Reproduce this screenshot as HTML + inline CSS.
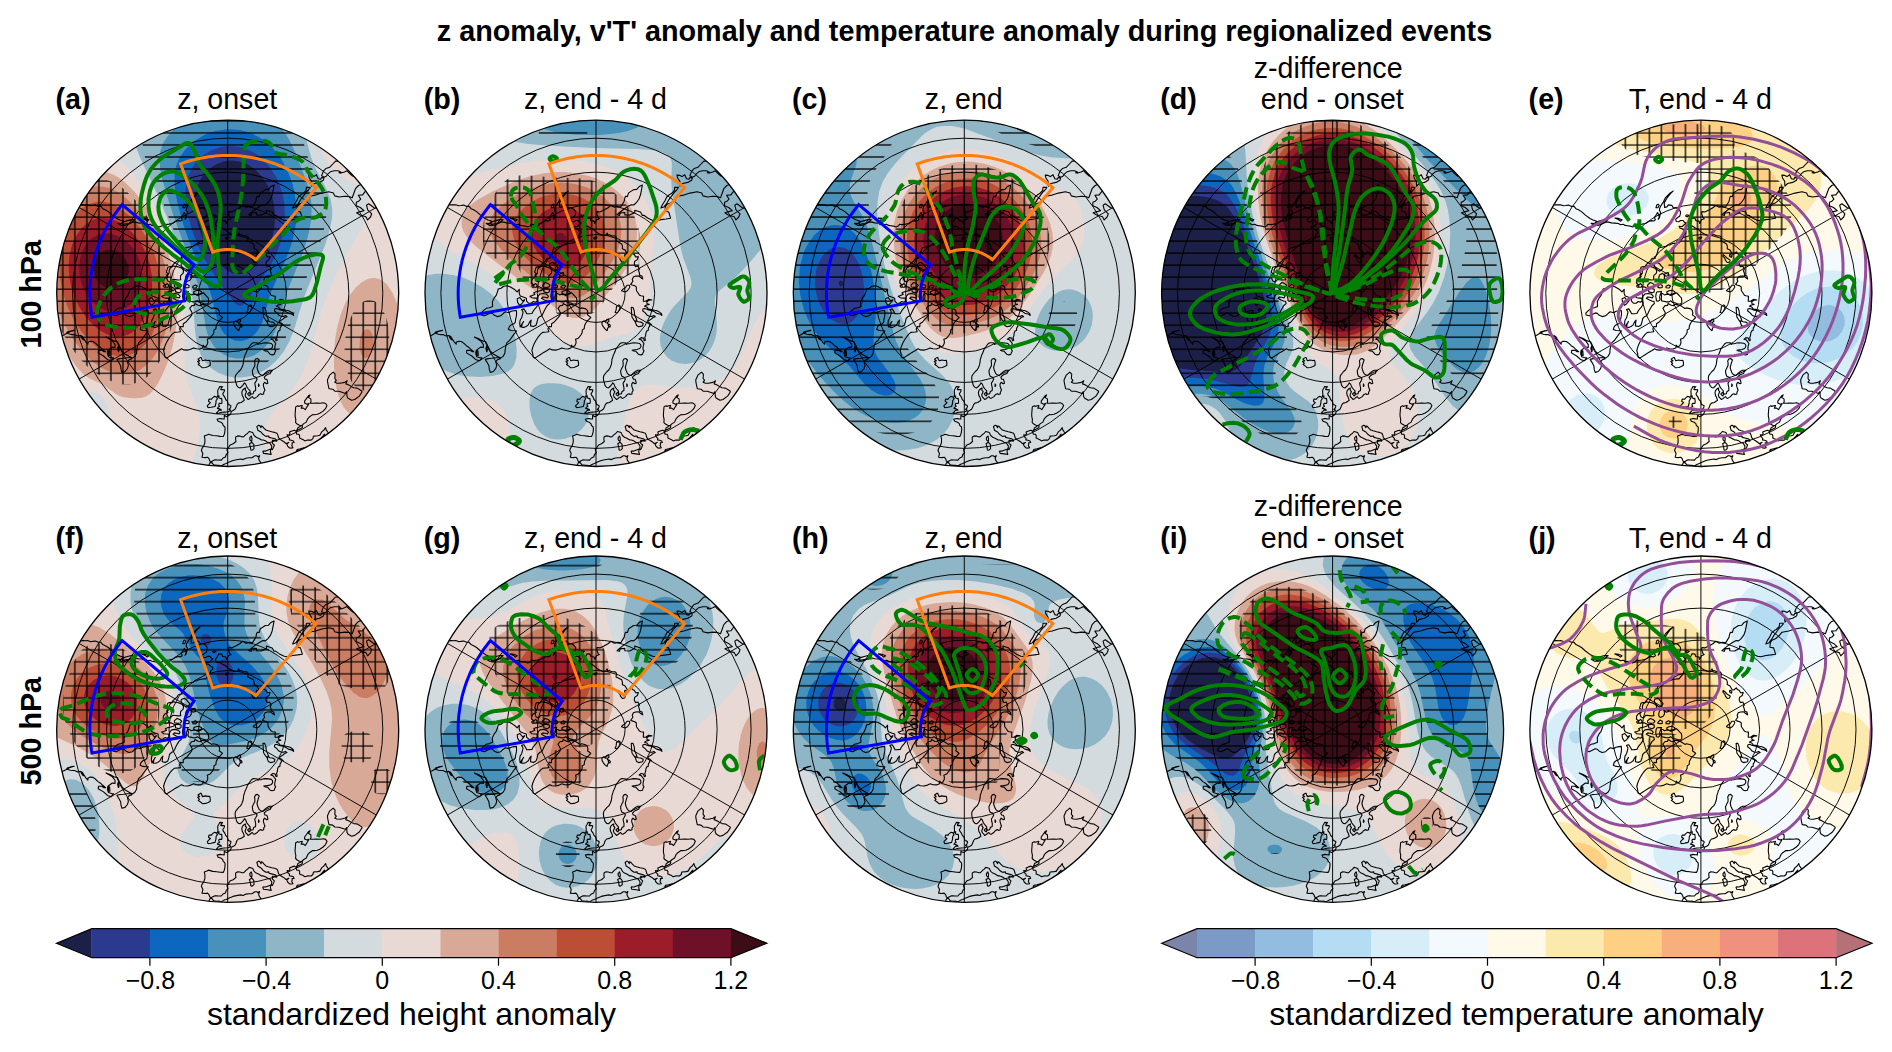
<!DOCTYPE html><html><head><meta charset="utf-8"><title>fig</title><style>html,body{margin:0;padding:0;background:#fff}svg{display:block}text{font-family:"Liberation Sans",sans-serif;fill:#000}</style></head><body>
<svg width="1892" height="1052" viewBox="0 0 1892 1052">
<defs>
<clipPath id="ca"><ellipse cx="227.7" cy="293.3" rx="171.0" ry="173.2"/></clipPath>
<clipPath id="cb"><ellipse cx="596.0" cy="293.3" rx="171.0" ry="173.2"/></clipPath>
<clipPath id="cc"><ellipse cx="964.3" cy="293.3" rx="171.0" ry="173.2"/></clipPath>
<clipPath id="cd"><ellipse cx="1332.6" cy="293.3" rx="171.0" ry="173.2"/></clipPath>
<clipPath id="ce"><ellipse cx="1700.9" cy="293.3" rx="171.0" ry="173.2"/></clipPath>
<clipPath id="cf"><ellipse cx="227.7" cy="729.2" rx="171.0" ry="173.2"/></clipPath>
<clipPath id="cg"><ellipse cx="596.0" cy="729.2" rx="171.0" ry="173.2"/></clipPath>
<clipPath id="ch"><ellipse cx="964.3" cy="729.2" rx="171.0" ry="173.2"/></clipPath>
<clipPath id="ci"><ellipse cx="1332.6" cy="729.2" rx="171.0" ry="173.2"/></clipPath>
<clipPath id="cj"><ellipse cx="1700.9" cy="729.2" rx="171.0" ry="173.2"/></clipPath>
<pattern id="hH" patternUnits="userSpaceOnUse" x="1.7" y="-0.32" width="12.02" height="12.02"><path d="M0 1H12.02" stroke="#000" stroke-width="1.3" fill="none"/></pattern>
<pattern id="hP" patternUnits="userSpaceOnUse" x="1.7" y="-0.32" width="12.02" height="12.02"><path d="M0 1H12.02M1 0V12.02" stroke="#000" stroke-width="1.3" fill="none"/></pattern>
<g id="grid" fill="none" stroke="#000" stroke-width="0.95"><circle r="155.1"/><circle r="121.1"/><circle r="89.1"/><circle r="58.7"/><circle r="29.1"/><path d="M0.0 173.2L-0.0 -173.2M150.0 86.6L-150.0 -86.6M150.0 -86.6L-150.0 86.6"/></g>
<g id="boxes" fill="none" stroke-width="3.0" stroke-linejoin="miter"><path stroke="#ff7f0e" d="M88.6 -105.6l-2.8-2.3 -2.9-2.2 -2.9-2.1 -2.9-2 -3.1-2 -3-1.9 -3.1-1.8 -3.2-1.8 -3.2-1.6 -3.3-1.6 -3.2-1.5 -3.4-1.4 -3.3-1.3 -3.4-1.2 -3.5-1.1 -3.4-1.1 -3.5-0.9 -3.5-0.9 -3.5-0.7 -3.6-0.7 -3.5-0.6 -3.6-0.5 -3.6-0.4 -3.6-0.3 -3.6-0.2 -3.6-0.1 -3.6 0 -3.6 0.1 -3.6 0.1 -3.6 0.3 -3.6 0.4 -3.6 0.4 -3.5 0.6 -3.6 0.6 -3.5 0.8 -3.5 0.8 -3.5 0.9 -3.5 1 -3.4 1.1 -3.4 1.2 32.1 88.3 1.1-0.3 1.1-0.4 1.1-0.3 1.1-0.3 1.1-0.3 1.1-0.2 1.2-0.2 1.1-0.2 1.1-0.1 1.2-0.1 1.1-0.1 1.2-0.1 1.1 0 1.2 0 1.1 0 1.2 0.1 1.1 0.1 1.1 0.1 1.2 0.2 1.1 0.2 1.1 0.2 1.2 0.2 1.1 0.3 1.1 0.3 1.1 0.3 1.1 0.4 1 0.4 1.1 0.4 1.1 0.4 1 0.5 1 0.5 1.1 0.5 1 0.6 1 0.6 0.9 0.6 1 0.6 0.9 0.6 1 0.7 0.9 0.7 0.9 0.7z"/><path stroke="#0000ff" d="M-105.6 -88.6l-1.9 2.3 -1.8 2.4 -1.8 2.4 -1.8 2.5 -1.7 2.4 -1.6 2.6 -1.6 2.5 -1.5 2.6 -1.5 2.6 -1.4 2.7 -1.4 2.6 -1.3 2.8 -1.2 2.7 -1.2 2.8 -1.1 2.8 -1.1 2.8 -1 2.8 -0.9 2.9 -0.9 2.8 -0.8 2.9 -0.8 2.9 -0.6 3 -0.7 2.9 -0.5 3 -0.5 2.9 -0.4 3 -0.4 3 -0.3 3 -0.2 3 -0.2 3 -0.1 3 0 3 0 3 0.1 3 0.2 3 0.2 3 0.3 3 0.4 3 0.4 3 0.5 2.9 92.6-16.3 -0.2-0.9 -0.1-1 -0.1-0.9 -0.1-1 -0.1-0.9 -0.1-1 0-0.9 0-1 0-1 0-0.9 0.1-1 0.1-0.9 0.1-1 0.1-0.9 0.1-1 0.2-0.9 0.1-0.9 0.2-1 0.3-0.9 0.2-0.9 0.2-1 0.3-0.9 0.3-0.9 0.3-0.9 0.4-0.9 0.3-0.9 0.4-0.8 0.4-0.9 0.4-0.9 0.4-0.8 0.5-0.9 0.5-0.8 0.5-0.8 0.5-0.8 0.5-0.8 0.5-0.8 0.6-0.8 0.6-0.8 0.5-0.7 0.6-0.8z"/></g>
<g id="coast" fill="none" stroke="#000" stroke-width="1.1" stroke-linejoin="round"><path d="M104.4 147.4 102.4 141.5 100 138.7 98.5 136.6 97.9 134.3 96 137.1 94.3 138.2 92.1 141.9 90 142.4 85.8 142.8 85.2 145.3 83.4 146.8 79.7 146.7 77.2 147.6 75.6 146.4 71.8 144.7 72 142.6 71.2 141 69 140.9 68.5 139.2 69.1 137.3 72.2 135.7 74.5 134.5 74.8 132.7 73.7 132.5 76.1 130.3 78.6 128.8 80 125.5 81.8 123.5 85 121.3 86.6 121.4 89.6 121 92.1 120 95.4 117.8 97.8 115.4 99.3 112.2 97.9 110.2 95.6 109.5 92.3 110 88.9 109.8 85.3 110 82.5 109.9 83.3 108.5 83.1 105.6 80.9 104.3 82.3 101.6 81 102.2 78.9 105.1 76.9 107.8 76.9 109.8 79.4 110.9 81.2 110.1 80.2 112.1 78.4 115 77.6 116.4 75.7 114.8 73.5 115 74.6 112.2 73 112.5 70.7 113.1 70 112.4 68 113.6 67.8 116.1 67.6 118.5 67.4 121 67.5 123.3 68.1 126 67.9 129.3 69.5 130.8 71.7 132 73.3 132.3 72.1 133.4 70.2 134.4 69.8 135.8 68.3 138.1 66.8 136.9 64.2 137.7 61.8 138.8 62.3 140.5 61.3 141.7 59.4 141.4 60 143.4 61.8 145 61.6 146.6 63.6 146.9 65.7 147.6 66.4 149.2 64.3 149.4 64.6 150.8 64 152.2 65.3 154.5 63.5 154.8 61.9 154.7 59.9 152.8 59.1 150.7 61.2 149.1 58.3 150.3 56.5 148.7 54.6 147.5 52.3 146.1 50.8 144.3 50.1 141.6 49.3 140 46.8 139.1 44 138.5 40.5 137.5 38.2 136.7 36.4 135 34.7 133 33.6 132.6 33.3 134.4 32 132.3 30.9 131.9 29.1 133.3 29.7 134.9 30.1 136.9 33.3 138.7 35.2 141 38.1 143.1 41.2 142.7 41.3 144.1 44 144.7 47.3 145.5 49.1 146.8 48.9 148 46.3 147 44.7 147.1 44.7 150 46.7 151.7 45.7 154.2 44.6 156.4 43.7 155.5 44.1 152.8 42.1 149.7 40 149.2 38.2 147.8 35.5 146.7 33.9 146.7 30.8 144.9 28.5 143.9 26.4 142.2 25.1 139.3 22.4 138.4 21.4 138.2 19.7 140.2 18.3 141.1 16.1 143.4 14.6 143.6 12.2 142.8 10 142.6 8 143.7 7.9 146.2 8.3 148.2 5.5 150.5 2.6 151.6 1.3 153.4 -0.8 156.6 0.3 159.4 -1.4 161.2 -2.3 163.7 -4.6 164.7 -6.4 166.8 -10.2 166.7 -12.8 166.5 -15.3 167.7 -16.5 168.7 -17.9 167.8 -18.6 165.6 -20.1 163.9 -22.8 164.3 -25.7 163.9 -24.8 160.4 -25.7 158.4 -26.3 157.2 -25.7 155.2 -23.9 152.6 -22.8 149.2 -22.8 145.7 -23.4 142.8 -20.7 141.8 -19.3 140.9 -14.9 142.2 -11.2 142.5 -7.5 143.1 -4.5 143.2 -3.5 141.2 -2.9 138.8 -2.6 135.7 -2.8 133.7 -4.6 132 -5 130.3 -6.8 128.9 -9.6 128 -10.6 125.9 -7.7 125.2 -5.5 125.6 -3.5 125.7 -3.4 123.4 -3.4 122 -1.1 123.4 0.2 122.7 2.1 121.4 3.3 119.7 3.5 118.1 5.7 117 7.3 116 8.2 114.3 9.3 111.3 10.6 109.8 13.4 109.2 15.2 108 16.6 107.1 16.2 105.6 15.5 103.7 14.6 102.3 14.1 99.1 14.7 97.1 16.6 95.2 17.7 94.7 17.6 97 18.9 98.3 18 100.1 17.4 101.8 18.1 103.7 19.5 105 20.4 106.2 22.3 105.1 23.1 104.3 24.6 103.3 25.7 104.7 26.8 105.1 29.6 103.3 31 101.5 33 100.3 34.1 101.2 36 100.6 36 98.9 37.2 97 36.5 95 35.7 92.5 35.8 90.5 36.9 89 39 90.5 40.2 90 39.7 87.5 39 86 37.3 85.8 36.5 84 37.9 82.4 39.6 81.2 42.6 80.1 43.5 78.2 44.8 77 41.8 77 39.8 78 37.3 79.9 35 82.3 32.9 81.5 31.4 80.1 30.1 77.3 29.3 74.3 30 71.4 30.7 69.1 31.5 66.7 29.7 65.2 27.9 65.7 26.8 67.7 27.2 69.9 27.1 72.5 25.8 74.9 24.6 77.6 25 80.7 25.9 83 28.2 83.9 29.4 85.8 28.3 88.1 27.1 89.8 27.4 92 28 94.5 27.9 97.2 26 98.3 25.4 100.5 23.3 101 22.4 99.2 22.4 97.6 20.7 95.7 19.2 93.8 18 90.8 16.7 89.5 16 90.9 14.5 92.7 12.5 94.6 10.7 94.2 9 92.1 8.3 89.4 7.6 87 7.4 84.5 7.8 82.3 9.4 80.2 11 78.2 12.8 76.7 14.2 74.2 15.2 71.6 15.7 69 16 66.1 16.8 63.7 17.4 61.6 18.2 60.2 19.1 58 19.8 55.9 21.3 54 22.5 52.2 24 50.3 25.7 49.4 28 49.5 29.9 49.8 30.1 51.1 31.6 50.5 33.4 50.4 35.5 49.7 37.9 49.4 40.9 49.7 43.6 50.2 44.8 51.5 44.9 53.5 43.7 55.2 40.9 56.2 38.2 56.6 36.1 56.9 37.7 57.7 39.9 58 41.3 59.6 42.5 61 44.4 61.6 46.5 61.1 46.9 59.6 48 57.6 47.1 56.4 47 54.8 47.3 52.6 48 50.2 46.6 48.3 45.1 46.4 43.1 45.8 45.1 44.3 47.4 44.8 48.3 47.4 49.5 47 48.8 44.3 49.6 42.4 49.9 39.7 50.8 37.6 52.2 37.2 52.4 34.7 53.6 32.8 53.7 31 55.5 31.4 53.1 29.5 51.6 29.2 52.6 27.4 55.3 25.8 57 24.2 59.3 23.4 57.8 22.2 55.9 23.1 53.9 23.1 51.2 21.9 49 19.3 46.8 17.7 46.9 15.7 48.6 15.1 51.7 16.3 54.9 17.1 58.3 18.3 60.6 19.9 64.4 20.9 65.9 22.2 65.5 20.3 63.2 18.6 61 17.5 58.6 17 55.7 16.3 52.4 15.8 50.9 13.8 48.6 13 50.5 11.7 53.3 11.1 51.1 10.4 50.8 8.5 52.8 7 55.9 6.7 52.6 6.1 49.7 8 47.3 7.9 47.6 2.9 44.9 2.5 43.5 1.9 42.3 0 40.5 -2.5 40.3 -4.6 40.3 -6.4 38.7 -7.5 36.1 -8.3 34.7 -8.9 35.6 -10.2 36.9 -12 36.2 -13.9 37.4 -16.4 39.6 -17.2 42.8 -17.3 45.1 -15.5 46.7 -14.3 46 -17.2 43.7 -18.1 43.3 -20.6 42.4 -23 43.5 -24.1 41.9 -27.2 39.5 -26.6 38.3 -28.9 38.6 -31.8 41.3 -33.7 42.4 -36.6 39.7 -36.4 38.2 -38.9 36.4 -39.7 35.4 -41.4 32.9 -39.2 31.3 -39.4 29.1 -43.2 26.3 -44.6 26.5 -46.9 25.7 -49.4 22.3 -51.3 20.1 -52.3 20.4 -56 19.2 -57.3 15.9 -57.4 13 -58.7 11.8 -57.8 11.2 -60.3 9.7 -58.2 6.6 -58 3.6 -59.2 1.1 -60.5 -0.5 -62 -2.8 -64 -5.7 -65.3 -8.2 -67.2 -10.5 -66.6 -11.8 -68.2 -12.5 -69.6 -11.3 -71 -9.7 -73.7 -9 -75.4 -5.9 -75.1 -5.1 -72.7 -1.9 -72.2 -1.2 -69.8 0 -72.2 0.6 -73.5 3.3 -74.6 2 -75.9 0.8 -79.3 1 -81.7 3.8 -81.3 8 -83.2 12 -85.5 15 -87.9 18.3 -86 21.6 -86.8 24.7 -86.3 26.7 -89.6 28.2 -92.1 28.8 -95.3 29.6 -97 31.4 -96.7 32.6 -100.4 37.7 -103.7 40.7 -103.9 43.2 -106.8 46.4 -108.3 45.4 -103 44.5 -98.5 43 -94.3 40.3 -90.6 37.7 -88.3 35.3 -88.6 31.6 -86.7 27.4 -83.8 23 -80.3 21.1 -78.6 23.5 -77.9 24.1 -80.3 28.8 -80.8 28.9 -78.4 33.7 -78.2 38.9 -80.9 38.7 -83.1 44.5 -81.2 46.4 -77.9 47.9 -78.1 51.7 -75.3 56.6 -72.9 60 -72.5 65 -73.7 70 -74.3 74.7 -75 72.7 -81.3 69 -82 69.4 -86.6 71.1 -89 74.5 -90.4 77.7 -92.9 81.1 -97 87.8 -98.2 94.1 -100.2 101.1 -101.5 105.7 -100.3 107 -97.4 111.6 -96.3 116.9 -97.1 121.2 -96.8 124.5 -95.5 125.8 -99 127.8 -104.6 130.8 -107.8 134.1 -109 136.4 -107.3 141 -104.3 137.4 -101.7 134.9 -98.4 130.6 -98.1 133 -94.2 131 -92.1 128.6 -91.1 128.5 -87.6 132.6 -85.8 136.3 -82.6 132.7 -81.7 128.9 -80.5 132.3 -78.3 138.2 -76.6 139.9 -73.4 142.8 -76.3 144 -79.5 140 -83.5 138.8 -88.1 141 -89.5 146.4 -85.5 150.6 -84.8 152.7 -89.3 155.2 -92.5M-27 178.6 -23.6 176.8 -20.6 175 -18.6 171.4 -17.5 169.3 -16 169.1 -14.1 171.5 -10.8 172.1 -9 171.9 -6.6 172.7 -3.6 170.9 -1.5 170.2 1.5 168.8 5.3 167.2 8.7 166.4 13 165.7 15.4 166.3 18.2 164.9 21.4 164.5 24.3 164.5 27.2 162.5 29.2 162.5 30 163.5 31.9 162.4 30.9 165.2 31.6 167.3 33.2 169.2 31.1 173 31.5 174.8 35.1 177.2M-11.6 120.2 -8.4 119.8 -5.8 119 -3.1 118.8 0.4 118.5 2.7 117.5 2.6 116.5 1.2 116.2 2.6 114.9 3.3 112.6 1.8 111.6 0.6 111.3 0.2 109.7 -0.4 107.8 -2 106.2 -2.9 103.9 -4.6 101.6 -4.9 100.3 -3.6 98.5 -3.2 96.6 -5.7 96.2 -6.9 96.4 -6.5 94.9 -5.1 93.4 -8 93.2 -8.8 95 -9.8 96.5 -10 98.4 -9.8 100 -9.8 101.9 -10.3 103.4 -8.6 102.6 -9 104.5 -7.2 105.3 -6.1 105 -5.8 107.3 -5.7 108.6 -6 110.2 -8.5 110 -9 111.6 -8.1 113 -9.8 114.1 -10.3 115.1 -8.1 115.6 -6.7 116.3 -6.3 117 -8.6 116.8 -10.2 118.7 -11.6 120.2M-19.6 114.5 -16.6 114 -13.9 113.4 -12.7 113.2 -11.7 109.7 -11.7 107.5 -10.3 105.4 -11.3 103.7 -13.4 103.1 -15.7 105 -16 105.9 -18.7 105.8 -19.2 108 -17.3 109.3 -19 111 -20.4 112.4 -19.6 114.5M-26.7 63.8 -25.8 66.2 -25.1 67.4 -22.5 66.7 -19.9 67.2 -18 67.1 -17.4 69.8 -17.6 72.3 -19.6 73.3 -22 74.2 -25.3 74.5 -27.2 72.8 -29.5 71.2 -28.3 70.1 -30.1 68 -27.9 67.6 -29.7 65.8 -28.3 64.8 -26.7 63.8M-10.1 15.6 -8.7 17.1 -8 19.7 -8.5 21.6 -6.2 23.3 -5.2 24.2 -7.3 26.4 -8.8 27.8 -10.2 29.7 -11.5 32.4 -11.8 35.4 -13.7 36.6 -13.8 39.1 -14.8 41.2 -16.1 43 -17.7 44.9 -20.5 46 -19.9 48.1 -20.1 50.3 -21.3 52.7 -23.3 53.5 -24.7 51.9 -24.8 54.5 -27.8 55.7 -31.4 55.5 -34.1 54.6 -37.7 56.2 -40.5 56.8 -43.9 56.6 -46.2 55.5 -48.9 57.2 -52.3 59.1 -55.8 61.4 -58.8 63.3 -61.1 64.9 -63 63.5 -63.2 60.6 -64.1 57.3 -63.2 53.8 -61.6 49.9 -59.8 46.7 -57.7 43.5 -55.5 40.9 -53.4 39.1 -49.5 38.7 -47.1 38.4 -48.1 35.6 -46.9 33.2 -44.5 33.5 -44.4 30.5 -41.7 28.7 -39.5 26.1 -37.7 24 -36 21.8 -35.6 19.4 -36.8 17.1 -38 15 -35.8 12.3 -33.4 12.2 -32.8 10.2 -29.7 12 -27 12.3 -26.6 11 -24.3 11.3 -22.3 11.9 -20 12.5 -18 13.8 -16 15.2 -14.6 14.6 -12.3 15.1 -10.1 15.6M11.1 37.5 8.8 35.4 7.4 33.6 6.1 31.4 5.9 29.1 7.9 27.7 9.7 29 10.5 26.5 12.5 25.6 13 28 11 29.5 12.3 31.2 12.7 33.2 11.5 35.5 11.1 37.5M13.4 33.9 12.2 32.1 12.7 30.7 14.2 31.9 14.2 33.5 13.4 33.9M21.1 19.7 19.1 19.1 20.1 16.8 20.5 13.3 22.8 11.6 24.2 12.8 23.7 15.4 22.7 17.7 21.1 19.7M46.6 32.6 42.7 33.4 40.6 32.2 39.5 29.2 40.5 27.3 42.2 28.5 44.8 28.8 47.2 30.1 46.6 32.6M39.3 28.5 37.8 26.5 36 23.8 35.6 20.1 35.4 16.5 35.2 14 37 14.2 38.2 17.4 38.6 21.4 39.9 24.4 40.7 26.4 39.3 28.5M33.9 -6 31.4 -2.5 29.1 -1.3 25.5 -2.5 26.8 -4 29.2 -5.4 31 -8 33.4 -8 33.9 -6M29.4 -33.2 28.6 -31.2 26.3 -30.8 24.5 -33.1 24 -34.9 21.9 -37.2 22.3 -38.7 24.2 -37.2 26.4 -35 29.4 -33.2M31.2 -37.9 30.4 -35.9 28.6 -37.3 28.9 -39 31.2 -37.9M1.2 -56.3 0.2 -55.1 -0.9 -54.2 -2.1 -54.4 -2 -55.9 1.2 -56.3M82.8 -105.9 78.7 -106 78.4 -102.9 75.4 -99.7 73.7 -98.9 70.7 -96.3 69 -92.6 66.7 -89.1 64.9 -85.2 67.8 -86.2 70.8 -90 72.8 -93.5 75.4 -96.9 78.3 -100.9 80.7 -103.3 82.8 -105.9M96.4 -115.2 95.6 -113.1 91.8 -110.9 86.7 -109.8 84 -107.1 83.8 -112 81.6 -115.3 81 -118.2 83.8 -117.9 86.1 -116.7 88.7 -118.6 90.5 -114.6 93 -114 93.9 -115.9 96.4 -115.2M124.6 -128.2 119.1 -127.7 115.1 -131.4 111.8 -132.3 107.8 -132.2 105.1 -129.3 102.1 -126.1 98.1 -124.7 95.7 -122.1 93.9 -117.7 96.4 -116.1 98.6 -117.1 100.2 -119.4 102.7 -121.5 106.5 -122.5 110.3 -122.5 113.1 -121.3 111.3 -120.6 113.3 -120.2 116.8 -121.4 119.2 -122.6 122 -119.8 124.9 -117.3 129.9 -116.2 133.7 -115.8 131.7 -118.6 128.6 -119.9 124.6 -122.4 123.9 -124.7 124.6 -128.2M139 -115.4 136.3 -115.1 134 -116.1 133.5 -118.9 134.5 -120.6 139 -115.4M35 157.7 37.9 157.8 43.2 155.7 42.7 158.4 43.5 161.2 40 160.6 35.8 160.1 35 157.7M23.2 157 22.7 153.5 21.7 150.4 24.1 149 26.1 151.1 26.3 155.4 24.8 156.7 23.2 157M24 148.3 22.2 146.5 22.1 144.4 23.6 142.7 24.3 145.4 24 148.3M68.6 157.8 69.5 156.2 72.6 155.6 76.4 154.6 74.6 156.3 71.8 157.6 68.6 157.8M93.9 147.3 92.6 145.9 94.8 143.2 96.8 140.9 96.8 143.6 95.1 146.5 93.9 147.3M134.6 98.2 132.9 96.9 129.5 94.8 126.2 94.4 123.9 93.4 121.8 92.1 120.2 91.2 118.1 90.6 119.5 87.5 117 89.1 112.4 90 109 89.8 107.1 88.9 108.6 87 107.1 85.2 107.4 80.9 105.5 78.9 101.9 81.9 99.8 86.5 99.8 88 100.4 91.4 101.3 95.4 105 95.9 107.1 97.8 111.1 98 114.3 99 117.6 100.1 119 98.4 119.3 103 120.1 104.8 123.9 107 127 106.2 131.6 102.8 134.6 98.2M21.5 102.7 19.9 100.7 21.6 99.1 22.5 100.5 22.2 102.5 21.5 102.7M30.8 93.6 30.8 90.6 31.5 92 30.8 93.6M-160.5 -82.9 -156.7 -84.4 -155 -85.2 -152.5 -86.6 -150.8 -88.8 -148.1 -88.3 -144.5 -88.6 -142.1 -88.4 -140.2 -88.6 -137.5 -87.6 -135.2 -87.8 -132.3 -88.2 -129.4 -86.9 -126.8 -86.9 -125 -84.6 -122.4 -83.5 -119.4 -81.7 -115.5 -78.2 -110.9 -74.8 -107.8 -73.3 -104.2 -72.1 -106.6 -69.7 -109.7 -69.9 -106.2 -67.9 -104.2 -67.9 -101.7 -68.1 -98.9 -69.3 -94.6 -71.3 -92.2 -71.2 -89.5 -70.4 -86 -70.2 -82.6 -69.8 -80.3 -68.5 -77.7 -69 -75.7 -67.9 -73.5 -67.6 -70.8 -67.2 -68.2 -66.3 -65.6 -67.5 -64.9 -69.1 -62.1 -68.7 -58.7 -69.2 -55.5 -69.8 -52.3 -71.8 -49.4 -72.7 -47.3 -72.3 -45.5 -73.4 -46.6 -76 -45 -78 -43.3 -80.8 -42.4 -78.8 -41.6 -76.4 -42.7 -74 -41.5 -75.4 -40.9 -78.2 -40.3 -81.2 -41.5 -82.8 -41.1 -85.4 -39.6 -88.2 -37.4 -91.5 -35.6 -95.3 -33.1 -97.9 -30.7 -100.3 -27.8 -102.2 -30.5 -99.7 -32.9 -96.6 -34.6 -94 -36.7 -90.4 -36.5 -88.1 -36.3 -85.9 -34 -86.4 -32.5 -88.4 -28.9 -87.9 -27.8 -85.7 -24.5 -85.4 -22.2 -84.1 -20.4 -81.7 -20.5 -79.4 -21.3 -77 -23.2 -75.8 -25.2 -74.2 -24.7 -71.8 -22.2 -71.6 -20.2 -72.8 -17.8 -72.8 -16.4 -71 -14.8 -70.4 -17 -68.3 -19.1 -66.5 -21.8 -67 -20.8 -65.1 -18.9 -64.7 -16.8 -62.8 -14.9 -62 -15 -60.1 -17 -58.3 -17.6 -55.9 -19.1 -53.9 -20.5 -52.1 -21.8 -50.3 -24.1 -50.5 -26 -49.9 -28.2 -49.8 -30.5 -48.7 -33.1 -48.1 -34.7 -46.9 -37.3 -46.4 -39.7 -46 -42.3 -45.3 -42.8 -43.6 -43.4 -41.2 -44.3 -38.5 -45 -37.1 -46.5 -36.3 -45.4 -35.2 -48.2 -35 -49.6 -34.1 -50.5 -32.2 -52.4 -30.8 -54.4 -28.9 -55.8 -27 -58.3 -26.6 -59.9 -26 -60.7 -23.3 -61.4 -21.2 -59.7 -19.6 -61.1 -18.1 -59.7 -16.6 -62.9 -15.1 -64.3 -13.1 -64.5 -10.2 -62.6 -8.8 -64.3 -7.3 -63.5 -6.1 -59.8 -6.3 -56.8 -6.5 -54.2 -5.2 -52.5 -4.1 -54.4 -2.9 -57.7 -2 -59.8 -1.6 -62.3 -0.5 -61.1 1.1 -64 2.2 -66.1 2.9 -63.9 4.5 -61.5 4.8 -59.1 4.8 -58.8 7.7 -60.4 9 -62.6 8.2 -64.8 9.9 -67.2 10 -69.4 7.9 -69.6 4.9 -72.7 3.8 -75.8 2.6 -76.8 0 -76.7 -4 -78.9 -1.4 -81 -3.5 -83.4 -5.1 -86.1 -6.6 -88.8 -7.5 -92.3 -7.1 -95 -5 -97.8 -4.3 -98.5 -1.4 -99.8 2.1 -101.6 4.4 -103.6 8.2 -103.4 13.1 -106.5 14.4 -109.7 15 -112.6 17.4 -115.1 19.9 -114.8 21.7 -111.7 22.5 -108.6 21.1 -105.7 19.6 -103.6 20.1 -101.6 22 -98.7 23.3 -95.3 22.5 -92.6 20 -90.7 18.5 -87.3 19.4 -84.8 18 -82 17.4 -79.6 17.2 -79.4 20.5 -79.7 23.1 -80.4 26.1 -80.7 28.9 -82.1 30.5 -85 31.6 -86.7 33.3 -87.6 36.1 -84.8 37.2 -81.2 37.5 -79.4 37.7 -81.8 40.6 -84.1 43.8 -86.5 47.2 -89 49.3 -90.2 52.9 -90.9 56.8 -91.1 60 -92.9 63.1 -95.3 64.8 -97.7 63.5 -102.9 60.6 -105.8 57.5 -108.2 52.8 -110.3 48.4 -113.8 47.6 -117.7 45.2 -121.7 43.8 -118.6 45.5 -115.2 47.7 -112.6 51.3 -112.7 54.2 -115.4 53.8 -117.1 55.1 -119.8 57.1 -120.3 60 -119.3 63.4 -116.1 64.4 -114.1 64.5 -116.3 67.4 -119.9 66.5 -124.2 62.7 -129.5 59.6 -129.2 57 -125.8 57.1 -123.7 58.5 -122.1 58.5 -125.3 55.8 -127.2 54 -129.7 52.4 -132 50.1 -134.6 48.2 -137.6 47.9 -139.8 49 -139.8 50.9 -141.6 49 -143.2 46.5 -145.4 43.1 -147.1 42.2 -149.9 42.7 -153.2 41.3 -155.1 41.3 -157.4 41 -160.6 40 -157.7 38.2 -153.5 37.1 -157.1 37.7 -160.5 38.8 -161.3 40.2 -164.3 41.9 -167 42.9 -169.6 40.1 -172.2 37.2 -174.1 35.4 -177.6 32.9M-95.6 65.5 -98.5 66.4 -100.3 68.4 -99.3 72.1 -100.3 75.3 -102.7 78.2 -105.7 79.1 -106.7 76.1 -107 72.7 -108.8 69.3 -110.8 66.1 -107.8 65.3 -104.1 65 -100.5 64.5 -97.5 64.3 -95.6 65.5M-105.5 -69.6 -103.8 -71.6 -100.1 -72.7 -96.1 -73.7 -92.8 -73.6 -95.1 -71.7 -98.6 -69.8 -101.5 -69.5 -104.3 -69 -105.5 -69.6M-86.3 -75.3 -82.3 -74.9 -78.8 -73.5 -80.6 -72.1 -82.5 -73.8 -86.3 -75.3M-43.2 -89.3 -41.7 -87.9 -43 -85.5 -44.9 -85.6 -44.3 -88 -43.2 -89.3M-14.1 -78.6 -11.6 -77.8 -13.5 -76.5 -15.3 -77.4 -14.1 -78.6M-47 7.9 -46.5 10.3 -48.8 12.2 -50.1 14.4 -51.5 16.9 -53.1 20.4 -54.2 22.4 -56.4 23.4 -58.2 25.3 -58.9 28.7 -60 31.9 -62.4 33.2 -65.5 32.6 -65.2 29 -64.8 26.8 -66.5 28.9 -67.7 31.6 -69.9 33.2 -72.2 34.1 -74.4 33.9 -73.8 30.6 -72.4 28.2 -74.3 31.1 -75.8 33.7 -76.3 30.1 -75.9 26.9 -74.4 24.5 -73.6 21.8 -72.9 18.8 -74.4 16.2 -72.1 15.6 -70.1 18.8 -69.3 20.5 -66.8 20.4 -64 20.2 -63 18.1 -61.4 15.9 -60 14.4 -58.4 11.9 -57.9 9.7 -58.8 7.7 -58.4 5.1 -57.7 2.5 -56 0.7 -52.7 0.2 -49.7 0.9 -47.6 2.9 -48.6 4.7 -50.8 4 -53.2 3.7 -54.6 5 -51.4 6.8 -49.1 7.8 -47 7.9M-71.1 6.2 -73.4 7.7 -76.1 4.3 -78.8 5.5 -78.4 8.9 -76.5 12.1 -74.5 10.7 -72.4 8.2 -71.1 6.2M-57.6 -25.3 -54.3 -27.3 -52.1 -26.9 -50.2 -26.7 -48.2 -26.1 -45.5 -24.8 -44.2 -22.7 -44.5 -20.1 -47.1 -17.6 -47.3 -15.4 -46.9 -13.5 -49.5 -13.3 -52.4 -13.7 -55.2 -13.8 -57.3 -11.3 -59.8 -12.2 -60.8 -14.6 -60.9 -16.9 -58.6 -20.2 -58.5 -23 -57.6 -25.3M-46.2 -30 -43.1 -30.8 -41.2 -29.4 -39.5 -27.2 -37.8 -25.5 -38.9 -23.8 -41.3 -22 -43.7 -23.7 -45.7 -26.2 -46.7 -28.1 -46.2 -30M-53.6 -8 -50.7 -10.8 -47.9 -9.7 -46 -8.1 -47.2 -6.2 -50 -5.9 -52.9 -6.3 -53.6 -8M-52.5 -4.6 -49.5 -4.9 -46.6 -4.1 -46.7 -1.6 -48.8 -0.4 -52.1 -1.4 -52.5 -4.6M-62.3 -8.2 -60.3 -9.8 -58.7 -8 -59.9 -6.1 -62 -6 -62.3 -8.2M-41.4 -18.4 -38.3 -20 -36.6 -18.2 -36.4 -15.1 -37.8 -13 -40.7 -11.7 -42.1 -13.3 -42.1 -15.8 -41.4 -18.4M-43.4 -6.1 -41 -9.1 -38.6 -7.9 -38.7 -5.8 -41.1 -5.4 -43.4 -6.1M-44.6 7.6 -42.5 7.9 -40.9 6.5 -41.3 3.6 -40.3 0.4 -39.3 -1.7 -41.4 -1.6 -43.8 -1.5 -44.7 0 -45.2 3.2 -44.6 5.9 -44.6 7.6M-40 0.3 -39.3 2.7 -39.6 5.6 -39.2 7.6 -37.1 7.9 -34.5 8.6 -32.1 8.6 -30.2 7.5 -28.2 9.2 -26 9.5 -23.4 10.4 -20.5 10.9 -19.1 9.3 -19.1 7 -19.5 4.5 -21 3 -22.7 1.2 -24.4 -0.6 -26.2 0.5 -28.2 1.5 -30.2 2.1 -32 1.1 -34.4 0.9 -36.4 1.6 -38.2 0.3 -40 0.3M-34.4 -1.2 -31.9 -2.5 -28.9 -3 -26.4 -1.8 -25.6 -0.4 -28.2 0.5 -31.1 1.2 -33.5 0.3 -34.4 -1.2M-35.2 -6.8 -32.4 -8.4 -30.3 -7.3 -31.9 -5.3 -34.8 -5.5 -35.2 -6.8M-35.6 -20.1 -32.7 -20.8 -32.1 -17.8 -34.9 -17 -36.4 -18.5 -35.6 -20.1M-109.2 58.8 -110.1 54.9 -109.3 52.8 -108.6 56.5 -109.2 58.8M-119.2 62.1 -119.2 57.6 -118.1 57.6 -117.7 62.1 -119.2 62.1M-146.9 42.7 -145.3 44.4 -143.9 46.7 -145.4 45.6 -146.9 42.7"/></g>
</defs>
<rect width="1892" height="1052" fill="#fff"/>
<g clip-path="url(#ca)">
<circle cx="227.7" cy="293.3" r="173.2" fill="#d4dbde"/>
<path fill="#e9d9d4" d="M327 117.3l1.4-2 77.3 0 0 356 -125.6 0 -5.1-6 -5.2-8 -2.9-6 -2.5-8 -0.8-6 0.2-6 1.5-6 2.7-6 5.6-8 20.1-23.6 6-8.9 4.9-9.5 5.2-14 11-42 6.9-19.9 10-21.8 23.2-42.3 4.2-10 2.7-10 0.7-6 -0.4-6 -1.2-4 -2.8-4 -5.4-4 -13-6.2 -8-5.1 -4-3.5 -4-4.5 -5.2-8.7 -1.6-4 -1.5-6 -0.6-10 0.7-6 1-4 2.3-6zM74.9 149.3l6.8-1.4 6-0.3 6 0.5 8 2 6 2.5 6 3.4 8 5.9 6 5.7 6 6.6 6 7.8 6 9 6 10.3 11.7 24 9.5 24 4.7 14 3.3 12 2.4 12 1.3 10 0.8 18 -1 42 1.1 16 2.9 12 9.5 24 1.9 10 -0.2 12 -2.3 14 -3.4 14 -4.3 12 -58.9 0 -7-14.1 -3.8-5.9 -4.2-4.7 -8-6.8 -1.5-2.5 -0.4-4 2.2-10 0.8-6 -0.4-8 -1.7-6 -2.1-4 -2.9-3.5 -4-2.6 -4-0.9 -4 0.5 -4.5 2.5 -3.6 4 -2.1 4 -1.3 4 -2.2 18 -0.3 0.8 -2 1.5 -2 0.2 -4-1.2 -6-3.3 -7-6 -5-6.6 0-245 6-5.7 6-4.5 6-3.4z"/>
<path fill="#d9a997" d="M88.6 171.3l7.1-0.8 6 0.5 6 1.4 6 2.4 6 3.5 6 4.6 10 10.2 6 7.8 6 9.1 10 18.3 8.9 21 3.4 10 3.3 12 3.2 18 1 18 -1.5 20 -1.5 10 -2.2 10 -2.6 8.9 -3.2 9.1 -4.8 10.9 -4 7.6 -4 6 -4 4.3 -4 2.4 -4 1.2 -6 0.6 -6-0.2 -6-0.9 -4-1.3 -4-2.1 -14-9.8 -12-5.5 -6-3.8 -8-8.9 -11.2-16.5 -7.7-14 -7.1-16.4 0-110.4 3.5-7.2 4.5-7.3 4-5.3 5-5.4 5-4.2 6-3.8 6-2.7zM367.1 279.3l2.6-0.8 4-0.5 4 0.6 4 1.7 4 3 2 2.1 5.1 7.9 4 10 3.2 14 1.4 14 -0.1 14 -1.5 14 -2.9 14 -3.9 12 -5.3 11.4 -6 8.9 -4 4.3 -4 3.2 -6 3.1 -4 1 -4 0.2 -6-1.4 -6-4 -4-4.8 -4.1-7.9 -2.9-10 -2-12 -0.8-12 0.2-14 1-12 2.1-12 3.2-12 3.9-10 5.4-10 6-7.8 6-5.3z"/>
<path fill="#cb7d63" d="M91 187.3l4.7-0.8 6 0 6 1.1 4 1.3 6 3 6 4.1 10 9.5 6 7.3 6 8.6 9 15.9 3.7 8 3.7 10 4.9 18 1.4 8 1 10 0 16 -2 16 -1.9 8 -2.5 8 -3.3 7.6 -3.6 6.4 -4.2 6 -3.6 4 -4.6 4 -4 2.6 -4 2 -6 1.7 -4 0.5 -6-0.1 -6-1.1 -6-2.1 -6-3 -6-3.9 -6-4.9 -5.7-5.7 -10.3-13 -8.9-15 -6.8-16 -3.2-10 -1.9-8 -1.8-10 -0.8-8 -0.2-16 1.9-16 1.8-8 2.5-8 3.3-8 3.1-6 3.9-6 4.9-6 4.2-4 5.7-4 4.3-2.2zM363.4 331.3l2.3-1.7 2-0.3 2 1 2.2 3 1.3 4 0.5 3.5 -0.4 6.5 -1.6 5.5 -2 3.2 -2 1.6 -2 0.4 -2-0.6 -2-2.2 -1.6-3.9 -0.7-4 0.5-8 1.8-5.5z"/>
<path fill="#bd4e36" d="M91 203.3l4.7-1.2 4-0.5 4 0.2 6 1.3 4 1.5 6 3.3 10 7.9 10 11.2 8 12.2 6 12.6 4.3 13.5 2.6 14 0.7 16 -1.3 14 -3.3 14 -5 11.8 -6 8.7 -4 4.1 -4 3.1 -4.1 2.3 -5.9 2.1 -8 0.7 -4-0.4 -6-1.5 -6-2.7 -4-2.3 -5.2-3.9 -4.8-4.3 -8.5-9.7 -7.7-12 -6.6-14 -4.5-14 -2.5-14 -0.7-14 1.3-14 3.2-12.9 4.6-11.1 3.4-5.7 3.2-4.3 6.8-6.8 4-2.7z"/>
<path fill="#9d1c29" d="M94 219.3l3.7-1.1 4-0.4 8 0.8 8 3 8 5 8 7.3 7.2 9.4 5.3 10 3.4 10 2.2 12 0.3 12 -1.5 12 -2.9 10.8 -4.1 9.2 -5.9 8.3 -6 5.1 -4 2.1 -4 1.3 -6 0.6 -8-1.3 -8-3.8 -8-6.1 -8-8.7 -6-9.1 -5.1-10.4 -3.3-10 -2-10 -0.7-12 0.9-10 2.4-10 3.8-8.8 6-8.6 6-5.3z"/>
<path fill="#6f1029" d="M97.3 235.3l6.4-1.7 6 0.1 6 1.5 6 2.8 6 4.4 4.5 4.9 4.1 6 3.4 8 1.8 8 0.4 8 -1 8 -1.9 6 -3.3 6.8 -4 5.3 -6 4.9 -6 2.7 -6 0.8 -6-0.7 -6-2.3 -4-2.5 -6-5.4 -4-5.1 -4-7.1 -2.7-7.4 -1.3-6.2 -0.5-7.8 0.8-8 1.6-6 2.7-6 3.4-4.9 4-3.9z"/>
<path fill="#3c0d16" d="M103 251.3l2.7-1 4-0.5 4 0.5 4 1.5 4 2.8 2 2.1 2 2.8 1.8 3.8 1 4 0.2 4 -1.2 6 -1.8 3.7 -2 2.5 -2 1.8 -4 2.3 -6 1.1 -4-0.5 -2.7-0.9 -5.3-3.5 -2.2-2.5 -2.3-4 -1.3-4 -0.6-4 0.1-4 1-4 1.3-3 2.1-3 2-2z"/>
<path fill="#8fb6c6" d="M139.2 117.3l1.4-2 162.1 0 4.6 28 3.8 14 4.6 11.4 10.8 20.6 4.1 10 1.6 10 0 6 -0.7 6 -2.7 12 -3.8 12 -19.4 48 -3.9 11.2 -7.5 24.8 -4.8 12 -5.5 10 -6.2 8 -8 7.5 -4 2.8 -6 3.3 -8 3 -10 1.7 -8-0.2 -8-1.7 -8-3.3 -6-3.9 -6-5.8 -4.7-7.4 -3.1-8 -1.8-8 -1.2-10 -1.5-22 -1.4-12 -2.7-14 -4-14 -8.3-24 -11.3-29.2 -10-23.4 -15.7-33.4 -3.2-8 -1.8-6 -1.1-8 0.5-6 1.7-6zM93.6 405.3l2.1-0.1 1.6 2.1 0.4 2 -0.8 2 -1.2 1.3 -2-0.3 -1.6-3 0.3-2z"/>
<path fill="#4791bb" d="M190.4 117.3l4-2 68.8 0 6.5 3.6 6 4.4 6 5.7 4 5.1 4 6.6 4 8.3 7.4 18.3 5.2 14 3 10 1.8 10 0.5 10 -0.7 10 -2.2 12 -2.7 10 -3.3 10 -16.2 40 -9.7 34 -5.1 10.9 -3.4 5.1 -3.4 4 -7.3 6 -3.9 2.1 -6 2.2 -6 1 -6-0.1 -6-1.3 -4-1.6 -4.1-2.3 -4.9-4 -3.4-4 -3.6-6 -2.4-6 -1.6-6 -4.7-30 -3.4-14 -4.7-14 -20.2-56 -6.5-20 -4-14 -2-10 -0.7-10 0.8-8 2.8-8 4.6-7.3 6-6.6 8-6.6z"/>
<path fill="#0d67be" d="M226.6 129.3l7.1 0.1 6 0.7 6 1.4 6 2.1 6 2.8 6 3.7 6 4.9 4 4 5.1 6.3 3.9 6 6.7 14 2.9 8 2.1 8 2 14 0.2 8 -0.7 10 -1.7 10 -2.5 10 -5 14 -15.3 34 -2.6 8 -4.9 18 -2.1 6 -4.1 7.4 -4 4.6 -6 4 -6 1.7 -6-0.3 -4-1.4 -3.5-2 -4.5-4.3 -2.5-3.7 -2-4 -2.7-8 -4.1-18 -3.1-10 -17.6-41.2 -8.2-22.8 -6-22 -1.9-10 -1-8 -0.1-10 1.8-10 3.4-8.1 6-8.3 8-7.4 10-6.2 6-2.6 6-1.8z"/>
<path fill="#2b3a8f" d="M220.2 147.3l5.5-1 6-0.2 10 1.4 10 3.9 6 3.7 4 3.2 8 8.6 6.5 10.4 4.9 12 1.7 6 1.4 8 0.7 12 -1.1 14 -2.8 12 -4.5 12 -3.9 8 -4.9 8.5 -18 27 -4 5.3 -2 2 -2 1.3 -2 0.4 -2-0.5 -2-1.2 -4-4.5 -20-28.7 -8-13.4 -6-12.4 -5.9-15.8 -3.8-14 -2.1-12 -0.6-10 0.9-10 2.2-8 3.3-6.9 5.2-7.1 6.8-6.2 8-4.8z"/>
<path fill="#1c1f47" d="M224 161.3l7.7-0.8 8 1 8 3.1 8 5.4 6.8 7.3 5.1 8 4.2 10 2.4 10 0.9 10 -0.7 12 -2.2 10 -3.7 10 -5.7 10 -7.1 8.6 -4 3.5 -4 2.6 -6 2.1 -6-0.1 -4-1.2 -4-2 -8-6.4 -6-6.9 -6-9 -5.5-11.2 -4.1-12 -2.2-10 -1-10 0.2-8 1.4-8 3.2-8.4 4-6.3 6-6.2 6-4z"/>
<path fill="url(#hH)" d="M152.5 117.3l1.8-2 141 0 1.8 4 2.6 7.8 5.1 20.2 3.7 12 4 10 9.1 20 2.8 8 1.4 6 0.6 6 -0.1 6 -1 8 -2.7 12 -3.8 12 -18.5 46 -10.4 34 -4.8 12 -5.6 10 -6.6 8 -7.2 6.2 -4 2.6 -6 2.9 -8 2.4 -8 0.9 -8-0.7 -8-2.3 -8-4.2 -6-5 -4-5 -4-7.8 -2.5-8 -1.4-8 -2.7-28 -1.4-10 -2.1-10 -2.8-10 -13.1-37.7 -12-31.2 -15.2-37.1 -2.9-8 -2.2-8 -1.2-10 1.1-8 3.4-8z"/>
<path fill="url(#hP)" d="M91.2 179.3l4.5-0.6 6 0.2 6 1.3 6 2.3 6 3.3 6 4.6 10 10.1 6 7.8 6 9 9.7 18 4.4 10 3.7 10 4.9 18 2.7 18 0.3 18 -2 18 -3.9 16 -3 8 -3.7 8 -3.6 6 -4.4 6 -5.1 5.3 -4 2.9 -4 2.2 -6 2 -4 0.7 -6 0.1 -6-0.9 -4-1.3 -8-3.7 -9.5-5.3 -5.7-4 -4.8-4.3 -6-6.5 -5.6-7.2 -10.2-16 -5.1-10 -3.4-8 -5.7-17.6 0-72.3 1.9-6.1 3.2-8 4.1-8 3.9-6 4.9-6 6-5.7 6-4 6-2.8zM364.1 301.3l3.6-1.2 2-0.1 4 0.8 4 2.5 4 4.6 3.7 7.4 2.3 8 1.2 8 0.5 10 -0.7 10 -1.4 8 -2.2 8 -3.4 8.3 -4 6.5 -4 4.4 -4 2.7 -4 1.3 -2 0.1 -4-0.9 -4-2.6 -3.2-3.8 -2.8-5 -2-5.4 -1.8-7.6 -1-8 -0.3-8 0.4-8 1-8 1.7-7.2 2.3-6.8 2.8-6 2.9-4.5 4-4.5z"/>
<use href="#coast" x="227.7" y="293.3"/>
<use href="#grid" x="227.7" y="293.3"/>
<path fill="none" stroke="#008000" stroke-width="4.0" stroke-linejoin="round" stroke-linecap="butt" d="M188.8 143l-1.8 0 -2.1 0.7 -9.4 5.9 -7.8 4.4 -5.1 3.3 -2.3 1.8 -4.2 4 -3.9 4.4 -1.7 2.4 -3.1 5.4 -1.3 3.1 -2.2 6.6 -2.3 9.3 -0.9 5.7 -0.4 5.7 0.3 5.8 0.9 5.8 1.6 5.7 1.1 2.7 2.8 4.7 5.6 6.5 6.8 6.7 12.9 10.7 12.7 9.4 11.2 9.6 9.8 8 3.7 2.3 3.5 1.7 3.5 1.1 1.4 0.1 1.2-0.4 0.8-1.6 0.2-2.7 -2.7-28.2 -0.2-7 0.4-7 2.8-28.1 0-6.8 -0.8-5.9 -1.4-5.8 -1-2.7 -2.2-5.1 -2.7-4.5 -4.7-6.4 -6-6.9 -2.5-3.5 -1.5-3.5 -1.6-5.3 -2.5-5.8 -2.2-4 -1.2-1.5z"/>
<path fill="none" stroke="#008000" stroke-width="4.0" stroke-linejoin="round" stroke-linecap="butt" d="M173.6 171.5l-1.8-0.1 -3.9 0.6 -2 0.6 -3.7 1.7 -1.8 1.2 -3.4 2.9 -3 3.5 -1.3 1.9 -1.1 2.3 -1.7 5 -1.4 7.9 0 7.7 0.8 5.1 0.6 2.5 1.6 4.6 2.3 4.5 2.7 4.2 3.4 3.9 8 7.5 24.5 24.7 5.4 4.7 3.2 2.4 1.6 0.7 1.4 0.2 1.4-0.4 1.4-0.9 1.3-1.1 1.2-1.5 2-3.2 0.9-2.4 0.6-2.8 0.6-6.4 0.1-9.6 -0.7-9.7 -1.7-12.9 -0.8-4.3 -1.3-4.8 -2.7-7.7 -2.3-5 -2.7-4.7 -5-6.6 -3.5-3.8 -5.8-4.9 -7-4.8 -3.1-1.8 -1.6-0.6z"/>
<path fill="none" stroke="#008000" stroke-width="4.0" stroke-linejoin="round" stroke-linecap="butt" d="M167.9 190.5l-1.4 0.5 -1.4 0.9 -2.5 2.4 -1.9 2.8 -0.8 1.7 -1 3.7 -0.5 4.1 0.2 4.1 1 4.5 2.6 6.7 2.7 4.5 8.6 11 5.8 6.9 10.2 10.9 3.1 2.4 2.6 1.2 2.5 0.6 1.1 0 1.1-0.3 0.9-0.7 0.9-1.2 1.9-4.8 1.3-5.9 0.3-4.7 -0.2-4.7 -0.7-5.1 -2.2-7.6 -2-5.2 -2.7-5.2 -3.1-5 -5.1-6.6 -3.8-4 -4.2-3.2 -4.4-2.5 -4.7-1.9 -2.2-0.4z"/>
<path fill="none" stroke="#008000" stroke-width="4.0" stroke-linejoin="round" stroke-linecap="butt" stroke-dasharray="12.5 5.5" d="M245.9 144.9l1.5-1.3 2.1-1 2.4-0.9 5-1 4.1-0.2 3.8 0.4 1.7 0.5 3.1 1.6 1.2 1.2 2.4 5.3 0.9 1.7 1.2 1.3 1.9 0.9 2.3 0.6 7.7 1.1 2.4 0.6 7.2 2.6 4.3 2.3 1.8 1.4 1.3 1.5 0.9 1.6 2.4 5.6 1.1 1.7 1.6 1.9 7.3 7.5 4.3 6.3 2.4 4.5 0.9 2.3 1 4.5 0.1 4.7 -0.7 4.5 -0.7 1.9 -2.2 2.7 -2.9 2.2 -3.5 1.7 -2.4 0.6 -8.8 0.1 -3.1 0.3 -2.8 0.9 -3.3 2 -3.2 2.7 -12.5 13.4 -28.6 28.7 -8.3 7.2 -1.5 0.8 -1.5 0.3 -2.5-0.6 -2.4-1.8 -1.8-2.3 -0.8-2.1 -0.4-2.6 -0.1-3 0.5-13 0.8-11.4 1-7.8 1.7-8.8 3.1-13.5 2.6-15.7 0.8-7.6 0.6-8.4 0.4-18.5 0.7-8.4 0.7-2.6z"/>
<path fill="none" stroke="#008000" stroke-width="4.0" stroke-linejoin="round" stroke-linecap="butt" d="M244 295.1l0.7-1.5 2.2-1.6 14.2-7.4 19-11.4 12.6-9.4 3.1-2.1 3.3-1.8 6.7-2.9 3.5-1.1 6.4-1.6 2.4-0.1 2 0.2 1.7 0.6 1.1 1.1 0.2 1.3 -0.2 1.6 -2.5 8.5 -3.3 14.4 -3.1 9.6 -0.9 2.1 -1.1 1.8 -1.5 1.6 -2 1.2 -2.3 0.8 -2.6 0.6 -11.1 1.6 -8.6 0.8 -5.7 0.1 -5.7-0.4 -5.7-0.8 -16.3-3 -3.2-0.8 -2.3-0.9z"/>
<path fill="none" stroke="#008000" stroke-width="4.0" stroke-linejoin="round" stroke-linecap="butt" stroke-dasharray="12.5 5.5" d="M97 312.4l0.2-2.1 0.5-2.2 0.8-2.3 2.1-4.6 3.8-6.3 3.2-3.9 3.6-3.4 4.1-2.7 2.1-1.2 4.7-1.9 5.4-1.5 3.1-0.5 6.5-0.5 12.3-0.2 16 1.4 6.6 1.1 3.8 1.6 1.7 1.1 3.2 2.5 5.4 5.7 2.2 3.3 0.7 1.7 0.2 1.5 -0.4 1.7 -0.9 1.6 -1.3 1.6 -5 4.7 -5 3.4 -6 3.1 -16.4 7.8 -7.1 2.8 -6.8 1.5 -6.4 0.5 -12-0.2 -7.9-0.7 -4.7-1.1 -5.3-2.4 -3-2.1 -1.2-1.2 -1.5-2.3 -1-2.6 -0.2-1.3z"/>
<path fill="none" stroke="#008000" stroke-width="4.0" stroke-linejoin="round" stroke-linecap="butt" stroke-dasharray="12.5 5.5" d="M134 304.7l0.7-2.5 1.3-2.8 1.8-2.3 1.3-0.9 1.4-0.8 3.3-1.2 3.6-0.9 4.2-0.7 4.6-0.3 4.5 0.1 5.9 1.1 3.7 1.1 6.6 2.5 2.3 1.5 0.5 0.8 -0.3 1.1 -2.2 2.5 -3.4 2.6 -3.9 2.3 -2.4 1.1 -5.3 1.9 -5.3 1.5 -5.3 0.9 -5.4 0.4 -2.4-0.1 -2.1-0.3 -2.7-0.9 -2.4-1.3 -1.6-1.6 -0.7-1.4 -0.3-2.5z"/>
<use href="#boxes" x="227.7" y="293.3"/>
</g>
<ellipse cx="227.7" cy="293.3" rx="171.0" ry="173.2" fill="none" stroke="#000" stroke-width="1.3"/>
<g clip-path="url(#cb)">
<circle cx="596.0" cy="293.3" r="173.2" fill="#d4dbde"/>
<path fill="#e9d9d4" d="M532.8 161.3l19.2-1.6 18 0.3 18 2.1 16 3.9 12.8 5.3 5.2 3 6 4.3 8.9 8.7 7.1 10 4.1 8 2.9 8 1.9 8 1.1 10 -0.4 14 -3.6 28 -0.2 24 -1.8 9.3 -4 9.9 -6 9.4 -6 5.5 -6 2.5 -14 3.2 -16 6.3 -8 2.1 -6 0.7 -6-0.3 -6-1.2 -6-2.2 -6-3.6 -6-5.3 -6-7.3 -8.9-13 -4.6-6 -5.6-6 -6.8-6 -15.7-12 -16.4-11.3 -12-7.3 -21.1-11.4 -9.5-6 -7-6 -3.4-4 -2.6-4 -2.6-6 -1.2-6 0-8 1.1-6 2.3-6.2 4-6.8 4.3-5 5.7-4.8 8-4.5 10-3.5 52-12.2zM765.3 311.3l4.7-1.3 4 0.7 0 159.1 -3.3 1.5 -139.9 0 -6.8-4.6 -4-4.5 -2.2-4.9 -0.7-6 0.6-6 10.9-42 3.4-8.3 4-5.5 2.8-2.2 3.2-1.5 6-1 6 0.3 24 2.6 8 0 8-0.7 8-1.4 8-2.1 6-2.1 6-3 4-2.7 4-3.5 6-7.5 5-9.4 9-22.6 4-8.4 6-8.8zM453.6 399.3l6.4-1.1 8-0.6 8 0 6 0.6 5.5 1.1 4.5 1.5 4 1.9 4 3 4 4.7 2.6 4.9 2 6 1.1 6 0.2 6 -0.8 6 -2.5 6 -2.6 3.5 -6 4.4 -8 3 -8 1.2 -10 0 -10-1.6 -10-3.3 -8-4.3 -6.4-4.9 -5.1-6 -3.2-6 -1.1-4 -0.3-4 0.9-6 3-6 2.2-2.5 4-3.3 8-4z"/>
<path fill="#d9a997" d="M543.7 173.3l14.3-1.3 8 0.1 8 0.8 14 2.9 8 2.8 6.1 2.7 5.9 3.2 6 4.1 5.6 4.7 3.9 4 3.2 4 3.9 6 2.9 6 1.9 6 1.6 10 0 6 -0.6 6 -3 12 -5.4 12 -7.8 12 -22.2 28.3 -4 4.2 -4 3.3 -4 2.5 -4 1.6 -4 0.8 -6-0.3 -6-2 -6-3.7 -22-18.7 -32.8-24 -28.4-22 -6.4-6 -3.4-4 -3.6-6 -1.4-4 -0.5-4 0.3-4 2.1-6 2.6-4 3.5-3.7 8-6.1 14.9-8.2 21.1-9.6 16-5.4z"/>
<path fill="#cb7d63" d="M550.8 183.3l11.2-0.7 12 1.2 12 3.3 10 4.7 8 5.5 7.9 8 5.1 8 1.8 4 1.7 6 0.9 8 -0.9 10 -3.1 10 -5 10 -9.4 14 -9.9 12 -7.1 6.5 -4 2.4 -4 1.5 -4 0.6 -4-0.2 -4-1 -6-2.6 -14-8.5 -18.4-12.7 -14.6-12 -12-12 -7.9-10 -2.2-4 -1.5-4 -0.7-4 0.2-4 2.1-6 4.3-6 8.9-8 12.2-8 11.6-5.7 12-4.2z"/>
<path fill="#bd4e36" d="M546.8 195.3l9.2-1.7 8-0.2 10 1.6 8 2.8 6.1 3.5 7.1 6 4.6 6 3.8 8 1.7 8 0 8 -1.4 8 -3.6 10 -5.5 10 -6.1 8 -6.7 6 -6 3 -6 0.9 -4-0.3 -4-0.9 -10-4.2 -10.7-6.5 -10.2-8 -7.7-8 -5.7-8 -3.8-8 -1.8-8 0.5-6 2.1-6 3.9-6 5.8-6 7.6-5.6 8-4.1z"/>
<path fill="#9d1c29" d="M553.6 207.3l6.4-0.9 6 0.3 6 1.7 4 2.1 4 3 3.4 3.8 2.6 4.2 2.2 5.8 1 6 0 6 -1.3 8 -2.2 6 -3.4 6 -3.4 4 -4.9 3.6 -4 1.5 -6 0.4 -6-1.2 -6-2.6 -5.8-3.7 -4.6-4 -5-6 -2.3-4 -2.3-6 -0.8-6 0.2-4 1.5-6 1.9-4 2.8-4 4.4-4.2 6-3.8z"/>
<path fill="#6f1029" d="M558.3 233.3l1.7-0.5 2.8 0.5 2.1 2 1 2 -0.1 4 -1.8 2.7 -2 1.1 -2-0.1 -2-0.9 -2.2-2.8 -0.3-4 0.7-2z"/>
<path fill="#8fb6c6" d="M481.5 117.3l2-2 254.1 0 6.4 4.1 6.5 5.9 5.5 6.9 6 9.4 7.5 13.7 4.5 10 0 65.2 -3.9 6.8 -4.2 6 -15.9 18.9 -12 12.7 -6 5.5 -13.3 10.9 -2.7 3.7 -0.9 2.3 -0.3 4 2.1 20 0 6 -0.5 6 -1.3 6 -2.3 6 -3.6 6 -3.5 4 -5.7 4.4 -4 2.1 -4 1.3 -6 0.9 -7.6-0.7 -6.4-2.5 -4.8-3.5 -4.6-6 -2.1-6 -0.6-6 0.6-6 1.5-6 3.4-8 4.6-7.7 4-5.3 14.5-15 2.5-4 0.6-4 -1.2-6 -7.4-20 -3-12.9 -8-53.1 -0.7-10 0.6-18 -1-4 -1.2-2 -3.7-3.2 -4-1.8 -4-1.2 -8-1.2 -12-0.8 -44-1.2 -44-2.2 -22-1.8 -16.9-2.6 -14.1-4 -7-3.1 -4.8-2.9 -2.4-2 -2.9-4 -0.5-2 0.1-2zM427.8 275.3l8.2-1.5 8 0 10 1.4 10 2.8 8 3.4 10.3 5.9 8 6 8.2 8 6.1 8 4.3 8 3.7 10 3 12 1.1 10 -0.3 8 -1.5 6 -2.1 4 -1.8 2 -2.6 2 -4.1 2 -10.3 2.5 -14 1.1 -14-0.6 -10-1.8 -10-3.5 -8-4.9 -7.2-6.8 -5.7-8 -7.1-13.4 0-56.9 5.1-3.7zM546.4 383.3l7.6-0.1 6 0.6 6 1.5 6 2.2 4 2.2 4.7 3.6 3.6 4 2.4 4 1.5 4 0.9 6 -0.7 6 -1.4 4 -2.1 4 -3.2 4 -4.5 4 -5.2 3.1 -6 2.2 -6 0.9 -6-0.2 -4-0.9 -4-1.6 -5-3.5 -3.6-4 -3.4-5.6 -3-8.4 -1.4-8 -0.1-8 1.3-6 2.2-4 3-2.7 4-2z"/>
<path fill="#4791bb" d="M543.2 117.3l5.4-2 78.5 0 5.9 2 4 2 2.3 2 0.8 2 -0.6 2 -2.2 2 -4 2 -6.4 2 -6.9 1.4 -10 1.4 -12 0.9 -22-0.3 -12-1.1 -10-1.7 -9.3-2.6 -4-2 -2.3-2 -0.9-2 0.5-2 1.8-2z"/>
<path fill="url(#hH)" d="M539.6 130.4l4.6-1.6 8.5-0.9 10.4-0.4 10.5 0.4 8.5 0.9 4.5 1.6 0.5 0.6 0.4 1.7 -0.4 1.7 -0.5 0.7 -4.5 1.5 -8.5 1 -10.5 0.3 -10.4-0.3 -8.5-1 -4.6-1.5 -0.8-1.5 0-1.8 0.3-0.8z"/>
<path fill="url(#hP)" d="M510.7 177.3l5.5-1.5 6.3-0.6 6.8 0.3 21.2 1.8 22.6 0.7 7.5 0.5 7 0.9 6.2 1.5 4.2 1.5 3.9 1.7 3.6 2 6.7 4.7 7.4 6.7 4.2 4.4 4.1 4.9 3.7 5.1 3.2 5.3 2.4 5.3 1.4 5.2 0.7 5.6 0.2 5.7 -0.5 16 0.2 10.3 -0.2 3 -0.6 2.7 -1.2 2.1 -1.7 1.2 -2.3 0.5 -5.4 0.4 -2.7 0.5 -2.4 1 -2.6 2.1 -2.5 2.8 -2.3 3.2 -9.3 13.1 -4.1 6.8 -2.3 3.2 -2.6 2.8 -3.2 2.1 -5.3 2 -6.6 1.5 -7.2 0.8 -6.9 0 -6-0.7 -4.1-1.8 -1.4-1.9 -0.5-2.6 -0.1-6 -0.4-3 -1.2-2.7 -3.4-3.3 -4.8-3 -11.3-5.6 -5.2-2.9 -4.2-3.3 -2.3-2.9 -1.7-3.3 -2.8-6.5 -1.7-3 -2.3-2.4 -3.9-1.8 -4.9-0.8 -10.4-1.1 -4.6-1.2 -3.3-2.3 -2.4-4 -1.3-5.1 -0.7-5.8 -0.1-6.2 0.3-6 0.5-5.4 0.8-4.5 1.1-4.4 1.4-4.3 1.7-4.2 1.9-4 4.5-7.7 5.3-7.6 3.1-3.4 3.5-2.9z"/>
<use href="#coast" x="596.0" y="293.3"/>
<use href="#grid" x="596.0" y="293.3"/>
<path fill="none" stroke="#008000" stroke-width="4.0" stroke-linejoin="round" stroke-linecap="butt" d="M597.7 289.8l-1.1-1.2 -0.8-2.3 -2.9-12.6 -3.2-11.4 -2.2-8.6 -1.9-8.6 -0.9-5.6 -0.5-7.8 0.2-7.4 1-6.8 1.8-6.6 2.9-6.9 3.8-6.4 4.4-5 5.1-4.5 11.4-7.6 1.5-1.4 4.1-4.6 2.9-2.5 3.4-1.7 3.6-1.1 3.5-0.5 4 0.5 2.5 1.1 1.1 0.7 1.3 1.4 1.3 1.7 2.1 4.1 3.7 8.5 5.3 15.8 1.2 4.4 0.4 3.8 0 3.1 -1 4.8 -2.2 4.3 -8.2 11.4 -20.7 27.1 -4.4 5.4 -11.1 12.6 -6.5 8.5 -2.5 1.8 -1.9 0.4z"/>
<path fill="none" stroke="#008000" stroke-width="4.0" stroke-linejoin="round" stroke-linecap="butt" stroke-dasharray="12.5 5.5" d="M511.2 196.7l-0.1-1.3 0.3-2.6 1-2.2 1.6-1.7 2.5-1.1 4.2-0.6 2.7 0.4 2.7 0.9 1.2 0.7 1.8 1.8 1.2 2.4 2 6.2 4 19.3 0.2 1.8 -0.2 2.8 -0.7 2.5 -1 1.7 -0.6 0.4 -1.3-0.4 -1.7-1.3 -2-2 -3.8-4.7 -3-3.9 -5.3-9.6 -4.5-6.4 -0.8-1.6z"/>
<path fill="none" stroke="#008000" stroke-width="4.0" stroke-linejoin="round" stroke-linecap="butt" stroke-dasharray="12.5 5.5" d="M533 228.1l1.8 0.1 2.2 1.3 9.3 8.4 8 6.2 3.2 3.2 3.3 3.7 4.6 6 13.9 20.9 2.7 3.7 5 5.5 1 1.3 0.2 0.9 -0.7 0.2 -1.3-0.2 -7.5-2.3 -22.9-5.7 -8.8-1.5 -6.7-0.5 -8.8 0 -12.3 0.8 -5.2 0.6 -3.4 0.7 -11.5 2.8 -2.7 0.4 -1.4-0.5 0.1-1 0.9-1.5 6.6-7.5 6.2-8.1 2.9-2.8 6.6-4.8 2.9-3.1 2.6-3.6 3.5-6.2 1.1-2.9 2.2-10.7 1-2.5z"/>
<path fill="none" stroke="#008000" stroke-width="4.0" stroke-linejoin="round" stroke-linecap="butt" stroke-dasharray="12.5 5.5" d="M590.1 299.9l5.3-3.8"/>
<path fill="none" stroke="#008000" stroke-width="4.0" stroke-linejoin="round" stroke-linecap="butt" stroke-dasharray="12.5 5.5" d="M494.6 278.4l9.9-7"/>
<path fill="none" stroke="#008000" stroke-width="4.0" stroke-linejoin="round" stroke-linecap="butt" d="M549.6 158.7l0.2-0.5 1-1.1 2.2-0.9 2.5 0.9 1.3 1.1 0.2 0.5 -0.2 0.5 -1.3 1.2 -1.8 1 -0.7 0.1 -1.4-0.5 -1.9-1.8z"/>
<path fill="none" stroke="#008000" stroke-width="4.0" stroke-linejoin="round" stroke-linecap="butt" d="M729.3 285.4l0.3-0.8 2.4-1.9 9.4-5.9 1.2-0.4 1.1 0 2.2 1 2 2.1 1.3 2.3 0.1 1.3 -0.3 1.5 -1.5 4.8 -0.2 1.4 0.3 1.3 1.7 5 -0.1 1 -0.6 0.8 -0.8 0.9 -2.1 1.4 -2 0.5 -1-0.5 -2.2-2.3 -1.7-3.1 -0.5-1.4 0.1-1.2 1.9-5.2 -0.2-0.8 -0.7-0.3 -1.1 0.1 -4.3 1 -1.1-0.1 -2.4-1 -1-1z"/>
<path fill="none" stroke="#008000" stroke-width="5.0" stroke-linejoin="round" stroke-linecap="butt" d="M507.9 439.7l0.5-0.7 2.2-1 2.6-0.5 1.2 0 1 0.3 2.2 1.1 1.6 1.5 0.2 0.7 -0.2 0.7 -0.7 0.8 -2 1.5 -2.1 1 -1.8 0.1 -1.9-0.4 -1.4-0.8 -1.3-2.1 -0.3-1.6z"/>
<path fill="none" stroke="#008000" stroke-width="4.5" stroke-linejoin="round" stroke-linecap="butt" d="M680.5 439.7l2.8-6.3 0.8-1 2.2-1.4 3.8-1.3 2.6-0.2 6.6 1.5"/>
<use href="#boxes" x="596.0" y="293.3"/>
</g>
<ellipse cx="596.0" cy="293.3" rx="171.0" ry="173.2" fill="none" stroke="#000" stroke-width="1.3"/>
<g clip-path="url(#cc)">
<circle cx="964.3" cy="293.3" r="173.2" fill="#d4dbde"/>
<path fill="#e9d9d4" d="M957.7 149.3l10.6 0 10 1.3 14 3.5 12 4.4 10.5 4.8 9.5 5.2 28 18.8 18.8 8 3.2 2.5 2.9 3.5 3.9 8 2.3 10 0.8 12 -0.5 6 -1.2 6 -2.2 6 -2.3 4 -5.2 6 -16.5 14.9 -8 8.8 -10 13 -18 26.5 -6 7.4 -4 4 -6 4.6 -4 2.4 -12 5 -24 6.9 -6 1 -6 0.4 -6-0.6 -6-1.7 -6-3.2 -6-5.1 -4-4.9 -4-6.2 -14-26.4 -8.6-18.8 -3.5-10 -2.8-10 -3.8-20 -0.9-10 -0.2-10 1.2-14 1.8-8 2-6 2.6-6 3.3-6 7.6-10 5.3-5.4 6-5.2 6-4.3 8-4.8 6-2.9 8-2.9 6-1.5z"/>
<path fill="#d9a997" d="M950.4 163.3l7.9-1.3 8-0.4 8 0.4 10 1.7 10 3 8 3.4 8 4.3 7.1 4.9 7.1 6 7.6 8 6.2 8 5.1 8 4.1 8 3.1 8 1.9 8 0.6 8 -0.4 6 -1.6 8 -3.8 10 -4.1 8 -7.4 12 -9.5 13.9 -8 10.2 -6 6.3 -6 5 -6 3.9 -12 5.4 -8 2.5 -14 3.5 -8 1.4 -6 0.5 -6-0.4 -4-1.1 -4-1.9 -4.4-3.2 -3.6-3.6 -4-4.9 -14-21.5 -8-15.2 -5.5-14.8 -2.5-9.6 -1.6-8.4 -1.3-16 0.8-14 2.7-12 2.2-6 2.9-6 6.3-9.7 8-8.6 10-7.6 6-3.5 6-2.8z"/>
<path fill="#cb7d63" d="M957.2 171.3l7.1-0.6 8 0.2 8 1.1 8 2.1 8 3 6 3.1 6 3.8 6 4.7 4.9 4.6 5.3 6 4.4 6 4.6 8 3.6 8 2.5 8 1.4 8 0.4 6 -0.3 6 -1.3 8 -2.5 8 -3.5 8 -4.3 8 -6.6 10 -6.2 8 -5.7 6 -4.7 4.2 -6 4.2 -6 3.3 -6 2.5 -8 2.6 -8 1.8 -8 1.3 -8 0.5 -6-0.4 -4-1 -4-1.6 -4-2.5 -4-3.3 -6-6.4 -10-13.3 -8-13.9 -5.6-14 -2.1-8 -1.6-8 -1.1-14 0.4-8 0.8-6 3.2-12 4.7-10 7.1-10 8.2-7.9 10-6.6 6-2.9 6-2.2z"/>
<path fill="#bd4e36" d="M956.8 179.3l7.5-0.8 6 0.1 8 1 6 1.4 6 2.1 6 2.8 6 3.6 5.2 3.8 4.8 4.4 5 5.6 4.3 6 3.5 6 2.7 6 2.1 6 1.4 6 1 8 -0.1 8 -0.8 6 -3.4 12 -3.7 8 -3.5 6 -4.5 6.6 -4.5 5.4 -5.5 5.6 -4 3.3 -6 4 -6 3.1 -12 4 -8 1.5 -6 0.5 -10-0.5 -5.9-1.5 -4.1-1.8 -8-5.6 -8-8.3 -8-11.1 -4-7 -2.9-6.2 -2.9-8 -1.6-6 -2-14 0.2-12 2.2-12 3.9-10 6.3-10 7.5-8 9.3-6.7 10-4.6z"/>
<path fill="#9d1c29" d="M955.5 187.3l10.8-1.2 6 0.3 6 0.9 10 3.2 10 5.5 8.6 7.3 3.6 4 4.3 6 5 10 2 6 1.3 6 0.7 6 0 6 -1.4 10 -1.7 6 -2.4 5.8 -6 10.5 -8 9.5 -8 6.6 -10 5.3 -6 2.1 -6 1.3 -10 0.8 -6-0.6 -4-0.8 -8-3.3 -8-5.8 -8-8.6 -7.1-10.8 -5.2-12 -3-12 -0.8-12 1-10 2.9-10 4.2-8.5 6-8 8-7 4-2.6 6-3z"/>
<path fill="#6f1029" d="M956.9 195.3l9.4-1.2 8 0.6 9.4 2.6 8.6 4.4 7 5.6 6.7 8 4.3 8 3.2 10 1 10 -1 10 -3.1 10 -4.1 7.6 -6 7.7 -7.7 6.7 -8.3 4.5 -8 2.5 -10 0.8 -8-1.2 -6.7-2.6 -7.3-4.7 -7.3-7.3 -5.6-8 -4.7-10 -2.4-8.3 -1.2-9.7 0.7-10 2-8 3.8-8 4.7-6.5 6-5.6 8-4.9z"/>
<path fill="#3c0d16" d="M957.1 205.3l7.2-1.5 6 0 6 1 6.4 2.5 5.6 3.5 4.9 4.5 4.5 6 2.8 6 1.8 6.8 0.5 7.2 -0.7 6 -2.5 8 -3.3 5.8 -4 4.8 -6 4.8 -6 3 -6 1.5 -8 0 -6-1.4 -6-2.8 -6-4.4 -4-4.2 -4-5.7 -3.4-7.4 -1.5-6 -0.6-8 1.3-8 2.2-5.8 4-6.2 4-4 6-4z"/>
<path fill="#8fb6c6" d="M863.7 117.3l6.1-2 205.9 0 16.2 8 12.3 8 4.7 4 3.6 4 2.5 4 1.1 4 -0.6 4 -1.2 2 -2.1 2 -3.9 2.1 -7.6 1.9 -12.4 0.4 -38-2.4 -12-2.2 -12-3.5 -62-23 -12-2.6 -10-0.1 -6 1.2 -4 1.6 -6 3.6 -4 3.3 -22 22.4 -6.4 7.3 -6.1 8 -4.8 8 -3.8 10 -1.6 10 -0.4 10 1 16 2.4 18 3.9 20 4.7 18 3.9 12 4.6 12 11.2 28 5 10 4.4 6.8 6 7 18.1 16.2 5.6 6 2.7 4 2.8 6 1.1 4 0.8 6 -0.4 10 -2.1 8 -4.1 8 -4.7 6 -6.9 6 -8.9 5.1 -10 3.5 -10 1.9 -8 0.6 -8 0 -16-1.8 -10-2.2 -8-2.4 -16-6.3 -16-8.8 -14-9.9 -13.2-11.7 -12.8-14.1 0-243.5 14-8 16-7.3 22-8.4zM1067.6 289.3l4.7 0.3 6 1.8 5.9 3.9 3.5 4 3.2 6 1.6 6 0.4 6 -1.2 8 -2.2 6 -3.6 6 -3.6 4.2 -6 4.7 -6 2.9 -6 1.6 -6 0.3 -6-0.8 -4-1.3 -4-2 -4-3.2 -2-2.4 -2.1-4 -1-4 -0.1-4 0.8-6 1.9-6 2.8-6 3.7-6.1 4.7-5.9 5.3-4.9 4-2.5 4-1.7z"/>
<path fill="#4791bb" d="M1014.5 119.3l5.8-0.5 6 0.4 8 1.6 6 1.8 6.7 2.7 3.5 2 4.3 4 0.7 2 -1 2 -2.2 1.1 -6 1.1 -10-1 -10-2.8 -9.5-4.4 -5-4 -1.2-2 0.3-2zM843.4 157.3l4.9-0.8 4 0.1 2.2 0.7 1.8 2 0.4 2 -0.5 4 -5 14 -1.4 6 -0.1 6 1 4 2.8 6 9.7 16 3.1 6.8 3.2 9.2 6.8 26.1 16.7 71.9 3.1 10 3.6 8 3.5 6 17 24 3.1 6 2.1 6 0.7 6 -0.3 4 -1.5 5.5 -2.5 4.5 -3.5 3.9 -4 2.9 -4 2 -6 1.9 -6 0.8 -8-0.1 -8-1.2 -8-2.3 -8-3.4 -8-4.3 -6.4-4.2 -7.7-6 -8.7-8 -9.5-10 -9.7-11.4 -8.1-10.6 -6.9-10 -6-10 -5-10 -4-9.8 0-98.2 6-21.1 3.8-8.9 3.6-6 4.7-6 6-6 7.7-6 8.2-5.1 10-4.6z"/>
<path fill="#0d67be" d="M831.8 225.3l4.5-0.3 6 1 6 2.4 4 2.8 4 4 4 5.6 3.3 6.5 2.7 6.6 3.5 11.4 2.5 10.4 2.1 11.6 1.4 12 0.1 16 -2.5 24 0.5 8 1.7 6 2 4 12.7 16.8 4.1 7.2 1.2 4 -0.1 4 -0.7 2 -1.6 2 -2.9 1.7 -2 0.5 -4 0.1 -6-1.6 -6-3.2 -6.7-5.5 -16.9-20 -20.4-18.7 -10-10.9 -4-5.5 -4.2-6.9 -3.1-6 -3.2-8 -3.6-14 -1.3-14 1-14 2.9-12 2.3-6 3.2-6 6-8.2 4-3.7 4-2.8 4-1.9z"/>
<path fill="#2b3a8f" d="M834.2 247.3l4.1-0.6 6 1 4 2.1 4 3.5 4 5.6 2.2 4.4 2.9 8 1.7 8 1 8 -0.1 8 -1.2 8 -1.9 6 -2.6 5.1 -4 5.1 -4 2.9 -4 1.5 -4 0.2 -6-1.5 -5.3-3.3 -4.2-4 -3.2-4 -3.4-6 -2.4-6 -2-8 -0.8-8 0.2-6 1.3-8 2-6 3.1-6 3.2-4 4.9-4z"/>
<path fill="#1c1f47" d="M839.5 281.3l0.8-0.9 2 0.8 0.5 2.1 -0.5 2.6 -2 0.6 -0.9-1.2 -0.6-2z"/>
<path fill="url(#hH)" d="M975.1 115.3l75 0 14.3 6 7.4 4 6 4 6.3 6 2 4 0 2 -0.9 2 -2.9 2.3 -4.8 1.7 -7.2 1.1 -8 0.5 -10-0.2 -8-0.9 -8-1.5 -10-2.7 -10-3.4 -12-4.9 -8.2-4 -13.1-8 -4.8-4zM871.8 131.3l10.5-1 6 0.9 3.5 2.1 1.2 2 0.4 2 -0.5 4 -2.5 6 -3.6 6 -10.9 16 -4.5 8 -2.4 6 -1.5 8 0.1 6 1.2 8 8.9 44 5.9 26 8.7 30.5 9 27.5 4 10 4.3 8 4 6 15 18 4.4 6 4.1 8 1.9 8 0 8 -1.5 6 -2.8 6 -4.4 5.6 -5.3 4.4 -6.7 3.6 -6 2.1 -8 1.5 -6 0.4 -8-0.3 -8-1.2 -8-1.9 -8-2.6 -8-3.4 -8-4.2 -8-4.9 -8-5.7 -8-6.5 -7.4-6.9 -7.7-8 -13.2-16 -11.7-17.7 0-181 7.8-7.3 7.8-6 9.2-6 11.2-6.2 12.5-5.8 13.5-5.4 12-3.9zM1058 303.3l2.3-1 4-0.6 4 0.7 2 0.9 2.6 2 1.7 2 2 4 0.8 4 -0.5 6 -2.7 6 -1.9 2.3 -4 3.1 -6 2.1 -6-0.2 -4-1.7 -2.1-1.6 -1.9-2.5 -1.6-5.5 0.6-6 2.5-6 4.5-5.4z"/>
<path fill="url(#hP)" d="M952.9 165.3l9.4-1.2 8 0 8 0.9 8 1.7 8 2.6 8 3.4 8 4.6 6 4.3 6.6 5.7 7.3 8 6 8 4.8 8 3.8 8 2.7 8 1.7 8 0.4 8 -0.5 6 -1.7 8 -2.9 8 -3.8 8 -5.9 10 -8.5 12.7 -8 10.3 -6 6.3 -4 3.5 -6 4.4 -6 3.3 -6 2.6 -10 3.3 -10 2.4 -10 1.9 -8 0.6 -6-0.6 -4-1.2 -4-2 -4-3.1 -4-4 -6-7.6 -12-18.3 -7.5-14.5 -5-14 -3.5-16 -1.3-16 1.1-14 2.9-12 4.3-10 3.6-6 3.4-4.7 8-8.3 10-7.4 6-3.4 6-2.6 6-2z"/>
<use href="#coast" x="964.3" y="293.3"/>
<use href="#grid" x="964.3" y="293.3"/>
<path fill="none" stroke="#008000" stroke-width="4.0" stroke-linejoin="round" stroke-linecap="butt" d="M965.2 290.4l-0.8-2.3 -0.4-3.3 -0.1-3.9 1-15.9 0.7-7 2.5-13.9 4.5-17.4 2-10.7 1-7 0-5.9 -1.8-9.7 -0.4-6.4 0-4 0.3-1.8 0.5-1.6 0.8-1.2 2.1-2.1 2.6-1.5 1.2-0.4 1.3-0.1 1.4 0.3 5.7 1.9 5.2 0.8 3.5 0.3 3.5-0.5 5.4-2.2 1.7-0.5 1.6 0 1.5 0.3 1.5 0.7 2.8 1.9 3.8 3.6 2.1 3.1 10.3 17.6 5.3 6.9 2 3.5 0.5 1.7 0.6 3.4 -0.1 5.4 -0.3 2.3 -1.2 4.9 -2.7 7.4 -2 5 -2.5 4.9 -2.8 4.7 -3.1 4.4 -3.5 4.2 -6 6.2 -4.8 4.3 -5.1 4.1 -8 5.8 -5.6 3.6 -5.7 3 -5.9 2.5 -5.9 2 -2.7 0.6 -2.2 0.1 -2.1-0.2 -1.8-0.6 -0.7-0.5z"/>
<path fill="none" stroke="#008000" stroke-width="4.0" stroke-linejoin="round" stroke-linecap="butt" d="M968.4 289.4l-0.4-1.6 0.5-5.4 2.8-13.1 1.9-7 4.8-14.1 7.1-17.4 3-7.8 2-4.7 2.5-3.8 2.6-3.2 3-2.6 1.6-0.9 3.3-1.1 3.7-0.3 3.4 0.4 3 1.2 2.9 1.8 3.6 3.4 2.9 4.1 1.2 3.1 0.3 3.3 -0.5 3.6 -1.6 5.6 -1.9 4.2 -4.9 8.4 -4 6.3 -3.1 4.1 -3.8 4.3 -11.1 10.4 -12.3 10.4 -7.6 7.6 -1.5 1.3 -1.3 0.5 -1.2-0.1 -0.7-0.5z"/>
<path fill="none" stroke="#008000" stroke-width="4.0" stroke-linejoin="round" stroke-linecap="butt" stroke-dasharray="12.5 5.5" d="M962.1 293.6l-1.6 0.1 -2.5-0.8 -12.6-5.6 -14-5.3 -10.1-3.2 -14.7-3.6 -19.8-3.6 -8.6-2.4 -3.9-1.8 -3.3-2 -2.9-2.5 -2.2-2.8 -0.7-1.5 -1.1-3.5 -0.2-1.8 -0.1-3.6 0.8-4.2 2.4-6.4 2.1-3.9 2.7-3.5 6.2-6.8 7.2-6.9 3.2-3.8 3.1-4.2 2.7-4.2 1-2.2 0.9-3.5 0.7-5.3 1.8-4.7 1.7-2.9 1.1-1.3 2.4-2 1.5-0.7 3.3-1.1 3.3-0.4 1.8 0.1 3.7 0.7 1.8 0.6 3.2 1.7 2.4 2.4 3.9 6 10.6 13.8 1.9 2.9 1.6 3.4 6.8 17.5 2.6 15.2 7.8 30.8 3 10.9 0.1 3.4 -0.5 2.1z"/>
<path fill="none" stroke="#008000" stroke-width="4.0" stroke-linejoin="round" stroke-linecap="butt" stroke-dasharray="12.5 5.5" d="M882.6 245.5l0.6-1.6 0.8-1.7 1.2-1.7 3.1-3.1 1.7-1.3 2.4-1.4 5.9-2.2 6.4-1.3 3-0.4 5.8-0.2 5.8 0.5 2.7 0.6 2.5 0.8 2 1 3.5 2.7 4.9 5.1 3.7 4.4 5.2 7.6 4.6 8.1 5.3 11.3 6.7 12.7 0.9 2.4 -0.2 1.6 -1 0.5 -1.6-0.1 -2-0.4 -10.1-3.1 -17.7-7.4 -17.7-6.5 -11.1-5.3 -4.7-2.9 -2.1-1.6 -4.8-4.8 -2.6-3.4 -1.6-2.8 -1.1-2.5 -0.5-2.4z"/>
<path fill="none" stroke="#008000" stroke-width="4.0" stroke-linejoin="round" stroke-linecap="butt" stroke-dasharray="12.5 5.5" d="M968.4 293.6l0.6 0.5 1.7 0.5 5 1.2 7.6 1.2 4.8 0.5 13.1 0.2 5.7-0.3 5.4-0.7 4.5-1.1 4.2-1.4 7.1-3.2 3-1.7 1.2-1 1.4-1.8 0.7-1.9 0.1-1.8 -0.7-1.4 -1.6-1.2 -2.1-0.9 -2.8-0.7 -6.4-0.1 -6.5 0.7 -4.2 1 -6.3 1.9 -12.5 5.2 -10.5 3.6 -4.1 1 -7.9 1.3z"/>
<path fill="none" stroke="#008000" stroke-width="4.0" stroke-linejoin="round" stroke-linecap="butt" d="M965.2 292.5l0.2 0.7 -0.3 1.3 -2.1 5 -2 2.6 -2.7 2.3 -3.1 1.7 -2.7 0.6 -1.4 0 -2.7-0.6 -1.1-0.5 -1.3-1.1 -0.7-1.4 -0.1-1.5 0.2-0.7 0.7-0.9 2.7-1.4 16.2-6.2z"/>
<path fill="none" stroke="#008000" stroke-width="4.0" stroke-linejoin="round" stroke-linecap="butt" d="M991.7 328.8l1.2-1.6 2-1.3 2.6-1.1 2.8-0.9 5.9-1.3 3.3-0.3 3.6 0 17.9 2.2 14.9 2.5 9.7 1.2 3.2 0.5 2.8 0.7 2.4 1.2 3.1 2.6 2.4 3.2 0.7 1.6 0.3 1.6 -0.3 1.6 -0.7 1.8 -2.5 3.5 -1.5 1.3 -1.5 0.8 -1.9 0.4 -2.1-0.1 -2.3-0.5 -2.3-0.8 -4.1-1.9 -1.3-1.1 -3.2-4.7 -1.2-1.3 -1.5-0.8 -2.7-0.2 -3.1 0.6 -10.7 4 -12.8 3.7 -3 0.8 -2.9 0.3 -2.7-0.2 -2.1-0.6 -2.1-0.9 -1.9-1.2 -3.4-2.9 -1.4-1.6 -2.2-3.5 -1.5-4 -0.2-1.8z"/>
<path fill="none" stroke="#008000" stroke-width="4.0" stroke-linejoin="round" stroke-linecap="butt" d="M1044.1 337.8l0.4-0.8 1.9-1.7 2.2-1.1 0.9 0 0.8 0.4 1.6 1.8 1.1 2.2 0.1 1 -0.2 0.9 -1.4 2.1 -1.9 1.5 -0.8 0.2 -0.9-0.4 -1.1-1 -2-2.7 -0.6-1.3z"/>
<use href="#boxes" x="964.3" y="293.3"/>
</g>
<ellipse cx="964.3" cy="293.3" rx="171.0" ry="173.2" fill="none" stroke="#000" stroke-width="1.3"/>
<g clip-path="url(#cd)">
<circle cx="1332.6" cy="293.3" r="173.2" fill="#d4dbde"/>
<path fill="#e9d9d4" d="M1282.3 117.3l2.8-2 80.6 0 8.9 6.6 12 10.7 12 12.3 12.8 14.4 9.4 12 6.7 10 4.3 8 4 10 2.2 8 1.9 10 0.9 10 0.2 10 -0.4 10 -1.2 10 -1.9 10 -2.2 8 -4.3 12 -6 12 -6.8 10 -14.7 18 -7.2 10 -4.4 8 -1.6 4 -0.8 4 0.1 4 0.5 2 2 4 15.6 18 3.8 6 2.7 6 2.5 8 1.3 8 0.2 8 -0.7 6 -1.4 6 -1.6 4 -2 4 -3.9 5.4 -4 4 -4 3 -4 2.4 -6 2.5 -6 1.4 -6 0.6 -6-0.4 -6-1.3 -6-2.6 -4-2.6 -4-3.8 -3.3-4.6 -3.7-8 -3.1-12 -2.7-18 -1.4-20 -1.4-6 -2.4-3.9 -2.1-2.1 -17.9-11.2 -4-4.1 -4-6.1 -6-11.9 -10-23.6 -17.6-45.1 -8.4-24 -6.4-22 -3.9-20 -1.4-18 0.9-16 1.4-8 2.1-8 2.2-6 3.8-8 3.7-6 4.7-6 4.9-5.2z"/>
<path fill="#d9a997" d="M1308.1 117.3l8-2 26.5 0.1 8 2.1 8 3.1 8 4.3 8 5.3 10 8 11.6 11.1 10.4 11.4 8.3 10.6 6.5 10 4.1 8 3.9 10 2.7 10 1.7 10 0.8 10 0.1 10 -0.9 12 -1.6 10 -2.4 10 -3.4 10 -4.5 10 -5.3 8.9 -6.8 9.1 -13.2 15 -14 14.8 -8 6.9 -6 4 -6 2.8 -6 1.7 -8 0.8 -8-0.5 -8-1.6 -8-2.7 -4-2 -6-4.1 -6-6 -3.8-5.1 -4.8-8 -5.8-12 -17.6-43.8 -10-28.7 -3.3-11.5 -2.8-12 -2.5-18 -0.1-16 0.9-8 1.7-8 2.6-8 2.6-6 3.3-6 4.2-6 5.3-6 4.1-3.9 6-4.6 6-3.7 6-3z"/>
<path fill="#cb7d63" d="M1315.3 123.3l9.3-1.5 8-0.2 8 0.7 8 1.7 8 2.7 8 3.7 10 6.2 8 6.2 8 7.1 9.1 9.4 8.3 10 5.5 8 4.7 8 4.4 10 3.2 10 2.1 10 1.2 10 0.4 12 -0.5 10 -1.4 10 -2.3 10 -2.5 8 -3.2 8 -5 9.6 -6 8.9 -8 9.7 -12 12.5 -10 9 -8 5.8 -6 3.4 -6 2.4 -8 1.9 -6 0.5 -8-0.5 -6-1.3 -6-2.2 -6-3.4 -4-3 -5.2-5.3 -4.8-6.4 -5.5-9.6 -4.6-10 -17.9-45.5 -8-24.5 -3.1-12 -1.9-10 -1.6-16 0.1-8 0.8-8 1.6-8 1.8-6 2.4-6 3.1-6 3.9-6 4.9-6 4.1-4 5.9-4.8 6-3.9 6-3 6-2.4z"/>
<path fill="#bd4e36" d="M1317.6 129.3l9-1.4 8-0.1 8 0.9 8 1.8 8 2.9 8 4 8 5 8 6.1 8 7.3 8 8.5 7.1 9 5.2 8 4.2 8 4 10 2.4 8 1.9 10 1.1 10 0.2 10 -0.6 10 -1.4 10 -2.5 10 -2.7 8 -3.5 8 -4.4 8 -5.5 8 -8.4 10 -9.9 10 -9.2 8.1 -6 4.4 -8 4.6 -6 2.4 -8 2 -6 0.4 -6-0.4 -6-1.2 -6-2.4 -6-3.5 -4-3.3 -4.7-5.1 -4.3-6 -4.5-8 -4.6-10 -17.7-46 -7-22 -2.4-10 -1.9-10 -1.2-16 1-14 3.1-12 2.4-6 3.1-6 7.4-10 3.9-4 5.4-4.6 6-3.9 6-3.2 6-2.3z"/>
<path fill="#9d1c29" d="M1317.7 135.3l8.9-1.5 8-0.3 8 0.8 8 1.8 8 2.9 8 3.9 7 4.4 7 5.3 8 7.2 7 7.5 6.3 8 5.1 8 4.2 8 3.4 8.7 2.7 9.3 1.8 10 1 10 0 10 -0.8 10 -1.4 8 -2 8 -2.8 8 -3.6 8 -4.5 8 -5.6 8 -6.8 8.1 -9.6 9.9 -8.4 7.4 -8 5.8 -6 3.3 -6 2.4 -8 1.8 -6 0.4 -6-0.7 -6-1.6 -4-1.8 -4.8-3 -4.7-4 -4.5-5.2 -3.3-4.8 -4.4-8 -4.3-10 -16-43.1 -7.2-22.9 -3.7-18 -1.1-14 0.4-8 0.8-6 3.2-12 4.8-10 2.8-4.3 4.6-5.7 9-8 10.4-6.1z"/>
<path fill="#6f1029" d="M1329.2 139.3l7.4-0.1 8 1 6 1.4 8 2.9 6 2.9 8 4.9 6.6 5 7.4 6.7 6 6.5 5.3 6.8 4.7 7.3 4 7.6 3.6 9.1 2.4 8 1.6 8 1 8 0.4 10 -0.4 8 -1 8 -1.6 7.8 -4.8 14.2 -3.2 6.8 -4.2 7.2 -5.8 8.1 -8 9.4 -8.4 8.5 -7.6 6.7 -7.6 5.3 -6.4 3.3 -6 2.1 -6 1.1 -6 0 -4-0.5 -6-1.8 -4.5-2.2 -5.5-4 -3.9-4 -4.1-5.4 -2.7-4.6 -3.3-6.7 -3.7-9.3 -18.3-53.1 -4.5-16.9 -2.4-16 0-14 2.2-12 2-6 2.7-5.9 6-9.1 8-8.1 4-3 6-3.6 6-2.7 5-1.6z"/>
<path fill="#3c0d16" d="M1329.1 145.3l7.5-0.2 8 0.9 6 1.4 8 3 6 2.9 8 5.1 6 4.7 6 5.6 5.8 6.6 4.5 6 3.8 6 4 8 3.1 8 2.3 8 1.5 8 0.9 8 0.2 8 -0.4 8 -1.1 8 -1.9 8 -2.6 8 -2.5 6 -3.6 6.9 -4 6.4 -6.5 8.7 -6.9 8 -7.7 8 -6.8 6 -6.1 4.2 -6 3.2 -6 2 -6 0.9 -6-0.2 -4-0.9 -4-1.4 -4-2.2 -4-3 -4-4.1 -6-9.1 -5.6-13.4 -18.4-57.8 -4-16 -1.7-12.2 0.1-12 1.6-10 1.9-6 2.1-5 5.6-9 7.7-8 8.7-5.9 10-4.1z"/>
<path fill="#8fb6c6" d="M1383 115.3l127.6 0 0 260.7 -6.3 13.3 -3.8 6 -3.9 5.1 -4 4.3 -4 3.4 -4 2.6 -6 2.6 -4 0.9 -4 0.3 -6-1.1 -6-2.8 -6-4.8 -8-9.8 -14.9-22.7 -15.1-17.3 -4.1-6.7 -1-4 0-4 0.9-4 1.8-4 3.6-6 12-16 5.2-8 6.1-12 5.1-14 3.4-14 2-14 0.6-16 -0.8-14 -1.6-10 -2.3-8 -4.3-10 -4.7-8 -8.5-12 -33.3-40zM1188.1 123.3l10.5 0 10 0.8 12 1.9 8 2.1 6 2.4 4 2.8 3.3 4 1.7 4 1 4 0.8 6 1.4 26 1.1 12 2.2 14 3.5 16 4.5 16 5.8 18 24.1 66 3.1 10 1.7 8 0.5 6 -0.3 4 -1.7 6 -4.7 9.6 -1.6 4.4 -0.7 6 0.5 4 2.4 6 3.4 4.6 4 3.7 13.8 9.7 3.9 4 3.5 6 2.1 8 0.4 6 -0.6 6 -1.6 6 -2.7 6 -4.3 6 -4.3 4 -4.2 2.8 -6 2.6 -4 1.1 -6 0.8 -6 0 -6-0.7 -12-3.5 -8-3.5 -6-3.4 -6-4.3 -5.6-5.9 -3.6-6 -5.9-12 -5.5-8 -4.1-4 -3.3-2.4 -4-1.9 -4-1.1 -4-0.4 -4 0.4 -4.7 1.4 -3.9 2 -2.8 2 -4.2 4 -10.4 13.9 -4 3.7 -2 1.2 -4 1.3 -6 0.4 0-305.2 8-2.1 10-1.8z"/>
<path fill="#4791bb" d="M1408.4 117.3l6.2-1.8 10 0.2 12 2.3 14 4.3 12 5 10 5.5 8 5.8 6.8 6.7 5.9 8 4 8 2.4 8 0.9 8 -0.6 8 -2.4 8 -4.4 8 -4.6 5.2 -4 2.3 -2 0.4 -4-0.6 -4-2.2 -6-5.1 -14-13.5 -26-26.8 -14.7-17.7 -4.1-6 -3.3-6 -1.4-4 -0.5-4 0.4-2 1.1-2zM1179.4 155.3l11.2-0.9 10 0.2 12 1.5 8 2 6 2.7 4 3 4 4.9 3.2 6.6 2.8 8.7 7.5 29.3 5.9 20 8 24 16.5 46 3.7 12 1.9 8 1.2 10 -0.7 7 -2 6.1 -5.5 10.9 -2.5 6 -1 4 -0.6 6 0.9 8 3.6 10 5.1 8.4 8.8 11.6 2.9 6 0.6 4 -0.2 2 -1.5 4 -2.6 3.1 -4 2.3 -6 1.2 -6-0.5 -6-1.7 -8-3.4 -8-4.3 -8-5.2 -22.3-17.5 -7.1-4 -6.6-2.4 -8-1.2 -8 0.3 -8 1.7 -18 5.3 -6 0.7 -6-0.4 0-239.9 12-3.7zM1473.3 277.3l3.3-0.4 2 0.9 2 1.9 3.2 5.6 2.8 7.5 2.5 10.5 1.5 10 0.7 10 -0.3 10 -1 8 -1.8 8 -2 6 -3.6 7.1 -4 5.1 -4 3.2 -4 1.7 -4 0.4 -4-0.7 -6-3.1 -4-3.4 -5.9-6.3 -6.2-8 -3.8-6 -2-6 0-4 0.9-4 2.8-6 20.2-32.2 8-10.7 4-3.7z"/>
<path fill="#0d67be" d="M1431.6 139.3l3-1.5 6 0.4 6 2.1 6 3.2 5.1 3.8 5.1 6 1.7 4 0.1 2 -0.6 2 -1.4 1.6 -2 0.8 -4 0.1 -6-1.8 -6-3.3 -6.6-5.4 -5-6 -1.9-4 -0.2-2zM1177.1 173.3l11.5-1.4 12 0.1 12 1.7 8 2.7 6 3.6 4 4.1 2 2.7 4 7.4 4 10.1 31.9 93 4 14 2 12 -0.1 8 -1.4 6 -2.4 6 -7.4 14 -2.7 8 -1.2 10 1.3 22.2 -0.9 3.8 -1.1 1.9 -3.3 2.1 -4.7 0.5 -8-1.7 -6-2.6 -19-10.2 -7-2.7 -6-1.6 -6-1 -8-0.4 -26 1.4 -8-1.1 -6-1.7 0-204 12-4.4z"/>
<path fill="#2b3a8f" d="M1186.4 185.3l14.2-0.1 8 1 6 1.5 8 3.7 4 3.1 4 4.5 6 10 6 14 16 44.1 9.3 28.2 2.6 10 1.7 10 0.2 8 -0.9 6 -2.9 8 -11.9 22 -2.2 6 -4.6 16 -1.3 2.3 -1.7 1.7 -2.3 1.2 -4 0.5 -4-0.5 -20-5.6 -10-1.9 -10-1 -18-0.8 -8-1.1 -8-2.1 -8-3.6 0-175.7 8-3.6 8-2.8 8-1.9z"/>
<path fill="#1c1f47" d="M1180.7 197.3l7.9-1.1 8-0.2 8 0.7 6 1.2 6 2 4 2 4 2.9 4 3.9 6 8.7 8 16.7 10 26.2 8.3 25 3.7 14 1.6 10 0 10 -1.8 8 -4.8 10 -17 25.8 -4 4.7 -2 1.5 -4 2 -6 0.9 -6-0.1 -30-2.4 -10-1.3 -8-1.9 -6-2.1 -6-2.8 -6-3.6 0-150.6 12-6 8-2.7z"/>
<path fill="url(#hH)" d="M1400.3 115.3l42.5 0 15.8 5.1 12 5.1 6.9 3.8 5.8 4 5.3 4.5 5.2 5.5 4.4 6 3.4 6 2.7 6 2 6 1.7 10 0.3 6 -0.4 6 -1.4 8 -5.2 20 -1.7 8 -1.6 12 -1.1 14 -0.4 22 1.9 44 -0.4 12 -1.4 12 -3.3 14 -2.2 6 -2.9 6 -3.6 5.5 -4 4.3 -4 2.9 -4 1.7 -4 0.7 -6-0.9 -4-1.9 -6-4.5 -8-8.7 -13.8-17.1 -3.3-6 -0.9-4 0.3-4 2.3-6 12.8-20 5.7-10 7.6-16 6.1-16 3-12 1.9-14 0.1-14 -0.6-6 -1.3-6 -2-6 -2.8-6 -6.3-10 -9.5-12 -27.3-31.3 -11-14.7 -3.5-6 -2.5-6 -0.5-4zM1181.9 149.3l10.7-0.6 10 0.4 10 1.2 10 2.5 6 2.9 4 3.3 3.1 4.3 2.9 6.2 2.8 9.8 6.8 30 5.4 20 8.5 26 18.7 52 3.7 12 1.8 8 0.8 8 -0.5 6 -1.8 6 -6 12 -2.2 5.9 -1 6.1 0.2 6 1.4 6 3.4 7.5 4.6 6.5 12.5 14 2.9 5.6 0.9 4.4 -0.7 6 -2.2 4.7 -4 4.2 -6 3.1 -6 1 -6-0.3 -8-2.2 -8-3.7 -8-4.7 -8-5.6 -18.3-16.5 -5.1-4 -6.8-4 -7.8-2.7 -8-0.8 -8 0.9 -8.4 2.6 -15.6 6.2 -6 1.3 -6 0.1 0-251.5 14-4z"/>
<path fill="url(#hP)" d="M1316.9 119.3l9.7-1.2 8 0.1 8 1 8 2 8 3.1 8 4.1 8 5.1 8 6.2 10 9.1 8.1 8.5 8.4 10 7.1 10 5.6 10 3.4 8 3.2 10 2.1 10 1.2 10 0.3 12 -0.5 10 -1.3 10 -2.2 10 -2.4 8 -4 10 -4.1 8 -5.2 8 -7.9 10 -13.8 14.8 -10 9.5 -8 6.3 -6 3.5 -6 2.6 -8 2 -6 0.6 -8-0.4 -8-1.6 -6-2.2 -6-3.3 -4-2.9 -6-6.1 -4-5.4 -5.5-9.4 -5.6-12 -17.4-44 -9.5-28.5 -2.9-11.5 -2.3-12 -1.5-16 0.1-8 0.8-8 1.5-8 1.8-6 3.2-8 3.3-6 4.1-6 5.1-6 4.8-4.5 6-4.6 6-3.6 6-2.9 8-2.9z"/>
<use href="#coast" x="1332.6" y="293.3"/>
<use href="#grid" x="1332.6" y="293.3"/>
<path fill="none" stroke="#008000" stroke-width="4.0" stroke-linejoin="round" stroke-linecap="butt" d="M1333.5 292.8l-1-2 -0.4-2.9 0.2-7.5 1-15.2 3.7-34.3 1.3-15.2 0.3-7.6 -0.4-7.7 -1.7-11.7 -2.2-10.1 -3.2-10.6 -1.8-9.6 -0.2-4.5 0.2-2.1 1-3.8 0.6-1.8 1.8-3.3 1.2-1.4 1.5-1.3 3.6-2.1 4.2-1.6 4.6-1.4 8-1.2 5.5-0.4 5.3 0.1 10.7 1.1 10.7 1.9 5.2 1.5 5 1.9 4.8 2.2 2.1 1.3 3.1 2.8 2.2 2.9 1.6 3.2 1.1 3.4 0.4 7.7 0.8 4.2 2.2 7 1.8 4.5 3.1 5.9 3.8 5.5 1.6 1.6 5.8 4.4 1.6 1.5 1.2 1.6 1.2 3 0.3 1.5 0 3.2 -0.3 1.4 -0.9 1.6 -1.3 1.6 -7 5.9 -9.1 9.2 -9.4 11.4 -6.4 6.9 -9.3 9 -10.4 9.2 -8.5 6.9 -9.1 6.9 -18.9 13.2 -2.9 1.6 -2.6 1 -4.2 0.7 -2.3-0.5z"/>
<path fill="none" stroke="#008000" stroke-width="4.0" stroke-linejoin="round" stroke-linecap="butt" d="M1333.9 290.9l-0.6-3.9 0.5-6.1 5.8-31 4.6-34.2 2.7-23.2 1.4-7.5 2.8-9.2 1.1-5.8 -0.1-2.4 -1.3-7.2 -0.2-2.2 0.4-1.9 0.9-1.5 2.5-3 1.6-1.1 1.5-0.8 1.5-0.4 1.5 0.2 1.5 0.8 4.6 3.7 1.5 1 7.6 2.7 7.4 3.6 3.8 2.5 3.5 3.4 3.1 4.4 13.4 23.3 5.3 7.6 0.9 1.8 0.7 2 0.2 2.2 -0.5 4.5 -1.2 4.7 -1.9 5 -2.9 5.3 -6.9 10.7 -3.6 5.3 -3.9 5.3 -4.9 5.8 -6 6.2 -6.3 6.1 -9.2 7.8 -6.2 4.5 -14.7 10.1 -2.7 1.6 -2.5 1.2 -2.1 0.4 -2.7-0.4 -1.4-1.1z"/>
<path fill="none" stroke="#008000" stroke-width="4.0" stroke-linejoin="round" stroke-linecap="butt" d="M1336.2 289.8l-0.6-2.3 0.6-4 6.8-22.2 10.4-45.5 2.2-7 2.2-5.1 2.6-4.7 1.5-2 1.7-1.9 4.1-3.2 2.4-1.4 2.5-1.1 2.4-0.8 2.3-0.3 2 0.1 4.1 1.1 1.9 1 3.4 2.3 2.6 3.3 1 1.9 1.6 4.2 0.7 4.2 -0.1 4.5 -1.3 7 -1.7 6 -3.8 9.3 -2.7 5.8 -2.8 5.3 -7 10.9 -6.8 9.4 -9.2 10.9 -4.6 4.7 -4.7 3.9 -7.7 4.6 -2.5 1 -2.1 0.5z"/>
<path fill="none" stroke="#008000" stroke-width="4.0" stroke-linejoin="round" stroke-linecap="butt" stroke-dasharray="12.5 5.5" d="M1331.6 293.2l0.6-1.8 -0.4-3 -3.8-11.9 -0.9-3.8 -1.3-7.5 -2.6-19.1 -3.1-31.2 -1.7-9.5 -2.7-10.4 -2.3-6.7 -1.4-3.2 -5-9.1 -2.7-6 -1.5-5.4 -2.4-13 -0.7-5.2 -0.5-2.4 -0.7-2 -1.1-1.6 -1.2-1 -3-1.1 -3.3-0.3 -1.6 0.1 -1.9 0.5 -1.9 0.9 -3.9 2.5 -5.7 4.6 -3.8 3.7 -13.6 14.9 -3.4 4.8 -2.7 5.1 -2.2 5.4 -2.9 8.4 -3.6 15.4 -3.3 12 -1.3 6.2 -1.8 10.4 -0.6 6.9 0.4 6.1 1 5.7 0.8 2.7 1.1 2.5 1.4 2.2 1.7 1.9 2.1 1.7 2.3 1.5 12.7 6.6 10.8 4.3 18.3 5.7 16 5.7 18.1 5.2 4.4 1.5 2 0.5 1.7 0.1z"/>
<path fill="none" stroke="#008000" stroke-width="4.0" stroke-linejoin="round" stroke-linecap="butt" stroke-dasharray="12.5 5.5" d="M1330.5 293.2l0.5-2.5 -0.4-4.5 -3.7-19 -1-5.9 -2.7-28.9 -2.7-17.2 -1.6-7.4 -3-9.9 -7.8-19.2 -2.4-4.2 -1.4-1.7 -1.7-1.2 -1.8-1 -8-2.8 -7.6-4.5 -1.9-0.8 -1.9-0.5 -1.5 0 -3.1 0.5 -3 1.1 -3.1 1.7 -3.1 2.4 -4.4 4.6 -3.3 4.1 -3.2 4.6 -1.4 2.5 -2.3 5.3 -0.9 3 -1.4 6.2 -2.2 12.3 -2.5 24.7 -0.1 3 0.5 4.9 0.8 3.9 1.4 3.6 2 3.5 1.4 1.6 3.1 3 5.9 4.4 8 4.6 17.7 9.1 18.4 8.4 17.5 7 5.9 1.5 1.6 0z"/>
<path fill="none" stroke="#008000" stroke-width="4.0" stroke-linejoin="round" stroke-linecap="butt" stroke-dasharray="12.5 5.5" d="M1336.2 295.5l1 1 2.4 1.2 7.4 2.5 7.4 2.2 9 2 13 1.8 11.6 0.8 7.5-0.1 9.5-1 6-1.4 2.8-1 5-2.7 2.3-1.7 4.4-3.8 3.8-4.4 1.7-2.5 3.1-5.5 2.5-5.6 2.1-6.1 1.6-6.3 0.5-3.1 0.5-4.9 0-4.1 -0.6-3.6 -0.7-1.6 -0.9-1.3 -2.5-2.2 -1.5-1 -3.1-1.2 -1.7-0.3 -3.9 0.1 -3.9 0.8 -3.8 1.3 -3.8 2.1 -5.7 4 -4.4 3.5 -9.3 7.9 -8.8 6.9 -6.3 4.6 -6.5 4.3 -6.9 4 -10.3 5.3 -20.3 8.7z"/>
<path fill="none" stroke="#008000" stroke-width="4.0" stroke-linejoin="round" stroke-linecap="butt" stroke-dasharray="12.5 5.5" d="M1337.3 294.4l1.2 0.7 7.1 1.7 13.4 2.1 9.2 1 6 0.2 9.4-0.2 6.3-0.6 2.9-0.6 2.7-0.9 4.4-2.4 4-3.2 3-3.5 1.1-1.8 1.6-3.9 0.7-4 -0.2-3.1 -0.8-2.6 -0.6-1.1 -1.8-1.8 -1.4-0.6 -3.8-0.3 -6.2 0.9 -2.2 0.6 -4.5 1.8 -9.9 4.7 -12.2 6.3 -6.2 2.7 -15.2 5.6 -7.6 1.9z"/>
<path fill="none" stroke="#008000" stroke-width="4.0" stroke-linejoin="round" stroke-linecap="butt" d="M1312.8 296.3l-1.4-1.3 -2.5-1 -14.2-3.2 -14.3-3.9 -7.4-1.5 -7.2-0.8 -7.2-0.4 -10.9 0.3 -7.2 0.8 -10.8 1.9 -11.2 3 -7.2 2.7 -6.1 3.1 -5.4 3.5 -2.4 1.9 -3.8 3.9 -2.8 4.4 -0.8 3.1 0 1.5 0.4 1.8 0.8 2 1.2 1.9 3 3.6 1.8 1.5 2.4 1.7 5.8 2.7 9.8 2.9 7.1 1.3 7.3 0.6 3.7 0.1 7.3-0.7 7.2-1.6 14.5-4.6 7.3-2.9 10.7-4.9 6.3-3.5 11.7-7.3 9.4-4.8 1.9-1.1 1.4-1.3 1.2-1.8 0.8-1.9 0-0.9z"/>
<path fill="none" stroke="#008000" stroke-width="4.0" stroke-linejoin="round" stroke-linecap="butt" d="M1301.9 299.9l-0.8-1.2 -1.9-1 -2.6-0.9 -12.4-3.2 -7.2-1.4 -7.5-1.1 -7.3-0.5 -7.4-0.1 -7.2 0.5 -6.7 1.3 -6.3 1.9 -5.9 2.5 -4.8 2.6 -4.4 2.9 -1.9 1.5 -1.4 1.7 -1 1.7 -0.3 1.5 -0.1 1.7 0.7 3.5 1.5 3 1.4 1.5 1.9 1.3 4.4 2.2 5 1.5 6.7 1.1 7.5 0.2 7.5-0.5 3.6-0.6 7.4-1.9 7.2-2.4 9.8-4 6.2-3 5.5-3.3 7.2-4.7 2-1.6 1.3-1.4z"/>
<path fill="none" stroke="#008000" stroke-width="4.0" stroke-linejoin="round" stroke-linecap="butt" d="M1267.6 305.3l-0.6-0.9 -1.3-0.8 -1.6-0.7 -3.8-0.9 -5.3-0.6 -3.8 0.2 -5 1.3 -4.6 2.3 -1.1 0.9 -0.7 1 -0.3 2 0.6 2.3 0.5 1 0.7 0.8 1.1 0.9 1.5 0.7 3.7 1 3.8 0.3 1.8 0 3.9-0.7 1.9-0.5 3.2-1.7 2.7-2.4 1.2-1.5 1.5-2.9z"/>
<path fill="none" stroke="#008000" stroke-width="4.0" stroke-linejoin="round" stroke-linecap="butt" stroke-dasharray="12.5 5.5" d="M1211.6 377.5l-2.3 3.7 -0.9 1.9 -0.6 2 -0.1 1.8 0.3 1.5 1.2 1.4 1.9 1.1 2.5 1 2.9 0.8 6 1.1 4.2 0.4 4.7 0 5-0.3 10.2-1.2 9.2-1.5 8.9-1.9 4.3-1.2 4-1.5 3.7-1.9 2.8-1.9 2.6-2.2 4.7-5 6.4-8.1 3.7-6.1 5-9.2 6.2-9.9 0.9-2.4 0.2-2.1 -0.5-1.8 -0.8-1.8 -1.3-1.7 -1.4-1.6 -1.6-1.2 -1.7-0.9 -2-0.6 -2.3-0.1 -2.6 0.3 -2.6 0.5 -4.9 1.7 -2.5 1.2 -2.3 1.6 -9.7 8 -10.5 7.3 -7.4 4.9 -7.3 4.2 -14.6 7.1 -13.6 6.9 -3.1 1.8 -2.8 1.9z"/>
<path fill="none" stroke="#008000" stroke-width="4.0" stroke-linejoin="round" stroke-linecap="butt" d="M1381.4 334.2l1-1.1 1.6-1 2-0.8 4.3-0.8 1.9 0.1 1.9 0.6 1.7 1.1 5.3 4.4 2 1.1 7 2.5 5 1 2.4 0.1 2.5-0.2 9.7-2.9 8.3-1.4 1.9-0.1 1.6 0.3 1.3 0.7 1.2 1.8 0.6 2.7 0.2 3.2 -0.2 20.3 -0.3 3.2 -0.5 2.8 -1 2.1 -2 2 -2.5 1.3 -2.7 0.3 -1.7-0.4 -1.7-1 -5.5-4.5 -2-1.3 -12.2-5.8 -2.2-1.4 -3.9-3.4 -12.8-13.8 -1.4-0.9 -1.4-0.5 -5-0.3 -1.5-0.3 -1.1-0.7 -0.8-1.1 -1.2-3.3 -0.2-3.3z"/>
<path fill="none" stroke="#008000" stroke-width="4.0" stroke-linejoin="round" stroke-linecap="butt" d="M1489.8 283.6l1-1.3 3.2-2.6 1.8-1 1.7-0.5 1.3 0 0.9 0.7 0.8 1.2 0.7 1.6 0.9 3.7 0.5 6.3 -0.5 4.7 -0.6 2 -0.9 1.5 -1 0.8 -1.2 0.6 -2.7 0.7 -1.3 0 -1-0.3 -1-0.8 -1.4-3 -0.9-3.6 -1-6.4 0.2-3z"/>
<path fill="none" stroke="#008000" stroke-width="4.0" stroke-linejoin="round" stroke-linecap="butt" d="M1222.5 424.5l7.2-1.6 3.6-0.2 3.8 0.6 1.9 0.5 3.6 1.5 1.5 1 3.6 3.3 1.5 2.6 0.4 1.3 -0.1 1.3 -0.5 1.4 -3.1 5.6"/>
</g>
<ellipse cx="1332.6" cy="293.3" rx="171.0" ry="173.2" fill="none" stroke="#000" stroke-width="1.3"/>
<g clip-path="url(#ce)">
<circle cx="1700.9" cy="293.3" r="173.2" fill="#f3f9fc"/>
<path fill="#fef9e8" d="M1522.9 115.3l356 0 0 145.5 -6-3.1 -8-3 -8-2.1 -10-1.7 -10-0.9 -10-0.1 -8 0.5 -8 1.3 -12 3.5 -12 5.9 -12 7.9 -28 21.6 -14 9.7 -10 5.9 -8 4 -16 6.2 -8 2.2 -10 1.9 -10 1.1 -8 0.2 -14-1.1 -28-4.8 -8-0.3 -6 0.2 -8 1 -8 1.8 -7.5 2.7 -6.5 3.4 -6.3 4.6 -7.7 8.2 -12 16.7 -11.1 17.1 -5.2 10 -3.9 10 -2.6 10 -1.1 10 0.4 10 2 10 3.9 10 4.8 8 6.8 7.7 8 6.4 10 5.2 9.1 2.7 -49.1 0zM1592.9 161.2l-8 1.5 -6 1.8 -6 2.7 -3.3 2.1 -4.6 4 -3.3 4 -2.3 4 -2.5 6 -1.4 6 -0.6 8 0.6 8 1.5 6 2.2 6 3.4 6 3.3 4 5 4 4 2.1 6 1.9 6 1 8 0.5 8-0.3 10-1 10-1.7 10-2.3 14-4.9 6.7-3.3 5.3-3.3 8-6.9 4-4.8 3.3-5 2.9-6 2-6 1.1-6 0-4 -0.9-4 -2.3-4 -2.1-2.1 -4-2.8 -6-2.8 -7-2.3 -11-2.7 -12-2.1 -10-1.3 -12-0.8 -10 0zM1664.6 385.3l8.3-0.4 8 0.8 8 2.1 6 2.4 5.9 3.1 6.2 4 19.9 15.8 4 2.4 6 2.6 8 2.1 16 2.8 14 1.8 14 1.1 14-0.2 12-1.3 12-2.4 12-3.7 10-4.2 12-6.6 10-7.1 8-7.1 0 78 -284.3 0 8.3-2.4 6-2.6 6-3.7 6-5.5 3.8-5.8 2.2-5.6 5.7-30.4 2.6-8 3-6 4.7-6.1 6-4.6 8-3.6z"/>
<path fill="#fce9ae" d="M1597.6 117.3l2-2 190.5 0 8.8 4.2 7.6 5.8 5 6 3.9 8 1.8 6 1.6 8 2.2 18 0 12 -0.9 6 -1.1 4 -3.9 8 -6.4 8 -51.1 48 -11.7 10 -11 8.3 -12 7.6 -10 4.9 -8 2.9 -8 2 -8 1 -8 0.1 -10-1.3 -26-5.2 -32-3.4 -10-2.5 -4.8-2.4 -2.3-2 -1.2-2 -0.5-2 0.9-4 3-4 2.3-2 6.2-4 8.5-4 31.9-11.5 14-6.1 12-7.4 10-8.8 8.2-10.2 7.2-12 7.4-16 1.9-6 0.5-4 -0.9-4 -1.4-2 -2.9-2.3 -6-2.6 -12.8-3.1 -31.2-5.7 -20.2-4.3 -14.4-4 -11.4-4.5 -4-2.2 -4.6-3.3 -1.9-2 -2.2-4 -0.5-2 0.4-4 1.9-4zM1669 399.3l5.9-0.3 4 0.6 5.5 1.7 4.5 2.4 4.5 3.6 3.3 4 2.3 4 2 6 0.5 6 -0.5 4 -1.9 6 -2.3 4 -3.5 4 -4.4 3.5 -4 2.1 -6 1.8 -6 0.5 -4-0.4 -6-1.8 -4-2.1 -4-3.2 -3.6-4.4 -2.4-4.5 -1.6-5.5 -0.5-6 0.8-6 2.1-6 2.5-4 2.7-3.1 4-3.1 4-2.1z"/>
<path fill="#fdd083" d="M1635.5 117.3l3.9-2 87.7 0 9.4 4 9.4 6 2.2 2 3.1 4 1.4 4 0.1 2 -0.4 2 -1.1 2 -2.1 2 -2.2 1.3 -6 1.9 -8 1.1 -20 1 -18 0 -16-1 -14-1.9 -11.4-2.4 -8.6-2.6 -7.9-3.4 -5.8-4 -2.8-4 -0.4-2 0.2-2 2.2-4zM1746.3 167.3l4.6-1.3 6-0.6 6 0.8 4 1.7 4 3.1 3.3 4.3 2.4 6 0.8 6 -0.4 6 -1.2 6 -2.1 6 -2.8 6 -3.4 6 -5.5 8 -11.5 14 -11.6 11.5 -10.9 8.5 -11.1 6.5 -6 2.5 -6 1.9 -6 1.2 -6 0.5 -12-0.6 -16-3.3 -6-2.2 -2-1.4 -1.1-1.1 -0.3-2 1-2 1.9-2 18.5-12.8 10-7.6 8.3-7.6 7.3-8 4.5-6 3.7-6 10.2-21.5 6-8.1 4-3.9 4-3 6-3.4zM1669.1 411.3l5.8-0.6 4 1 2.9 1.6 2.3 2 2.6 4 0.6 2 0.4 4 -0.8 4.1 -2 3.6 -2 2.1 -4 2.5 -6 1 -5.2-1.3 -2.8-1.7 -2-1.9 -2.6-4.4 -0.7-6 1.3-4.8 2-3.1 2-1.9z"/>
<path fill="#f9af7b" d="M1674.3 121.3l10.6-0.5 10 1.4 3.9 1.1 3.9 2 2 2 0.5 2 -1.1 2 -3.2 2 -2 0.7 -6 1.3 -8 0.4 -8-0.6 -7.8-1.8 -4.1-2 -2.1-2 -0.4-2 1.2-2 3.2-2zM1741.3 189.3l3.6 0.1 2 0.9 2 1.6 1.9 3.4 0.4 2 -0.3 4 -2 4.7 -4 4.6 -4 2.4 -4 0.6 -2-0.7 -1.5-1.6 -1.1-2 -0.9-4 0.4-6 1.1-3.2 2-3.1 2-1.9z"/>
<path fill="#d7eef9" d="M1618.1 185.3l6.8-1.7 6-0.1 6 1.2 6 2.8 4 4.1 1.5 3.7 0.3 2 0 2 -1.1 4 -2.4 4 -4.2 4 -3.3 2 -4.8 1.9 -4 0.9 -6 0.2 -4-0.7 -4-1.5 -4-2.8 -2-2.4 -1.8-3.6 -0.7-4 0.4-4 1.6-4 2.5-3.3 3.3-2.7zM1818.7 271.3l8.2-0.9 8 0.1 8 1.3 8 2.6 8 4.3 5.8 4.6 5.4 6 3.8 6 2.8 6 2.2 7.8 0 23.4 -1.8 6.8 -3.2 8 -3.3 6 -4.2 6 -5.5 6 -6 5.2 -6 4 -6 3.3 -8 3.2 -8 2.3 -8 1.3 -8 0.6 -8-0.2 -8-0.8 -10-2.1 -8-2.4 -8-3 -8-3.8 -8-4.5 -7.3-5.1 -4.4-4 -3.3-4 -1.9-4 -0.6-4 0.6-4 1.5-4 3.5-6 4.4-6 8.6-10 11.3-12 10.3-10 9.5-8 7.8-5.5 8-4.6 8-3.3zM1577 395.3l5.9-1.7 4-0.3 4 0.6 3.6 1.4 3.2 2 3.2 3.3 1.7 2.7 1.5 4 0.7 4 -0.2 6 -1 4 -1.8 4 -2.9 4 -2.1 2 -3.9 2.6 -4 1.6 -4 0.7 -4-0.2 -4-0.9 -3.7-1.8 -2.7-2 -3.5-4 -2.7-6 -0.6-4 0.1-4 0.8-4 1.7-4 4.6-5.9z"/>
<path fill="#b4dcf2" d="M1821.8 287.3l9.1-0.8 8 1.2 8 3.4 5.6 4.2 5 6 3.8 8 1.7 8 -0.1 8 -1.7 8 -3.6 8 -4.7 6.6 -6 5.7 -8 5 -8 3 -8 1.5 -10 0 -8-1.6 -5.9-2.2 -6.1-3.4 -4-3.3 -4-4.6 -2.5-4.7 -1.6-6 0-6 1.1-6 3.2-8 4.8-8 4.9-6 6.1-5.7 6-4.3 8-4z"/>
<path fill="#92bce0" d="M1826.8 305.3l4.1 0 4 1.1 4 2.4 2 1.9 2 3 1.3 3.6 0.6 4 -0.4 4 -2.3 6 -3 4 -2.2 2.1 -4 2.4 -4 1.5 -4 0.5 -4-0.2 -6-2.2 -4.5-4.1 -1.5-2.5 -1.1-3.5 0-6 2.1-6 4.5-6 5.7-4z"/>
<path fill="url(#hP)" d="M1619.3 137.6l0.6-1.8 1.3-1.7 1.8-1.6 2.2-1.4 4.9-2.5 4.3-1.4 5-0.9 5.6-0.5 35.8-1.8 12.1 0 16.5 0.7 5.4 0.3 5 0.7 4.3 1.1 3.5 1.8 2.1 1.8 1.8 2.3 1.4 2.5 1.1 2.6 0.6 2.7 0.3 2.5 -0.3 2.5 -0.7 2.7 -1.1 2.6 -1.5 2.5 -1.7 2.3 -2 1.9 -2.7 1.7 -3.3 1.2 -3.6 0.9 -3.9 0.7 -8.1 0.9 -5.1 0.2 -5.4-0.1 -11.3-0.8 -23.8-2.6 -8.2-1.3 -15.9-3.6 -3.7-1.2 -3.3-1.5 -2.8-1.8 -3.8-3.9 -1.5-2.2 -1.2-2.3 -0.7-2.2zM1698.7 164.7l3.3-3.4 4.3-3.2 5.1-2.9 5.5-2.3 5.5-1.7 5.2-1 4.9-0.1 5 0.5 5.1 1.2 5 1.5 4.7 2 4.2 2.2 3.6 2.3 3.2 2.7 5.9 6.3 13.7 17.2 2.4 3.7 2.1 3.7 1.7 3.8 1.8 7.1 0.6 3.7 0.1 3.7 -0.2 3.6 -0.5 3.6 -1.2 3.8 -1.8 3.7 -4.7 7.4 -7.2 9.4 -12.2 11.8 -2.4 2.9 -6.9 9.4 -2.5 3 -2.7 2.8 -6.7 5.5 -7.4 4.9 -3.8 2.2 -7.3 3.3 -3.6 1.2 -7.2 1.8 -7.3 0.9 -7.5 0.5 -7.5-0.4 -3.5-0.7 -3.2-1.2 -3-1.6 -2.8-2 -2.7-2.4 -2.4-2.7 -2.1-2.8 -1.5-2.9 -1-3.2 -0.5-3.6 0-3.7 0.8-7.6 0.7-3.6 1.2-3.7 3.6-7.2 4.1-7.2 9.7-17.8 1.7-3.7 1.4-3.7 1-4.1 0.8-4.2 2.2-20.9 0.3-7.6 0.4-3.7 0.9-3.4zM1669.8 417.6l1.3-0.7 1.9-0.5 2.2-0.1 2.3 0.1 1.9 0.5 1.3 0.7 0.6 1.1 0.5 3.4 -0.5 3.4 -0.6 1.1 -1.3 0.7 -1.9 0.5 -2.3 0.1 -2.2-0.1 -1.9-0.5 -1.3-0.7 -0.6-1.1 -0.4-1.6 0-3.6 0.4-1.6z"/>
<use href="#coast" x="1700.9" y="293.3"/>
<use href="#grid" x="1700.9" y="293.3"/>
<path fill="none" stroke="#954f99" stroke-width="3.0" d="M1696.2 309.8l0.7-3.6 2.6-6.3 3.1-4.9 2.3-2.9 5.4-5.8 12.2-11.7 7-5.8 7.1-5.2 6.9-4.5 7-3.8 3.4-1.3 3.2-0.7 5.1 0 2.4 0.4 2.4 0.7 2.1 1 1.7 1.3 1.6 2 1.2 2.6 1 3 0.6 3.2 0.7 6.3 -0.1 6.8 -0.5 3.4 -1.7 7 -2.5 7 -1.7 3.6 -4.1 7.1 -2.3 3.3 -2.5 2.9 -5.1 4.9 -2.8 2.2 -6 3.6 -3.2 1.3 -3.2 1 -7 1 -3.5 0.2 -6.8-0.5 -3.1-0.6 -6-2.2 -5.6-2.7 -5.9-3.5 -3-2.3 -2.1-2.4 -0.7-1.6 -0.3-2.6z"/>
<path fill="none" stroke="#954f99" stroke-width="3.0" d="M1760.5 208.8l9.3 1.9 5.1 1.4 4.8 1.8 4.5 2.3 3.7 2.9 3.2 3.9 2.7 4.6 2.2 5.3 1.7 5.5 1.3 5.8 0.9 5.7 0.4 6.5 -0.2 6.8 -0.8 7 -1.2 7.1 -3.3 13.6 -4.3 13.3 -2.6 6.6 -3 6.3 -3.4 6 -3.8 5.5 -4.3 4.9 -4.6 4.7 -5.1 4.4 -5.4 3.9 -5.6 3.4 -5.8 2.6 -6.3 2 -6.7 1.2 -7 0.5 -14.2 0 -13.8-0.7 -7.1-0.7 -13.9-2.4 -13.2-3.3 -11.2-3.7 -10.5-4.6 -4.8-2.6 -4.3-2.8 -3.3-2.5 -6.3-5.7 -2.6-2.9 -2-3 -1.2-3 -0.3-2.3 0.1-2.4 0.5-2.3 0.7-2.4 2.5-4.3 2.1-2.3 2.8-2.1 6.8-3.8 10.9-5.7 16.3-7.7 3.8-2.3 7.2-5.2 10.1-8.7 6.8-6.9 13.5-16.4 13.7-14.9 6.9-6.6 9.1-7.2 5.6-3.6 2.9-1.4 2.9-1 5.5-0.9 2.8-0.1 5.8 0.5z"/>
<path fill="none" stroke="#954f99" stroke-width="3.0" d="M1591.2 314.9l0-5.1 0.5-2.7 1.6-5.2 1.3-2.4 2.1-2.8 2.8-2.7 3.1-2.6 7.2-5 7.8-4.8 4.5-2.3 14.2-6.6 21-10.9 3.8-2.4 3.6-2.7 6.5-6.2 5.7-6.9 4.9-7.4 2.2-3.8 3.5-8.1 4.6-12.1 4-13.2 1.3-2.9 1.5-2.7 3.8-4.3 2.2-1.9 2.4-1.7 2.6-1.3 2.7-1 4-0.7 4.3 0.1 4.7 0.5 14.4 2.4 18.4 2.2 4.5 1 4.5 1.3 9.5 3.9 4.8 2.4 4.6 2.8 4.4 3 4.1 3.3 4 3.8 3.9 4.2 3.7 4.5 3.4 4.7 3 5 2.5 5.2 2.2 5.7 1.8 6 1.3 6.4 1 6.4 0.5 6.6 0 6.5 -0.4 7.3 -1 7.5 -1.5 7.7 -2 7.6 -2.4 7.4 -2.9 7 -3.4 6.9 -4 6.7 -4.4 6.5 -4.9 6.3 -5.2 5.9 -5.5 5.3 -6 5.1 -6.5 4.7 -6.9 4.3 -7.1 3.8 -7.3 3.4 -7.3 2.7 -7.1 2.1 -7.4 1.6 -7.5 1 -7.5 0.6 -7.5 0.2 -7.5-0.4 -7.5-0.9 -7.5-1.4 -7.6-2 -7.4-2.3 -14.4-5.3 -13.5-6.1 -6.6-3.4 -6.3-3.5 -5.9-3.8 -5.4-3.8 -4.1-3.2 -7.7-6.9 -6.3-7 -2.4-3.4 -2.6-4.6 -1.7-4.5 -0.6-2.3z"/>
<path fill="none" stroke="#954f99" stroke-width="3.0" d="M1567.2 318.3l-1.6-6.6 -0.5-3.5 -0.2-3.4 0.1-3.5 0.5-3.5 1.2-4.1 1.7-4.2 2.2-4.2 2.6-4.1 2.9-3.8 3.1-3.6 3.7-3.4 4.3-3.1 9.5-5.6 9.9-5 4.9-2.2 20.8-7.6 14.8-6.6 9.4-4.9 4.4-2.9 3.8-3.2 3.3-3.4 2.9-3.8 2.6-4.1 4.6-8.4 3.7-8.2 5.2-16.3 1.7-3.7 3.8-6.4 4.5-5.9 2.5-2.6 2.9-2.2 3.3-1.9 3.8-1.6 3.9-1.2 4.2-0.9 8.7-1.2 5.4-0.3 5.6 0.2 11.7 1.2 11.5 2.3 11.8 3.4 5.8 2.2 5.8 2.4 5.6 2.7 5.3 3 10 6.8 4.8 3.8 4.5 4.2 4.2 4.4 3.8 4.8 3.8 5.5 3.4 5.9 3 6.4 2.7 6.5 2.3 6.7 2 6.6 1.5 6.6 1.1 6.8 0.7 6.8 0.4 7 0 6.9 -0.3 7 -0.8 7.3 -1.1 7.5 -1.6 7.6 -1.9 7.5 -2.3 7.4 -2.6 7.1 -3 7.3 -3.5 7.1 -3.8 7.1 -4.2 6.9 -4.5 6.5 -4.9 6.2 -5.5 5.9 -5.8 5.7 -6.2 5.4 -6.6 5.1 -6.7 4.6 -6.9 4.1 -7 3.6 -7.2 3.3 -7.5 2.8 -7.6 2.4 -7.6 1.9 -7.6 1.4 -7.3 0.8 -7.5 0.4 -7.4-0.1 -7.5-0.5 -7.4-1 -7.4-1.3 -7.5-1.8 -7.6-2.4 -7.6-2.7 -7.5-3.1 -7.2-3.5 -7.1-3.6 -6.7-3.9 -6.7-4.3 -6.5-4.6 -6.2-4.8 -11.5-9.8 -9.1-9.1 -4.3-4.7 -7.5-9.2 -3-4.4 -3.7-5.7 -2.8-5.6 -1.2-2.8z"/>
<path fill="none" stroke="#954f99" stroke-width="3.0" d="M1546.7 325.2l-2.4-8.1 -2-9.6 -0.6-4.9 -0.2-4.8 0.3-5.1 0.6-5.2 1-5.3 1.3-5.2 1.7-5.1 2-4.9 2.5-5 2.9-4.9 3.4-4.7 3.6-4.6 4-4.3 4.1-3.9 4.6-3.4 5-3.1 16.1-7.8 19.7-10.7 4.7-2.8 4.3-3 3.8-3.4 3-3.5 2.6-3.9 2.3-4 4-8.4 1.8-4.2 1.3-4 2.6-12.5 1.2-3.9 1.7-3.5 2.2-3.1 2.4-3 2.7-2.7 3-2.5 3.3-2.2 3.5-1.9 4.8-1.8 5.4-1.2 5.8-0.8 31.7-2.1 13.8-0.2 7 0.3 6.8 0.7 13.9 2.2 13.8 3.5 6.8 2.1 6.6 2.4 13.2 5.7 6.4 3.3 6.3 3.5 6.1 3.9 5.6 4.2 5.3 4.4 4.9 4.7 4.8 5.1 4.4 5.3 4.2 5.5 3.8 5.8 3.7 6.2 3.4 6.6 3.1 6.9 2.8 7 2.3 7.2 1.8 7.1 1.3 7.2 0.8 7.3 0.4 7.5 0 7.5 -0.2 7.5 -1.4 15.5 -1.1 8 -1.5 8.2 -1.9 8 -2.2 8 -2.7 7.7 -3.3 7.8 -3.7 7.8 -4.2 7.6 -4.5 7.4 -4.9 7.1 -5.1 6.8 -5.5 6.4 -5.8 6.2 -6.2 5.9 -6.5 5.6 -6.7 5.2 -7 4.9 -7.4 4.7 -7.7 4.5 -8.1 4 -8.2 3.7 -8.2 3 -8.3 2.4 -7.8 1.5 -8 1 -8 0.4 -8.1 0 -8-0.4 -8-0.8 -8.1-1.3 -8.1-1.7 -8.1-2.1 -8-2.5 -7.9-2.9 -7.7-3.2 -7.8-3.7 -7.7-4.1 -7.6-4.5 -7.4-4.8 -7.1-5.1 -6.9-5.2 -6.3-5.3 -6.2-5.7 -11.6-11.8 -5.3-5.8 -8.3-9.9 -6.3-8.4 -5.2-7.8 -4.2-6.9 -2.3-4.8z"/>
<path fill="none" stroke="#954f99" stroke-width="3.0" d="M1867.3 243l3.3 32.1 0.5 8 0 7.8 -0.4 7.6 -1.6 14.8 -1.3 7.4 -1.6 7.3 -2 7.4 -2.5 8.1 -3 8.3 -3.4 8.2 -3.8 8.1 -4.2 7.8 -4.6 7.4 -5.3 7.3 -5.8 7.1 -6.2 6.8 -6.6 6.5 -6.8 6.1 -7 5.6 -6.9 5 -7.1 4.7 -7.4 4.3 -7.6 3.8 -7.7 3.4 -7.8 2.8 -7.7 2.1 -7.9 1.7 -8.1 1.1 -8.1 0.8 -8.1 0.2 -8-0.1 -8.1-0.7 -8.3-1.2 -8.3-1.7 -8.1-2 -7.8-2.2 -7.3-2.5 -5.6-2.3 -10.3-5.3 -14.9-8.5"/>
<path fill="none" stroke="#008000" stroke-width="4.0" stroke-linejoin="round" stroke-linecap="butt" d="M1701.9 290.7l-0.8-1.6 -0.6-2.8 -2-15 -4.6-18.3 -2-9.1 -1-6.1 -0.9-8.4 -0.1-5.3 0.6-5.3 0.7-2.7 2-5.5 4.1-7.8 3.5-4.9 5.9-6.8 3.9-3.5 7.8-5 1.8-1.4 1.6-1.7 4.4-5.7 1.5-1.6 1.6-1.3 2.9-1.4 3.2-0.9 3 0 1.6 0.4 1.6 0.7 3.1 2.1 2.8 2.5 1.4 1.7 2.4 4.1 4.2 9.3 3.9 10.8 2.4 9.6 0.6 4.5 0 2.2 -0.9 4.6 -2.6 6.8 -4.1 7.7 -7.3 10.6 -7.3 9.4 -6.2 6.3 -9.3 7.5 -6.3 5.7 -7.4 7.6 -5.8 7.3 -1.4 0.9 -0.8 0.1 -0.7-0.1z"/>
<path fill="none" stroke="#008000" stroke-width="4.0" stroke-linejoin="round" stroke-linecap="butt" stroke-dasharray="12.5 5.5" d="M1616.4 196.5l-0.1-4.1 0.6-2.3 1.4-1.7 2.2-1 3.8-0.5 2.8 0.5 2.8 1.1 1.3 0.9 2.2 2.2 0.9 1.5 1.4 3.6 1.8 6 0.9 4.6 0.8 7 0.2 7 -0.4 3.8 -0.5 1 -1.2 0.2 -2.7-1.3 -4.2-3.4 -2.6-2.8 -2.6-3.5 -2.2-3.9 -4.9-9.6 -1.4-3.6z"/>
<path fill="none" stroke="#008000" stroke-width="4.0" stroke-linejoin="round" stroke-linecap="butt" stroke-dasharray="12.5 5.5" d="M1638.5 226.8l1.5 0.3 1.6 1.3 7.8 8.7 11.6 9.4 5.5 5.7 3 3.8 4 5.8 11.3 19.3 2.2 2.8 3.7 3.1 0.9 1.2 -1.5-0.1 -17.8-5.4 -7.8-1.4 -5.5-0.7 -8.7-0.4 -24.5 0.4 -16.4-0.3 -3.2-0.2 -2.3-0.6 -1.2-0.9 0.2-1.4 1.2-1.9 18.5-18 3.5-4.1 3.2-4.5 4.2-7.1 1-2.7 2-9 0.8-2.1z"/>
<path fill="none" stroke="#008000" stroke-width="4.0" stroke-linejoin="round" stroke-linecap="butt" d="M1696.2 299.1l3.4-2.7"/>
<path fill="none" stroke="#008000" stroke-width="4.0" stroke-linejoin="round" stroke-linecap="butt" d="M1655.1 159.5l0.2-0.5 1.1-1.2 1.5-0.9 0.7-0.1 0.7 0.1 1.5 0.9 1.2 1.2 0.2 0.5 -0.2 0.5 -1.2 1.2 -1.5 0.9 -0.7 0.1 -1.4-0.5 -1.9-1.7z"/>
<path fill="none" stroke="#008000" stroke-width="4.0" stroke-linejoin="round" stroke-linecap="butt" d="M1834.3 285.4l0.3-0.8 2.4-1.9 9.4-5.9 1.2-0.4 1.1 0 2.2 1 2 2.1 1.3 2.3 0.1 1.3 -0.3 1.5 -1.5 4.8 -0.2 1.4 0.3 1.3 1.7 5 -0.1 1 -0.6 0.8 -0.8 0.9 -2.1 1.4 -2 0.5 -1-0.5 -2.2-2.3 -1.7-3.1 -0.5-1.4 0.1-1.2 1.9-5.2 -0.2-0.8 -0.7-0.3 -1.1 0.1 -4.3 1 -1.1-0.1 -2.4-1 -1-1z"/>
<path fill="none" stroke="#008000" stroke-width="5.0" stroke-linejoin="round" stroke-linecap="butt" d="M1612.9 439.7l0.5-0.7 2.2-1 2.6-0.5 1.2 0 1 0.3 2.2 1.1 1.6 1.5 0.2 0.7 -0.2 0.7 -0.7 0.8 -2 1.5 -2.1 1 -1.8 0.1 -1.9-0.4 -1.4-0.8 -1.3-2.1 -0.3-1.6z"/>
<path fill="none" stroke="#008000" stroke-width="4.5" stroke-linejoin="round" stroke-linecap="butt" d="M1785.5 439.7l2.8-6.3 0.8-1 2.2-1.4 3.8-1.3 2.6-0.2 6.6 1.5"/>
</g>
<ellipse cx="1700.9" cy="293.3" rx="171.0" ry="173.2" fill="none" stroke="#000" stroke-width="1.3"/>
<g clip-path="url(#cf)">
<circle cx="227.7" cy="729.2" r="173.2" fill="#d4dbde"/>
<path fill="#e9d9d4" d="M49.7 551.2l78.6 0 -4.6 4.3 -4.8 5.7 -3.7 6 -2.5 6 -1.4 6 -0.5 6 0.3 6 1.4 8 2.3 8 2.4 6 3.9 8 3.7 6 4.3 6 6.7 8 17.9 18 7.1 8 6.7 10 4.2 10 2.5 10 1.9 12 1.4 14 0 8 -1 6 -1.3 4 -7.9 16 -2.3 6 -1.5 8 0.4 6 1 4 1.6 4 5.2 7.8 6 6.2 14.4 12 1.6 2 0.8 2 -0.2 2 -1 2 -8.2 10 -3.5 6 -1.4 6 0.5 4 0.8 2 2.8 4 3.4 2.7 6 2.4 6 0.8 8-1.1 6.5-2.8 5-4 2.5-3.4 1.2-2.6 1.1-6 -1.3-6 -2-4 -6.7-10 -0.3-2 0.5-2 1.3-2 28.2-26 4.9-4 9.1-5.7 20-9.9 6-4 6-5 6.7-7.4 6.5-10 4.8-10.7 3.1-11.3 0.9-8 -0.2-8 -1.3-8 -3.1-10 -3.6-8 -4.3-8 -20.1-30 -3.1-6 -2.1-6 -1.4-6 -0.9-8 0.5-28 -1.2-12 -1.7-6 -3.1-6 -3.2-4 -4.3-4 147.1 0 0 356 -311.1 0 5.9-6 5.2-7.3 4.5-8.7 3.6-10 2.8-12 1.3-10 0.3-10 -0.9-12 -3-16 -2.9-10 -2.9-8 -3.6-8 -3.5-6 -3.7-5.3 -4.1-4.7 -4.4-4 -5.5-3.9 -6-3 -6-1.9 -6-0.8 -6 0.4 -6 1.8 -4 2.2zM293.7 822.8l-3.7 2.4 -1.9 2 -3.3 6 -0.9 4 -0.1 4 0.7 4 1.2 3.3 1.5 2.7 2.5 3.3 3.1 2.7 2.9 1.8 4 1.4 4 0.5 6-1.2 4-2.4 2-2 2-3 1.2-3.1 0.8-4 -0.1-4 -1.9-6.9 -4-6.2 -3.1-2.9 -2.9-1.9 -4-1.5 -4-0.5z"/>
<path fill="#d9a997" d="M307.5 567.2l4.2-1.3 4-0.4 8 0.8 8 3 8 5.3 6.8 6.6 13.2 16 5.5 6 20.5 18.1 8.1 7.9 6.6 8 5.3 8.5 0 56.7 -4.4 12.8 -2.5 12 -0.9 10 -1.3 30 -2.6 18 -4.3 15.1 -2.9 6.9 -3.2 6 -3.9 5.4 -4 4 -4 2.7 -4 1.5 -4 0.2 -4-0.9 -4-2.1 -4-3.3 -4-4.4 -5.1-7.1 -3.5-6 -3.7-8 -2.1-6 -2.1-8 -1.9-14 0-16 2.8-32 -0.6-10 -1.7-8 -3.3-10 -6.6-14 -9-16 -17.2-27.2 -3.4-6.8 -2.7-8 -1.2-8 0.1-8 1.2-8 2.4-8 3.6-7.6 4-5.5 4-3.7zM76.3 625.2l7.4-1.5 4 0.1 4 0.7 8 3.1 10 6.2 22 17 16 14.2 8.6 10.2 3.6 6 2.7 6 2.8 10 1.6 14 0 12 -1.7 10 -3.6 9.1 -11.1 18.9 -8.9 18.5 -2.3 3.5 -1.7 1.6 -2 1.1 -4 0.1 -6-2.9 -22.7-19.9 -14.3-10 -11-6.1 -21-9.9 -7-4 0-86.3 6-7.2 6.9-6.5 7.1-5z"/>
<path fill="#cb7d63" d="M317.2 599.2l4.5 0.4 6 3.3 17.6 16.3 18.4 12.6 8 6.2 6 6.1 5 7.1 2.7 6 1.5 6 0.3 6 -0.8 6 -2 6 -3.3 6 -5.4 6.2 -4 2.9 -4 1.6 -4 0.2 -4-1.2 -6-4.1 -6-6 -6-7.4 -5.7-8.2 -4.8-8 -17.8-36 -3.8-10 -0.8-6 1.1-6 2.9-4 2.9-1.7zM89.8 651.2l7.9-1.4 8 0.5 8 2.2 10 4.7 10 6.6 8.6 7.4 6.6 8 4.5 8 2.7 8 1.4 10 -0.2 10 -1.9 10 -3.3 8 -4.4 6.7 -6 6.4 -4 3.1 -4 2.4 -6 1.9 -4 0.3 -4-0.3 -8-2.1 -12-5.4 -15.8-9 -11.2-8 -8-8 -4.9-8 -2.7-8 -0.7-4 -0.2-6 1-8 3.5-10 5-8.4 6.8-7.6 5-4 4.2-2.6z"/>
<path fill="#bd4e36" d="M95 665.2l6.7-1.5 6-0.1 6 0.9 8 2.7 6 3.3 6.3 4.7 5.7 6 4 6.2 2.4 5.8 1.7 8 0 8 -1.2 6 -2.2 6 -3.7 6 -5 5.1 -6 3.7 -6 2 -8 0.5 -8-1.4 -8-3 -8-4.3 -8-6 -6.1-6.6 -3.7-6 -2.1-6 -1-8 0.7-6 2.2-6.7 2.9-5.3 5.1-6 6-4.6z"/>
<path fill="#9d1c29" d="M98.8 677.2l4.9-1.4 4-0.5 4 0.2 6 1.4 4.9 2.3 5.1 3.6 4 4.2 2 3 2.3 5.2 0.9 4 0.2 6 -0.8 4 -1.5 4 -2.4 4 -2.7 2.9 -4 2.9 -4 1.8 -6 1.1 -4-0.1 -6-1.2 -6-2.4 -4.6-3 -4.5-4 -3.1-4 -2-4 -1.6-6 0.1-6 1.1-4 1.9-4 3-4 3.7-3.2z"/>
<path fill="#6f1029" d="M106.8 691.2l2.9-0.6 4.2 0.6 3.8 2.1 2.9 3.9 0.8 4 -0.2 2 -1.5 3.2 -3.4 2.8 -4.6 1 -4-0.7 -3.8-2.3 -2.2-2.8 -1.2-3.2 0.3-4 0.9-2 1.6-2z"/>
<path fill="#8fb6c6" d="M176.5 553.2l9.2-0.9 10 0.1 12 1.4 10 2.2 12 4.1 8 3.9 6 3.9 6 5.6 2.7 3.7 2.2 4 2.5 8 0.9 8 0.8 22 1 6 1.7 6 2.7 6 3.7 6 14.9 20 6.3 10 3 6 2.4 6 1.6 6 0.9 6 0.1 6 -0.6 6 -2.8 10 -3 6 -2.5 4 -4.5 5.6 -4 3.9 -6 4.7 -8 4.7 -22.2 9.1 -7.8 3.9 -6 4.6 -10 10.3 -6 4.9 -6 3.2 -4 1.3 -4 0.6 -4 0 -4-0.7 -6-2.6 -4-3.3 -1.7-2.2 -2.3-6 -0.2-4 1.4-6 8.4-16 1.5-4 0.9-6 -0.8-10 -4.9-26 -2.1-10 -2.5-8 -4.5-10 -5.2-7.7 -5.3-6.3 -15.2-16 -4.9-6 -4.1-6 -3.3-6 -3.3-8 -2.2-8 -0.9-6 0.1-10 1.9-8 4.1-8 5-6 7.5-6 8.6-4.7 8-2.9zM63.8 781.2l5.9-1.9 6 0.5 6 2.9 4 3.5 4.1 5 3.9 7.2 3.1 8.8 1.7 8 0.9 10 -0.2 8 -1.5 10 -2.5 8 -3.5 7 -4 5.3 -4 3.3 -6 2.5 -4 0.3 -4-0.8 -4-2 -4.3-3.6 -3.7-4.5 -3.2-5.5 -2.6-6 -2.2-7.5 0.1-36.5 2.7-8 3.2-6 4-4.9z"/>
<path fill="#4791bb" d="M178.3 565.2l9.4-1.2 10 0.1 10 1.4 10 2.9 8 3.5 6 3.8 5.9 5.5 3.9 6 2.2 6 1 6 0.2 6 -0.5 18 0.8 6 1.1 4 1.7 4 3.8 6 16.8 20 7.2 10 3.3 6 2.4 6 2.2 10 0.2 6 -0.9 6 -1.8 6 -3 6 -4.5 6 -4.1 4 -5.9 4.3 -6 3.3 -6 2.4 -8 2.4 -16 3 -6 0.5 -4-0.2 -4-1.2 -2-1.5 -2-2.4 -4-7.3 -5.4-13.3 -3-10 -6.3-28 -2.5-8 -2.8-6.5 -3.1-5.5 -4.9-6.5 -20.3-21.5 -4.3-6 -3.4-6.1 -3.6-9.9 -1.5-10 0.7-8 2.7-8 4.1-6 3.6-3.6 4-3.1 8-4.1zM70.9 811.2l0.8-0.7 2-0.7 2 0.5 2 1.8 2.2 5.1 0.4 4 -0.6 5.2 -2 3.9 -2 1.5 -2 0.1 -2-1 -2-2.5 -1.2-3.2 -0.6-4 0.3-4 1.2-4z"/>
<path fill="#0d67be" d="M180 577.2l7.7-1.6 6-0.4 8 0.7 6 1.3 6 2.3 6 3.6 4.4 4.1 2.7 4 2 6 0.3 6 -1 6 -4.1 12 -0.6 4 0.7 6 2.2 8 1.9 4 3.2 4 20.3 18.3 7 7.7 5.2 8 1.8 4.1 1.7 5.9 0.6 6 -0.3 4 -1 4 -1.6 4 -2.5 4 -2.9 3.3 -4 3.3 -4 2.3 -4 1.6 -6 1.5 -8 0 -4-0.9 -4-1.7 -4-3 -2.2-2.4 -4.6-8 -4.9-14 -3.1-12 -2.5-16 -1.3-4 -2.9-4 -4.5-4.8 -4.1-5.2 -8.7-16 -3.2-3.3 -10-8.2 -3.6-4.5 -2.4-4 -2.2-6 -0.9-6 0.6-6 1.3-4 2.4-4 3.7-4 5.1-3.4z"/>
<path fill="#2b3a8f" d="M202.4 635.2l1.3-0.8 2-0.4 2 0.5 2 1.6 1.4 3.1 0.1 2 -1.5 3.2 -2 1.1 -2 0 -2-0.8 -1.7-1.5 -1.1-2 -0.3-2 0.4-2zM219.4 661.2l2.3-1.6 2-0.3 2 0.4 2 1.2 2 2 2.5 4.3 1.3 6 -0.7 6 -2.2 4 -2.9 2.2 -2 0.5 -2-0.2 -2-1 -2-1.8 -2.1-3.7 -1.1-4 -0.2-6 0.9-4z"/>
<path fill="url(#hP)" d="M84.6 647.6l3.7-2 4.1-1.3 4.4-0.8 4.5-0.2 4.5 0.1 4.1 0.5 3.9 0.9 3.7 1.4 3.7 1.7 3.6 2.1 6.8 4.8 3.4 2.9 3.4 3.4 3.1 3.6 3 3.8 5.2 8 4 8 1.7 4.2 1.4 4.3 1.1 4.3 0.8 4.4 0.5 4.7 0.1 4.9 -0.2 4.9 -1.2 9.8 -1 4.6 -2.6 9 -3.7 8.6 -2.1 4 -5 7.1 -5.7 6.4 -3.1 2.7 -3.3 2.2 -3.4 1.6 -3.4 0.8 -3.6 0.2 -3.7-0.2 -3.7-0.6 -3.7-0.9 -3.6-1.1 -3.8-1.6 -3.8-2 -3.8-2.4 -3.7-2.6 -6.6-5.9 -2.9-3.1 -5.2-7 -4.4-7.6 -3.7-7.9 -1.6-4.1 -2.5-8.4 -0.9-4.4 -0.4-4.4 -0.1-5.2 0.4-5.5 0.8-5.5 1.1-5.6 1.5-5.5 1.7-5.2 4.1-10.9 2.5-5.5 2.8-5 3.2-4.3zM290.6 589.7l2.3-1.8 3.3-1.3 3.9-0.8 4.2-0.3 4.2 0.1 3.7 0.5 3.8 1.3 3.7 1.9 3.6 2.5 3.6 2.9 10.7 9.1 7.3 7.2 10.7 11.3 15 14.2 3.5 3.7 3.2 3.7 5.4 7.1 2.5 3.6 2.1 3.6 1.7 3.7 0.9 3.7 0.3 3.8 -0.2 4.1 -0.7 4.1 -1.1 3.9 -1.6 3.3 -2.1 2.5 -2.7 1.5 -3.3 0.8 -3.7 0.2 -4.1-0.1 -16.4-1.3 -4.3-0.7 -4.4-0.9 -4.1-1.3 -4-1.8 -4-2.6 -3.9-3.2 -3.8-3.6 -6.8-8.1 -3.1-4.2 -2.9-4.5 -5-9.8 -6.6-14.6 -8.1-14.5 -1.6-3.5 -1.1-3.7 -1.6-7.8 -0.4-4.1 0-3.8 0.6-3.4zM344.8 734.3l3-1.8 4.4-1.1 5.2-0.3 5.1 0.3 4.5 1.1 3 1.8 1.8 3 1.1 4.5 0.3 5.1 -0.3 5.2 -1.1 4.4 -1.8 3 -3 1.8 -4.5 1.1 -5.1 0.3 -5.2-0.3 -4.4-1.1 -3-1.8 -1.8-3 -1.1-4.4 -0.3-5.2 0.3-5.1 1.1-4.5zM373.7 770.4l2-1.2 2.8-0.8 3.3-0.2 3.3 0.2 2.8 0.8 2 1.2 1.4 2.5 0.8 3.8 0.3 4.5 -0.3 4.5 -0.8 3.8 -1.4 2.6 -2 1.2 -2.8 0.7 -3.3 0.2 -3.3-0.2 -2.8-0.7 -2-1.2 -1.4-2.6 -0.9-3.8 -0.3-4.5 0.3-4.5 0.9-3.8z"/>
<path fill="url(#hH)" d="M173 557.2l10.7-1.6 10-0.1 10 0.8 10 1.9 10 3.1 9 3.9 7 4.2 6.5 5.8 3 4 2.2 4 2.5 8 0.9 8 0.8 22 1 6 2 6 5.5 10 15.3 20 6.5 10 3 6 2.4 6 2.2 10 0.3 6 -0.4 6 -2.7 10 -2.9 6 -2.6 4 -7 8 -6.5 5.2 -8 4.7 -8 3.5 -17.9 6.6 -6.1 3.1 -6 4.7 -9.4 10.2 -4.6 3.9 -6 3.3 -6 1.4 -6-0.3 -6-2.4 -4-3.9 -2-4.7 -0.3-3.3 0.7-4 1.6-4.1 7.8-13.9 1.3-4 0.5-6 -0.9-8 -7-34 -4-14 -3.5-8 -5.1-8 -5.1-6.2 -16.8-17.8 -7.3-10 -3.3-6 -2.6-6 -2.4-8 -1-6 -0.3-8 1.4-8 3.3-8 4.4-6 6.6-6 6-3.8 8-3.5zM69 785.2l4.7-0.3 4 1.1 4 2.4 4 4.1 3.2 4.7 2.8 6 2.4 8 1.3 8 0.2 8 -0.4 6 -1.5 7.7 -2.2 6.3 -3.3 6 -3.3 4 -5.2 3.5 -4 0.9 -4-0.3 -4-1.7 -4-3.1 -4-5 -2.4-4.3 -2.3-6 -1.7-6 -1.2-8 -0.3-8 0.5-6 1.4-7.9 2-6.1 3.1-6 2.9-3.6 4-3.1z"/>
<use href="#coast" x="227.7" y="729.2"/>
<use href="#grid" x="227.7" y="729.2"/>
<path fill="none" stroke="#008000" stroke-width="4.0" stroke-linejoin="round" stroke-linecap="butt" d="M123.3 615.6l2.5-1.2 1.5-0.2 3 0 2.6 0.9 2.2 1.9 1.9 2.5 1.8 2.9 2.5 7.1 2 3.9 5.6 8.4 8.4 10.5 8.8 9.5 5.3 5 7.5 5.6 2.9 2.8 2.4 3.2 0.8 2.1 0 1 -1 1.6 -3.1 2 -2.9 1.1 -1.9 0.3 -4.4 0.3 -6.9-0.2 -4.9-0.6 -4.9-0.8 -4.9-1.2 -7.5-2.5 -6.9-3.3 -4.4-2.7 -4-3 -5.1-4.1 -3-2.7 -2.2-3 -1.3-3.3 -0.7-3.6 -0.1-3.6 0.4-2 0.6-2.1 2.6-6.3 0.6-2.2 0.3-2.3 0.4-10 0.3-2.3 1.1-5.4 1.2-3z"/>
<path fill="none" stroke="#008000" stroke-width="4.0" stroke-linejoin="round" stroke-linecap="butt" d="M131.7 661.6l0.4-1.4 1.9-3.2 2.6-2.8 1.3-1 1.3-0.6 2.8-0.7 2.9 0 1.4 0.3 1.4 0.6 2.9 1.9 9.9 9.3 5.5 6.7 1.2 2.4 0 1.1 -0.4 0.9 -1.9 1.6 -2.6 1.2 -3.2 0.7 -2 0.1 -4.5-0.5 -6.1-1.5 -5.5-2.6 -3.1-2 -3-2.5 -1.6-1.8 -1-1.8 -0.6-1.7 -0.2-1.8z"/>
<path fill="none" stroke="#008000" stroke-width="4.0" stroke-linejoin="round" stroke-linecap="butt" stroke-dasharray="12.5 5.5" d="M60.5 709.7l1.2-1 1.7-0.8 9.7-2.4 13.9-6.2 7-2.8 5.7-1.5 5.5-1.2 5.5-0.6 5.6-0.2 5.6 0.3 5.6 0.7 5.6 1.2 8.4 2.5 7.7 2.8 9.6 4 10.8 3.6 1.9 1 0.9 1.2 0 1 -0.4 1.1 -1.7 2.4 -3.1 3.3 -3.6 3.2 -4.3 3.1 -3.4 2 -7.4 3.6 -8.3 2.8 -7.6 1.6 -8.6 1.2 -11.2 0.6 -8.3-0.4 -7.5-0.8 -4.9-1 -4.5-1.6 -4.3-2.2 -6-3.8 -8.4-6.2 -6.5-2.4 -0.8-0.8 -1.1-2.2 -0.5-2.8 0.1-1.2z"/>
<path fill="none" stroke="#008000" stroke-width="4.0" stroke-linejoin="round" stroke-linecap="butt" stroke-dasharray="12.5 5.5" d="M106.6 712.8l0.6-2.2 1.6-2.2 1.9-1.8 1.4-0.9 3.5-1.3 3.8-0.7 3.5-0.4 3.6 0.2 3.5 0.6 3.2 0.9 2.9 1.2 2.7 1.6 3.5 2.8 2 2.1 0.6 1.1 0.3 1.1 0 1.1 -0.3 1.1 -1.1 2.3 -1.7 1.8 -1.3 0.7 -1.6 0.6 -3.7 0.5 -8 0.3 -6.4-0.7 -5.5-1.1 -3.3-0.9 -1.4-0.7 -2.1-1.6 -1.4-2.1 -0.8-2.3z"/>
<path fill="none" stroke="#008000" stroke-width="4.0" stroke-linejoin="round" stroke-linecap="butt" d="M150.5 752.6l0-0.7 1.2-1.9 3-2.7 2.1-0.8 2.4-0.5 1.7 0.3 0.7 0.8 0.4 1.2 0 1.1 -1.1 1.7 -2 1.5 -2.2 1 -1.1 0.2 -2.6-0.1 -2.1-0.7z"/>
<path fill="none" stroke="#008000" stroke-width="4.0" stroke-linejoin="round" stroke-linecap="butt" d="M317.9 837l5.5-12.6"/>
<path fill="none" stroke="#008000" stroke-width="4.0" stroke-linejoin="round" stroke-linecap="butt" d="M325.2 835.2l3.6-9"/>
<use href="#boxes" x="227.7" y="729.2"/>
</g>
<ellipse cx="227.7" cy="729.2" rx="171.0" ry="173.2" fill="none" stroke="#000" stroke-width="1.3"/>
<g clip-path="url(#cg)">
<circle cx="596.0" cy="729.2" r="173.2" fill="#d4dbde"/>
<path fill="#e9d9d4" d="M560.5 591.2l15.5 0.4 12 1.8 5.3 1.8 3.7 2 2.4 2 2.6 3.2 2 4.1 1.5 4.7 6.8 28 6.8 24 4.9 15.5 6 16.5 8 18.4 14 28.4 4 5.6 2 1.9 4 2 4 0.4 4-1 4-2 6-4.8 15.2-14.9 20.8-19.4 8-8.7 16-19.2 6-5.8 4-3.1 6-3.2 6-1.4 6 0.6 6 2.5 0 163.7 -4 2.4 -4 1.5 -4 0.9 -4 0.3 -8-1 -16-4.1 -4-0.1 -4 0.9 -4 2 -4 3.1 -14.1 14.1 -6.9 6 -7 5 -6 3.4 -10 4.3 -8 2.1 -10 1.1 -8-0.5 -6-1.5 -6-2.9 -4-3.3 -4-4.8 -4-6.6 -4-8.4 -10.9-27.9 -3.1-5.4 -4-4.1 -5-2.5 -7-1.2 -28-0.2 -12-1 -4-1 -4-1.6 -4-3.3 -2.4-3.7 -2.3-6 -6.1-28 -3.8-12 -2.7-6 -4.5-8 -10.6-16 -5.6-7.2 -6-6.6 -6-5.7 -8-6.1 -12-6.9 -24-10.3 -5.6-3.2 -5.1-4 -3.5-4 -3.4-6 -1.8-6 -0.2-8 1.7-8 1.8-4 2.5-4 5.6-5.6 6-3.4 4-1.3 6-1.1 26-1 14-2.2 8-2.4 8-3.4 20.4-11.6 8.8-4 10.8-2.8zM494.6 833.2l5.4-0.8 6 0.1 4 1.1 2 1.3 2 2.1 2.1 4.2 1.5 6 1 8 0.6 10 -0.2 8 -1 8 -2 5.8 -2 3.2 -4 3.7 -4 2 -4 1.1 -6 0.6 -8-0.7 -6-1.5 -6-2.4 -6-3.7 -4.7-4.1 -4.3-6 -1.7-4 -1.1-6 0.5-6 2.1-6 3.7-6 3.5-4 6-5 6-3.8 7.4-3.2z"/>
<path fill="#d9a997" d="M552.8 609.2l5.2-0.5 6 0.1 6 1 6 2 4 2.1 4 2.8 4 3.7 4 4.9 4 6.2 3 5.7 6.4 16 5 18 1.8 10 0.9 8 0.2 12 -1.3 9 -3.6 11 -7.1 14 -2.4 6 -1.4 8 -1 18 -1.2 6 -1.4 4 -3.9 6.7 -3 3.3 -3 2.5 -4 2.3 -4 1.6 -8 1.5 -8-0.5 -6-1.8 -5.7-3.6 -4.3-5.1 -2.6-4.9 -2-6 -4-24 -2.9-8 -5.2-8 -26.5-34 -11.7-16 -3.8-6 -3.1-6 -2-6 -0.6-4 0.8-6 2.9-6 5.2-6 7.4-6 15.4-10 18.7-10.2 12-5.1zM756.9 709.2l5.1-1.4 4 0.6 4 2.3 4 4.3 0 75.7 -2 2.5 -4 3.3 -2 1 -4 0.9 -4-0.6 -4-2.1 -4-3.7 -3.5-4.8 -3-6 -2.2-6 -1.9-8 -1-8 0-8 0.7-8 1.6-8 1.8-6 2.5-6 3.5-6 3.5-4.3zM646.7 807.2l3.3-0.8 4-0.3 4 0.5 4 1.3 4 2.4 2 1.7 2.7 3.2 2 4 1 4 0.2 4 -0.7 4 -1.5 4 -1.7 2.7 -3.1 3.3 -2.9 2.1 -4 1.8 -4 1 -4 0 -6-1.4 -2.9-1.5 -3.1-2.3 -3.1-3.7 -2.1-4 -1.1-4 -0.3-4 0.5-4 1.4-4 2.5-4 2.2-2.2 4-2.7z"/>
<path fill="#cb7d63" d="M543.9 627.2l10.1-1.5 10 0.7 8 2.6 8 4.9 4 3.6 3.2 3.7 5.2 8 5.1 12 2.9 12 0.9 10 -0.4 8 -1.7 8 -2.2 6 -3 5.5 -3.1 4.5 -14.9 16 -2.6 4 -0.6 2 0.4 4 6.1 12 2 6 0.8 6 -0.9 6 -1.7 4 -3.2 4 -4.3 2.9 -4 1.2 -6-0.2 -4-1.5 -4-3.1 -2.4-3.3 -2.3-6 -0.6-6 1-8 3.4-12 -0.2-4 -1-2 -3.6-4 -18.3-14.7 -6-6 -6-7.2 -5.6-8.1 -4.5-8 -3.1-8 -1.4-6 -0.3-8 1.1-6 3.4-8 4.2-6 6.2-6.3 8-5.9 8-4.3zM759.5 743.2l2.5-1.7 2 0.6 2.3 3.1 1.3 6 -0.1 4 -1.5 5.9 -2 2.5 -2 0.6 -2-0.9 -1.5-2.1 -0.9-2 -0.7-4 -0.1-4 0.7-4z"/>
<path fill="#bd4e36" d="M551.3 639.2l6.7 0 8 1.7 6 2.9 6 4.6 4.1 4.8 3.9 6.4 2.9 7.6 1.5 8 0.1 8 -0.9 6 -2 6 -3.6 6.5 -4 4.7 -6 4.9 -6 3.1 -8 1.9 -6 0 -8-2 -8-4.2 -6-4.8 -6-6.7 -4.6-7.4 -3.1-8 -1-6 0.2-8 1.6-6 2.9-6 4-5.2 5.2-4.8 6.8-4.2 6-2.4z"/>
<path fill="#9d1c29" d="M547.4 653.2l4.6-1 4-0.1 6 1.1 4 1.7 4 2.8 3.4 3.5 2.6 4 2 5.1 1 4.9 0.1 4 -1 6 -1.5 4 -2.6 4.2 -3.6 3.8 -4.4 2.8 -4 1.6 -4 0.7 -6-0.2 -4-1.1 -4-1.8 -4-2.8 -4-4.2 -3.1-5 -1.6-4 -1-6 0.1-4 0.9-4 1.6-4 2.7-4 4.1-4 4.3-2.7z"/>
<path fill="#6f1029" d="M552.9 675.2l1.1-0.8 2-0.1 1.3 0.9 0.8 2 -1 2 -1.1 0.7 -2-0.1 -0.8-0.6 -1-2z"/>
<path fill="#8fb6c6" d="M492.5 553.2l3.2-2 144.9 0 27.4 10.3 8 3.5 6 3.1 6 4 8.2 7.1 3.8 4.4 3.9 5.6 3.3 6 2.4 6 3 12 0.6 6 0 8 -0.6 6 -1.5 8 -2.5 8 -2.5 6 -5.7 10 -6.3 8 -6.3 6 -7.8 5.4 -8 3.5 -6 1.2 -8-0.3 -6-1.9 -4-2.2 -4-3.1 -4-4.2 -3.2-4.4 -5.4-10 -4.8-14 -2.8-14 -0.6-12 0.8-9.8 3.1-16.2 0.4-6 -1-4 -2.5-3.1 -2-1.3 -4.4-1.6 -11.6-1.3 -62 0.8 -12 0.8 -10 1.6 -24 6.6 -4 0.3 -4-0.4 -4.8-2.4 -3.2-3.9 -1.5-4.1 -0.5-6 1-6 1.8-4 4.7-6zM443.9 705.2l8.1-1.4 8 0 8 1.3 8 3 6 3.4 7.2 5.7 5.5 6 5.8 8 8.1 14 5.9 12 3.4 10 1.5 8 0 10 -1.9 8 -3.7 6 -5.8 5 -8 3.6 -6 1.4 -6 0.8 -14-0.1 -14-2 -10.1-2.7 -8.5-4 -7.4-6 -6-7.7 -3.5-6.3 -2.5-5.7 -4-13 0-30.6 3.4-8.7 2.4-4 3.2-4 3-2.8 4.4-3.2 3.9-2zM556.7 825.2l7.3-1.4 6 0.2 6 1.1 5 2.1 5 3.3 4 4.1 3.1 4.6 2.7 6 1.5 6 0.4 6 -0.5 6 -1.8 6 -3.2 6 -4.2 4.8 -4.1 3.2 -5.9 2.9 -6 1.4 -6 0.2 -6-1.2 -4-1.6 -5.4-3.7 -3.9-4 -2.7-4 -2.7-6 -1.6-6 -0.8-8 0.4-6 1.4-6 2.8-6 3.1-4 5.3-4z"/>
<path fill="#4791bb" d="M537.3 553.2l6.9-2 41.7 0 6.5 2 4.1 2 2.6 2 1.3 2 0.1 2 -1.2 2 -3.3 2.3 -4.3 1.7 -9.7 2.1 -8 0.8 -10 0.4 -10-0.3 -10-1 -9.7-2 -4.5-2 -2.1-2 -0.5-2 0.7-2 1.9-2 3-2zM660.9 597.2l5.1-0.5 6 1 6 2.9 4 3.3 4 5.3 2 4 1.9 6 0.9 8 -0.6 8 -1.5 6 -2.7 6.6 -4 6.3 -4.7 5.1 -5.3 3.8 -5.4 2.2 -4.6 0.7 -6-0.8 -4-1.8 -4-3 -2.8-3.1 -3.2-5.2 -2-4.8 -2-8 -0.5-6 0.3-6 1.2-6 2.1-6 2.9-5.4 4-5 4-3.5 4-2.4zM455.1 721.2l4.9-1.4 6-0.2 6 1.2 4 1.8 4 2.5 4 3.5 4 4.6 4 5.9 11.4 20.1 2.6 6 1.5 6 0.4 6 -1.4 6 -2.5 4.3 -4 3.5 -6 2.4 -6 0.5 -6-1.1 -6-2.6 -6-4.2 -5-4.8 -10.2-12 -6.8-9.2 -2.7-4.8 -2.4-6 -1-6 0.3-6 2-6 2.6-4 4.5-4zM563.8 845.2l4.2-0.7 2.8 0.7 3.2 2.2 2 3.2 0.8 4.6 -0.8 3.2 -1.8 2.8 -2.8 2 -3.4 0.8 -4-0.8 -2-1.3 -2.2-2.7 -1.3-4 0.3-4 2.2-4z"/>
<path fill="url(#hP)" d="M492.7 629.5l3.6-3.2 4.8-2.7 5.7-2.2 6.2-1.9 12.2-2.7 5.9-0.9 6-0.6 6.2-0.3 6.1 0.2 6.1 0.6 5.8 1 5.9 1.6 5.9 2.1 5.8 2.5 5.5 3 5.1 3.3 4.3 3.8 3.5 4 3 4.5 2.5 4.9 2.2 5.1 3.3 10.4 1.1 5.2 0.7 5.5 0.4 5.5 -0.1 11 -0.7 10.3 -1.4 10 -1 4.9 -2.6 9 -2.9 7.6 -1.6 3.7 -1.8 3.4 -2.1 2.9 -2.5 2.3 -2.5 1.5 -3 1.2 -3.1 0.9 -3.2 0.4 -3.2 0 -3-0.4 -3.1-1.1 -3-1.8 -12-9.7 -18.1-11.9 -11-8.2 -7.4-5.9 -6.8-6.6 -6.8-7.8 -6.3-8.6 -2.7-4.4 -2.3-4.4 -3.5-8.4 -2.5-8.6 -0.8-4.2 -0.4-4.1 -0.3-7.7 0.2-3.9 0.7-3.7 1.1-3.4zM550.5 752.3l3.7-1.8 5.6-1.1 6.7-0.4 6.7 0.3 5.8 1.1 4 1.9 1.8 2.2 1.2 2.8 0.8 3.2 0.3 3.5 -0.1 3.3 -0.4 3.1 -0.8 3 -1.4 3.2 -1.7 3.2 -2.1 2.8 -2.3 2.4 -2.5 1.6 -3.2 1.1 -3.9 0.5 -4.1-0.1 -4.1-0.6 -3.6-1.1 -2.8-1.6 -1.8-2.1 -1.4-2.8 -0.9-3.2 -0.6-3.4 -1-9.1 -0.2-5.5 0.3-2.5 0.7-2.2z"/>
<path fill="url(#hH)" d="M532.4 553.2l5.7-2 53.8 0 5.4 2 3.7 2 2.4 2 1.2 2 0.2 2 -0.9 2 -1.9 1.6 -4 2.1 -6 1.9 -6 1.2 -10 1.2 -10 0.4 -12-0.2 -10-0.8 -9.5-1.4 -6.5-1.9 -3.7-2.1 -1.4-2 -0.2-2 0.9-2 1.8-2 2.9-2zM658 595.2l6-1.2 6 0.3 6 2.1 6 4.1 4.2 4.7 3.4 6 2.1 6 1.1 8 -0.3 8 -1.7 8 -2.8 7.1 -4 6.6 -4 4.7 -6 4.8 -6 2.8 -6 1 -6-0.8 -4-1.6 -4-2.9 -3.5-3.7 -3.7-6 -2.5-6 -1.5-6 -0.8-6 0-6 0.8-6 1.6-6 2.6-6 3-4.9 4-4.7 4-3.3zM455 719.2l5-1.2 6 0 5.8 1.2 4.2 1.7 6 4 4 3.8 4 5 4 6.2 8 13.9 3.7 7.4 2.2 6 1.2 6 -0.1 6 -1.8 6 -3.2 4.6 -4 3 -6 2.2 -6 0.5 -8-1.6 -6-2.7 -5.6-4 -6.2-6 -10.4-12 -5.9-8 -3.9-7.5 -1.9-6.5 -0.5-6 0.8-6 2.4-6 3-4 4.2-3.5zM561.2 843.2l4.8-1.7 4 0.3 4 1.8 2 1.7 2 2.8 1.6 5.1 -0.2 4 -1.4 4 -2 2.5 -2 1.7 -4 1.6 -4 0 -4.5-1.8 -3.9-4 -1.6-4 -0.2-6 2.2-5z"/>
<use href="#coast" x="596.0" y="729.2"/>
<use href="#grid" x="596.0" y="729.2"/>
<path fill="none" stroke="#008000" stroke-width="4.0" stroke-linejoin="round" stroke-linecap="butt" d="M511 626.9l0-3.7 0.2-1.9 1.1-3.4 1-1.3 1.5-1 1.9-0.7 4.6-0.6 4.5 0.1 2.4 0.2 4.7 1.3 4.6 1.9 2 1.1 3.3 2.8 5.9 6.3 8 6.6 1.1 1.4 0.6 1.3 1.1 5.6 0.6 1.1 0.9 0.8 5.9 2.6 4.5 4.2 2.4 1.5 1.1 0.2 4.6-0.5 1.1 0.3 1.3 1.1 2.5 3.3 5.5 10.7 1 3 0 1.3 -0.4 1.1 -1.5 1.9 -1.9 1.4 -0.8 0.2 -0.8-0.2 -0.7-0.6 -1.6-1.7 -2.3-3.4 -3.7-7.8 -2-3.5 -1.6-2.2 -4.7-4.8 -4.6-3.6 -2.2-1.2 -2-0.7 -2.4 0.4 -5.6 3.1 -3.3 2.4 -2.4 1 -2.9-0.1 -4.7-1.6 -3.4-1.5 -3.9-2.2 -12.9-8.8 -1.6-1.4 -2.5-3.1 -1.9-3.4 -1.3-3.5z"/>
<path fill="none" stroke="#008000" stroke-width="4.0" stroke-linejoin="round" stroke-linecap="butt" stroke-dasharray="12.5 5.5" d="M473.4 672.5l0.3-3 0.5-2 1.6-3.8 1-1.4 2.8-2.2 3.6-1.5 3.9-0.9 2.1-0.2 4.6 0 4.7 0.7 4.6 1.6 2.3 1.1 4.6 2.9 6.8 4.6 11.3 8.7 11.7 7.7 7.3 5.2 2.4 2.2 0.3 0.9 -0.5 0.6 -2.4 0.9 -3.4 0.6 -4 0.2 -13.7-1.2 -15.9 0 -7-0.6 -4.5-0.9 -2.2-0.8 -2.4-1.2 -4.8-3.5 -12.5-10.4 -2-2 -1.1-1.8z"/>
<path fill="none" stroke="#008000" stroke-width="4.0" stroke-linejoin="round" stroke-linecap="butt" d="M481.4 718.2l0.3-1 1-1 1.4-1.1 3.5-1.9 3.8-1.4 4.5-0.9 7.1-0.7 7.4-1.2 4.5-0.2 1.8 0.2 2.1 0.9 1.7 1.2 0.8 1.4 -0.3 0.8 -2 2.1 -3.1 1.9 -3.4 1.7 -4.6 1.3 -11.5 2.1 -4.4 0.6 -3.8-0.3 -3-1.1 -1.4-0.8 -2.1-1.8z"/>
<path fill="none" stroke="#008000" stroke-width="4.0" stroke-linejoin="round" stroke-linecap="butt" stroke-dasharray="12.5 5.5" d="M629.7 677.1l0.1-0.5 4.7-4.9 0.9-1.4 0.4-1.7 0.2-1.9 0.2-6 1.5-6 1.6-4.1 0.8-1.4 1-0.6 0.8 0.2 1 0.6 2.1 2.3 1.3 2.6 0.3 1.4 0 1.6 -0.6 3.3 -1.7 4.9 -2.5 4.9 -2.3 2.6 -3.6 2.2 -2.1 0.9 -3.4 1.1z"/>
<path fill="none" stroke="#008000" stroke-width="4.0" stroke-linejoin="round" stroke-linecap="butt" d="M501.9 585.8l0.9-1.4 1.4-0.8 1.5 0.8 1 1.4 -1 1.7 -1.5 1.1 -1-0.5 -1.2-1.8z"/>
<path fill="none" stroke="#008000" stroke-width="4.0" stroke-linejoin="round" stroke-linecap="butt" d="M723.9 761.1l1.2-2.2 2-2.2 1.2-0.7 1-0.3 1 0.3 2.3 1.6 2.8 3.5 1.4 3.9 0 2.5 -0.3 0.9 -0.6 0.6 -2.1 0.9 -2.4 0.4 -1.9-0.4 -1.7-1.1 -2.1-2.2 -1.5-2.7 -0.4-1.9z"/>
<path fill="none" stroke="#008000" stroke-width="4.0" stroke-linejoin="round" stroke-linecap="butt" d="M760 770.2l-1.1-7.2 0-1.6 0.4-1.3 1.3-1.7 3.7-2.7"/>
<use href="#boxes" x="596.0" y="729.2"/>
</g>
<ellipse cx="596.0" cy="729.2" rx="171.0" ry="173.2" fill="none" stroke="#000" stroke-width="1.3"/>
<g clip-path="url(#ch)">
<circle cx="964.3" cy="729.2" r="173.2" fill="#d4dbde"/>
<path fill="#e9d9d4" d="M934.8 593.2l17.5-1 18 1.4 18 3.7 8 2.6 7.7 3.3 6.1 4 3.8 4 9.2 16 5.2 6.6 6 5.2 9 6.2 3 2.8 2.2 3.2 1.5 6 -0.1 4 -1 6 -3.1 10 -10.7 30 -2.8 10 -1.7 8 -0.9 8 0 6 0.6 5 1.4 5 2.6 5.6 3.1 4.4 3.8 4 5.1 4.2 12 7.1 23.1 10.7 6.5 4 4.4 3.7 3.8 4.3 2.4 4 2.2 6 1.1 6 -0.2 8 -1.6 8 -3.2 8 -3.4 6 -5.1 6.6 -6 5.8 -6 4.6 -8 4.6 -6 2.7 -8 2.5 -8 1.5 -8 0.5 -8-0.6 -6-1.3 -6-2.1 -6-3.2 -6-4.5 -4-3.8 -16.9-19.3 -10.8-10 -11.2-8 -29.1-17.4 -10-7.9 -6-6.7 -4-5.8 -12-22.2 -5.5-12 -3.7-10 -2.8-10.8 -6.6-31.2 -11.5-36 -1.2-6 -0.7-6 0.8-10 2.4-8 4.6-8 5.2-6 7.5-6 10.4-6 11.1-4.8 10-2.9zM804.6 805.2l3.7-0.5 4 0.9 4 2.3 3.7 3.3 4.3 5.2 3 4.8 2.7 6 1.1 4 0.5 4 -0.5 6 -1 4 -1.8 4 -2.7 4 -3.3 3.2 -2 1.3 -4 1.4 -4 0.1 -4-1.1 -4-2.5 -2-1.7 -4.8-6.7 -1.9-4 -1.8-6 -1-10 0.7-6 1-4 1.8-4.2 2.6-3.8 3.4-2.9z"/>
<path fill="#d9a997" d="M935.2 603.2l15.1-1.3 8 0.3 8 0.8 8 1.5 8 2.2 8 2.9 6 2.9 6.9 4.7 5.9 6 17.5 24 4.3 8 1.6 6 0.3 6 -0.5 6 -1.4 8 -5.8 20 -12.9 36 -2.5 10 -0.5 6 0.5 8 5.6 22 0.7 6 -0.4 4 -1.7 4 -1.8 2 -3.8 2.3 -6 1.6 -8 0.3 -8-0.8 -10-2 -10-3 -10-3.9 -8-4.1 -8-5.1 -6-5 -4.4-4.3 -5-6 -4.6-6.4 -14-23.3 -4-8 -4-9.7 -6-19.2 -7-25.4 -2.3-10 -1.1-8 -0.1-6 0.5-6 1.4-6 3.3-8 3.8-6 5.3-6 6.2-5.1 8-4.9 8-3.5 8-2.6z"/>
<path fill="#cb7d63" d="M941.9 611.2l12.4-0.5 14 1.7 12 3.5 6 2.6 6 3.3 4.8 3.4 5.2 4.8 8.7 11.2 3.7 6 2.9 6 1.4 4 1.3 6 0.4 10 -1.7 12 -3.3 12 -5.7 14 -6.5 12 -15.3 24 -7.9 16 -2 3.2 -4 3.8 -2 1 -4 1.1 -4 0.1 -6-1.2 -6-2.4 -6-3.7 -6-4.7 -6-5.8 -8-8.6 -8-9.5 -9.2-13.3 -6.8-13.7 -6.2-18.3 -4.2-18 -1-12 0.4-6 1-5.6 1.3-4.4 2.6-6 5.4-8 6.7-6.6 4.7-3.4 5.3-3 6-2.7 6-2z"/>
<path fill="#bd4e36" d="M946.4 619.2l11.9 0.1 10.3 1.9 10.9 4 9.9 6 4.7 4 3.8 4 5.6 8 4.5 10 2.1 10 0.2 6 -0.4 6 -2.5 12 -4.8 12 -6.3 10.6 -8 9.7 -10 8.9 -10 6.2 -4 1.7 -6 1.4 -4 0.1 -4-0.5 -4-1 -6-2.6 -10-6.5 -6-5.2 -4-4.2 -4-4.9 -4-6 -5.9-11.7 -4.1-12.3 -2.6-13.7 -0.3-10 1.6-10 3.3-8.3 2.1-3.7 3.9-5.1 7.6-6.9 8.4-4.9 10-3.5z"/>
<path fill="#9d1c29" d="M938.4 629.2l9.9-1.7 10 0.3 10 2.3 8 3.4 8 5.4 6.2 6.3 5.2 8 1.8 4 1.9 6 1.1 10 -1 10 -3 10 -4 8 -6.2 8.4 -8 7.3 -8 4.9 -8 2.9 -8 1.1 -8-0.9 -8-2.9 -8-5 -6.3-5.8 -6.2-8 -5.2-10 -3.2-10 -1.6-10 0.1-8 1.5-8 3.2-8 3.9-6 6.1-6 7.7-4.9z"/>
<path fill="#6f1029" d="M944 637.2l6.3-0.8 8 0.5 8 2.1 6 2.9 6 4.4 4.5 4.9 3.8 6 2.9 8 1 8 -0.8 8 -2.4 8 -3.1 6 -4.5 6 -5.4 4.9 -6 3.7 -8 2.8 -8 0.7 -6-0.9 -6-2.1 -6-3.5 -6-5.4 -4-5.1 -3.8-7.1 -2.7-8 -1.1-8 0.2-6 1.7-8 2.7-6 4.5-6 4.6-4 5.9-3.5z"/>
<path fill="#3c0d16" d="M948.2 647.2l4.1-0.3 6 0.7 4.9 1.6 5.1 2.9 3.5 3.1 3.2 4 2.1 4 1.7 6 0.4 4 -0.6 6 -1.9 6 -2.3 4 -4.1 4.7 -4 3.1 -4 2 -4 1.2 -6 0.5 -4-0.6 -6-2.2 -4-2.5 -4-3.9 -3-4.3 -2-4 -1.7-6 -0.4-6 0.4-4 1.9-6 2.3-4 2.5-3 4-3.2 4-2.1z"/>
<path fill="#8fb6c6" d="M786.3 551.2l352.2 0 2.5 4 1.2 4 0.1 2.3 -1.6 5.7 -4.4 5.8 -5.1 4.2 -6.4 4 -8.2 4 -16.3 6 -16 4 -23.9 4 -6.1 2 -3.1 2 -1.7 2 -0.7 2 -0.9 8 -1.3 4 -1.5 2 -2.8 1.7 -2 0.2 -2-0.6 -2-1.3 -1.3-2 -1.2-4 1-10 -0.9-4 -3.4-4 -6.4-4 -11.8-4.4 -18-4.3 -18-3 -18-1.5 -14-0.1 -12 0.8 -12 1.9 -8 2.2 -6 2.4 -18 8.7 -18 6.5 -6.2 2.8 -5.7 4 -5 6 -1.9 4 -1.5 6 0 6 1 6 1.9 6 2.6 6 14.8 27.3 5.9 14.7 2.1 8 1.7 10 1.7 28 1.3 8 2.5 8 8.4 18 3.2 8 7.9 28 3.3 5.6 4 3.7 20 11.6 9.6 7.1 4 4 3 4 2.3 4 1.6 4 1.2 6 0 4 -1.2 6 -1.7 4 -2.8 4.2 -3.8 3.8 -4.2 3.1 -4 2.1 -6 2.3 -8 1.7 -6 0.5 -8-0.3 -8-1.3 -8-2.5 -6-2.8 -6-4 -6-6 -4.1-6.8 -2.6-8 -2.9-16 -1.4-4 -2.2-4 -5.1-6 -11.7-11.7 -7.2-8.3 -5.6-8 -9.2-14.9 -4-5.2 -4-3.8 -6-3.8 -6-2.3 -16-4.7 0-134.9 3.2-8.4 0.9-4 0.2-4 -1-6 -3.3-7.1zM1077.7 677.2l6.6-0.6 6 1.3 6 2.9 6 5 4.3 5.4 4 8 2.1 8 0.4 8 -1.3 8 -2.3 6 -3.7 6 -5.5 5.6 -6 4 -6 2.6 -6 1.4 -8 0.4 -6-0.8 -6-1.9 -4-2.2 -4-3.3 -3-3.8 -2-4 -1.6-6 -0.2-6 0.8-7 2-7.3 4-9 4-6.3 4-4.9 6-5.2 4-2.4z"/>
<path fill="#4791bb" d="M873.4 565.2l4.9-1 4 0 4.3 1 3.7 2.4 1.9 3.6 0.2 2 -1 4 -2.8 4 -2.6 2 -3.7 1.8 -6 1.1 -6-1 -3.5-1.9 -1.9-2 -1.7-4 0-2 1.1-3.1 2-2.8 2-1.6zM821.7 657.2l6.6-1.1 4 0.2 4 0.8 8 3.3 6 4 6 5.4 6 7.3 4.8 8.1 3.3 8 2.4 10 0.6 12 -1.1 10 -3.7 18 0 6 1.1 4 1.9 4 7.9 12 3.2 6 2.6 8 0.7 6 -0.3 4 -0.8 4 -2.6 5.6 -4 4.4 -6 3.1 -6 0.8 -4-0.4 -4-1.2 -6-3.2 -6-5.2 -4.4-5.9 -2.9-6 -2.5-8 -2.9-14 -2.7-6 -2.6-3.3 -3-2.7 -14.1-10 -6.9-6.1 -6.1-7.9 -2.1-4 -2.4-6 -2.2-10 -0.3-10 1.6-10 2.6-8 4.9-9.2 6-7.3 4-3.6 4-2.7z"/>
<path fill="#0d67be" d="M825.3 673.2l5-1.5 6-0.3 6 1.1 6 2.6 6 4.5 4 4.5 3.3 5.1 2.6 6 1.6 6 0.6 8 -0.6 6 -1.5 6 -2.8 6 -3.2 4.8 -4 4 -6 3.5 -6 1 -6-0.7 -6-1.9 -6-3 -5.1-3.7 -4.9-5 -3.5-5 -2.6-6 -1.5-6 -0.5-6 0.6-6 1.7-6 2.9-6 2.9-4 6-5.3zM854.8 775.2l3.5-1.6 4 0.4 4 2.4 2 2.2 2.3 4.6 0.4 4 -1.4 4 -1.7 2 -3.6 1.7 -4-0.3 -3-1.4 -3-2.8 -1.8-3.2 -0.8-4 0.6-4.2z"/>
<path fill="#2b3a8f" d="M832.9 683.2l3.4-0.6 4 0.2 4 1.1 4 2.1 3.8 3.2 2.2 2.8 1.9 3.2 1.5 4 0.8 4 0.1 4 -0.5 4 -1.8 5 -2 3.2 -3.9 3.8 -2.1 1.3 -4 1.5 -4 0.5 -4-0.5 -4-1.2 -4-2.3 -3.8-3.3 -2.2-2.7 -1.9-3.3 -1.4-4 -0.7-4 0-4 0.8-4 1.6-4 2.7-4 2.9-2.7 4-2.4z"/>
<path fill="#1c1f47" d="M835.1 699.2l3.2-1.9 2 0 3.7 1.9 1.3 2 0.7 2 0 2 -1.7 3.7 -2 1.3 -2 0.4 -2-0.2 -2.3-1.2 -1.7-2 -0.7-2 0.2-4z"/>
<path fill="url(#hH)" d="M872.5 553.2l7.3-2 136.4 0 4.1 2 2.8 2 1.5 2 0.2 2 -1.4 2 -3.9 2 -5.2 1.1 -6 0.6 -12 0 -32-2 -16-0.4 -18 0.5 -14 1.5 -6 1.7 -4 2.1 -4 3.8 -7.5 9.1 -6.5 4.9 -4 1.9 -4 1.2 -8 0.6 -4-0.5 -4-1.3 -4-2.2 -3.1-2.6 -1.6-2 -2.1-4 -0.8-6 0.9-4 1-2 3.7-4.5 6-4.1zM819.2 651.2l7.1-1.2 6 0.5 8 3 8 5.3 8 7.5 6 7.5 5.6 9.4 3.4 8 2.7 10 1.2 12 -0.4 10 -2.3 18 0.5 8 2 6 8 14 2.9 6 2.6 8 0.8 6 -0.5 8 -2.5 7.5 -4 5.4 -2 1.7 -4 2.2 -4 1.1 -4 0.3 -4-0.4 -4-1.1 -8-4 -6-4.9 -4.9-5.8 -4.6-8 -2.5-6 -4.4-14 -3.6-7 -2.5-3 -3.5-3.2 -15.1-10.8 -6.5-6 -5.8-8 -3.6-8 -1.8-6 -1-6 -0.2-14.2 1.7-9.8 2.6-8 5.1-10 6.6-8.7 8-6.9 4-2.4z"/>
<path fill="url(#hP)" d="M933.7 607.2l6.6-1.1 8-0.6 8 0.1 8 0.8 8 1.4 8 2.2 12.3 5.2 8.9 6 6.8 7.1 13.3 18.9 3.2 6 1.4 4 1.2 6 0.2 8 -1.3 10 -2.4 10 -7 20 -12.5 28 -3 8 -2 10 -0.5 18 -1.4 6 -1.2 2.4 -2 2.4 -2 1.6 -4 1.9 -6 1.1 -6 0 -6-0.8 -8-2.1 -6.5-2.5 -7.5-3.9 -6-4.1 -6-5.1 -6-6.5 -6-7.6 -8-11.5 -8-12.7 -4-7.4 -4-9 -6-17.7 -6.1-22.5 -2.4-14 -0.2-6 0.4-6 1.1-6 2.1-6 3.1-6 4-5.6 4.2-4.4 5.8-4.7 6-3.7 6-2.9 8-2.9z"/>
<use href="#coast" x="964.3" y="729.2"/>
<use href="#grid" x="964.3" y="729.2"/>
<path fill="none" stroke="#008000" stroke-width="4.0" stroke-linejoin="round" stroke-linecap="butt" d="M896 613.2l1.3-1.6 2.1-1.2 2.3-0.6 1.4 0.2 3 1.4 12.1 7.7 4 2.1 6.7 2 23 4.8 16 4.6 11 2.6 2.6 0.8 2.3 1.2 2.1 1.3 3.8 3.2 3.1 3.8 1.3 1.9 1 2.1 1.4 4.5 0.8 4.7 0.4 5 -0.4 8.2 -0.9 5.2 -0.7 2.4 -2.9 6.9 -4.2 8.5 -2.2 3.9 -1.2 1.8 -2.7 3 -4.7 3.7 -4.3 2.2 -3.6 1 -2-0.3 -1-0.7 -1.6-2.5 -2.8-6.8 -5.9-17.6 -4.7-12.3 -5.8-12.5 -3.3-5.8 -1.8-2.5 -3.7-4.7 -11.6-12.9 -3.8-3.7 -3.5-2 -3-0.9 -4.6-0.7 -1.5 0 -4.9 0.4 -1.4 0 -1.3-0.4 -1.9-1.4 -2.2-3.2 -1.3-3 -0.5-3z"/>
<path fill="none" stroke="#008000" stroke-width="4.0" stroke-linejoin="round" stroke-linecap="butt" d="M954.2 654.3l1.4-2.4 1.2-1 2.7-1.7 3.5-1.1 4.8 0 4.8 0.8 2.1 0.8 1.8 1.1 3.4 2.8 2.8 3.5 1.9 3.5 1 3.8 0.5 3.9 -0.1 3.9 -1.1 5.8 -2.2 7.1 -1.5 3.2 -0.9 1.4 -1 1.1 -1.3 0.8 -3.2 1.3 -3.2 0.4 -1.5-0.2 -1.3-0.6 -1.3-0.9 -2.3-2.5 -1.9-2.9 -1.5-3.5 -1.9-7.9 -3.5-11.4 -2.2-6.4 -0.2-1.4z"/>
<path fill="none" stroke="#008000" stroke-width="4.0" stroke-linejoin="round" stroke-linecap="butt" d="M966.7 674.8l0.3-1.1 1.9-2.5 2.4-1.8 1.1-0.3 1.1 0.3 2.5 1.8 1.8 2.5 0.3 1.1 -0.3 1.2 -1.8 2.6 -2.5 2.1 -1.1 0.3 -1.1-0.3 -1.2-0.9 -2.3-2.5 -0.8-1.3z"/>
<path fill="none" stroke="#008000" stroke-width="4.0" stroke-linejoin="round" stroke-linecap="butt" stroke-dasharray="12.5 5.5" d="M869.8 656.6l0.6-1.8 1-1.9 2.9-3.6 1.7-1.4 1.7-0.9 1.9-0.4 1.9-0.1 2.2 0.3 9.2 2.6 5.4 2.1 8 3.9 7 4.3 6.6 4.9 7.9 6.6 5.2 5.4 3.2 3.9 9 11.9 0.7 1.5 0.3 1.4 -0.3 1.5 -0.7 1.5 -2.1 2.9 -2.6 2.1 -1.3 0.7 -3.1 0.8 -1.6 0.1 -3.2-0.4 -1.9-0.9 -1.9-1.3 -5.7-5.3 -7.4-6.4 -5.9-4.4 -4.4-2.5 -9.3-4.3 -11.6-4.6 -5.6-3.5 -3.2-2.7 -2.4-2.9 -1.4-2.9 -0.6-1.6 -0.4-3.1z"/>
<path fill="none" stroke="#008000" stroke-width="4.0" stroke-linejoin="round" stroke-linecap="butt" stroke-dasharray="12.5 5.5" d="M892.6 658.8l1.2-0.3 2 0.2 5.2 1.6 5.3 2 7 3.5 4.5 2.9 4.2 3.1 5.8 5.1 6.9 7.1 3.2 3.5 1 1.7 0.4 1.6 -0.4 2.3 -1.3 2.2 -1.7 1.2 -1.2 0 -1.4-0.5 -3.3-1.8 -5.1-3.7 -11.4-10.4 -9.5-7.6 -7.6-5.3 -1.6-1.3 -1.1-1.3 -1-2.2 -0.5-2.1 0.1-0.9z"/>
<path fill="none" stroke="#008000" stroke-width="4.0" stroke-linejoin="round" stroke-linecap="butt" d="M853.8 697.6l0.8-3.3 1.5-3.2 2.2-2.6 3.3-1.9 4-1.1 4.2-0.4 4.5 0.4 4.7 1.3 4.4 1.7 4 2 12.4 8.1 2.9 2.3 1.3 1.3 2.1 2.9 1.6 3.2 0.8 3 0 1.2 -0.5 2.5 -1.1 2.2 -1.5 1.8 -2.2 1.4 -1.2 0.6 -2.6 0.6 -1.7-0.1 -3.8-1 -7.8-3.1 -5.6-2.6 -3.9-1.2 -2.3-0.2 -7.2 0.7 -2.2 0 -2-0.5 -2.8-1.7 -1.2-1.2 -2-2.6 -2.2-4.2 -0.8-3.2 -0.2-1.5z"/>
<path fill="none" stroke="#008000" stroke-width="4.5" stroke-linejoin="round" stroke-linecap="butt" d="M1018 741.4l0.2-0.4 1.1-1.2 2.2-1.1 2.3 0.6 1.3 0.8 0.2 0.4 -0.1 0.5 -1.3 1.1 -2.4 1.2 -1.4-0.3 -1.9-1.2z"/>
<path fill="none" stroke="#008000" stroke-width="4.0" stroke-linejoin="round" stroke-linecap="butt" d="M1032.2 735.3l0.9-1.1 1.4-0.5 1.2 0.9 0.6 1.4 -0.9 0.9 -1.4 0.4 -0.8-0.4 -1-1.3z"/>
<path fill="none" stroke="#008000" stroke-width="4.0" stroke-linejoin="round" stroke-linecap="butt" d="M1019.2 666.8l4.5-4.5"/>
<use href="#boxes" x="964.3" y="729.2"/>
</g>
<ellipse cx="964.3" cy="729.2" rx="171.0" ry="173.2" fill="none" stroke="#000" stroke-width="1.3"/>
<g clip-path="url(#ci)">
<circle cx="1332.6" cy="729.2" r="173.2" fill="#d4dbde"/>
<path fill="#e9d9d4" d="M1264.7 571.2l5.9-1.2 6-0.6 8 0.2 6 0.8 6 1.4 6 2.1 12 6.4 8 5.5 16 12.4 12 10.1 7.4 6.9 5.6 6 6.5 8 7.1 10 6.3 10 7.8 14 4.9 10 4 10 3.6 12 2 10 1.3 10 3 40 1.1 6 1.4 4.3 2.1 3.7 4.2 4 19.7 10.1 4 2.8 3.4 3.1 3.2 4 3.4 6 4.3 12 2.3 10 1.2 10 0.1 8 -1.1 8 -1.8 6 -3.3 6 -3.7 4.3 -6 4.7 -4 2.1 -6 2.2 -10 1.4 -6-0.3 -6-1.2 -6-2.2 -4-1.9 -4.8-3.1 -4.8-4 -6.9-8 -5.9-10 -9.6-21.2 -3.3-4.8 -2.7-2.6 -6-3.4 -6-1.9 -34-6.4 -8-2.2 -8-2.9 -6-3 -6-4.3 -4-4.3 -3.4-5 -5.6-12 -4.5-14 -2-10 -3.9-30 -2.7-12 -3.1-10 -4.8-11.8 -5.2-10.2 -20.4-32 -3.1-8 -1-6 0.1-8 1.9-10 2.8-8 4.9-8.9 6-7 6-4.9 8-4.4zM1181.6 793.2l5-1.2 6 0.8 6 2.8 5 3.6 6.4 6 4.9 6 3.5 6 2.4 8 0.4 8 -1.3 10 -3.3 14.1 -4 12.4 -3.7 7.5 -3.2 4 -5.1 3.8 -4 1.2 -4 0.1 -6-1.8 -6-4.1 -4-4.3 -4-5.9 -3.4-7 -2.7-8 -1.8-8 -1-8 -0.1-10 1-8 1.9-8 2.3-6 3.8-6.5 4-4.4z"/>
<path fill="#d9a997" d="M1278.7 581.2l7.9-0.1 8 0.9 8 1.9 6 2.2 8 3.8 8 4.8 16 11.4 14 12.4 12 13.7 6.5 9 6.4 10 9.6 18 6.3 16 2.3 8 2 10 1.1 10 0.5 10 -0.2 10 -0.9 10 -1.4 8 -1.7 6 -2.3 6 -3.2 6 -4.8 6 -4.2 3.8 -4 2.8 -6 3.2 -8 3.1 -6 1.6 -14 2.1 -8 0.3 -8-0.4 -8-1.1 -6-1.5 -6-2 -6-2.8 -8-5.8 -6.4-7.3 -3.6-5.9 -3.1-6.1 -4-10 -2.4-8 -6.7-32 -5.3-18 -3.2-8 -4.8-10 -17-30 -2.8-8 -0.8-6 0.5-8 2.7-10 4-8 4.9-6.7 6-5.6 8-4.9 8-3zM1420.4 799.2l4.2-0.5 4 0.5 4 1.3 4 2.4 4 4 2 3.1 2 4.4 1.3 4.8 0.5 6 -0.4 4 -0.9 4 -1.6 4 -2.7 4 -2.2 2.3 -4 2.7 -4 1.4 -4 0.5 -4-0.5 -4-1.4 -4-2.5 -2.7-2.5 -3-4 -2-4 -1.3-4 -0.7-4 0-6 1.2-6 1.6-4 2.8-4 2.1-2.1 4-2.6zM1192.3 807.2l2.3 0.2 4 1.7 4.7 4.1 3.8 6 1.3 4 0.6 4 -0.7 8 -1.7 5.8 -2 4 -4 4.9 -2 1.4 -4 1.1 -4-0.9 -2-1.2 -4-4.6 -2-3.8 -1.6-4.7 -1.2-8 0.6-8 1-4 1.8-4 3.4-4 2-1.2z"/>
<path fill="#cb7d63" d="M1276.9 589.2l7.7-0.8 6 0.2 8 1.1 8 2.2 6 2.3 8 4 8 4.8 8 5.6 14 11.8 12 13.3 6 8 6.2 9.5 9.6 18 3.4 8 3.4 10 2 8 1.4 8 0.9 8 0.2 10 -0.4 8 -1 8 -1.8 8 -2.1 6 -2.8 6 -3 4.8 -4 4.8 -4.8 4.4 -5.2 3.6 -6 3.2 -6 2.4 -6 1.7 -12 1.8 -8 0.1 -6-0.5 -6-1 -6-1.7 -6-2.5 -4-2.2 -8-6.3 -6.9-8.6 -7.1-12.8 -3-7.2 -2.7-8 -7-28 -4.3-14 -6.8-16 -14.7-28 -2.8-8 -0.9-6 0.5-8 2.2-8 3.5-7.5 4-5.6 6-5.9 6-4.1 6-2.7z"/>
<path fill="#bd4e36" d="M1280.4 595.2l6.2-0.6 6 0.2 8 1.1 6 1.6 6 2.2 8 3.8 8 4.6 7.3 5.1 12.7 10.8 11.9 13.2 11 16 8.5 16 6.1 16 2.1 8 1.5 8 0.8 8 0.3 8 -0.4 8 -1.1 8 -1.9 8 -2.2 6 -2.6 5.3 -3 4.7 -5 5.8 -4 3.6 -4 2.8 -6 3.2 -6 2.4 -6 1.7 -12 1.4 -6-0.2 -6-0.8 -10-2.9 -6-2.9 -4-2.6 -4-3.3 -4-4.1 -7.2-10.1 -6.3-12 -4.5-11.9 -7.3-26.1 -3.9-12 -5.8-14 -12.8-26 -2.5-8 -0.7-6 0.4-6 2.1-8 2.8-6 4.2-6 5.5-5.4 6-4 6-2.7z"/>
<path fill="#9d1c29" d="M1281.4 601.2l7.2-0.8 6 0.1 6 0.9 6 1.4 6 2.1 8 3.6 8 4.7 6 4.2 12 10.2 6 6.2 6 7.3 10 14.7 8 15.4 3.1 8 2.6 8 2.8 14 0.7 8 0.1 8 -1.5 14 -1.5 6 -2 6 -2.9 6 -3.4 5.1 -4 4.7 -4 3.5 -4 2.8 -6 3.2 -10 3.3 -6 1 -6 0.2 -10-1.1 -10-3.2 -8-4.8 -4-3.4 -4-4.2 -7.8-11.1 -6.2-12 -4-10.2 -11.1-35.8 -4.1-10 -9.4-20 -3.2-8 -1.6-6 -0.5-6 0.5-6 1.6-6 2.9-6 4.3-6 4.6-4.4 5.5-3.6 4.5-2.1z"/>
<path fill="#6f1029" d="M1282.7 607.2l5.9-0.9 6-0.1 6 0.6 6 1.4 12 4.6 12 7 12 9.7 11 11.7 9 12.5 8.5 15.5 5.4 14 3.3 14 1 8 0.3 8 -1.2 14 -3.1 12 -2.2 5.1 -2.8 4.9 -3.2 4.2 -4 4.1 -4.9 3.7 -5.1 2.9 -10 3.3 -10 1 -10-1.2 -6-1.8 -4-1.9 -8-5.4 -6.7-6.9 -6.8-10 -6.3-12 -4.2-10.6 -10.8-33.4 -13.4-32 -1.7-6 -0.8-6 0.3-6 1.5-6 2.8-6 2.8-4 3.8-4 5.4-4 4.1-2z"/>
<path fill="#3c0d16" d="M1286.3 613.2l4.3-0.7 6-0.1 6 0.7 6 1.4 11.5 4.7 10.5 6.4 10 8.3 10.5 11.3 9.5 13.8 6.4 12.2 5.1 14 2.9 14 0.9 14 -1.3 14 -1.3 6 -2.1 6 -4.6 8.5 -2.8 3.5 -4.1 4 -5.1 3.5 -4 2 -8 2.5 -10 0.8 -6-0.8 -4-1 -8-3.7 -7.1-5.3 -6.9-7.9 -6.4-10.1 -5.6-11.4 -4-10.4 -9.2-28.2 -11.1-28 -2.2-8 -0.6-6 0.5-6 1.1-4 1.8-4 3.7-5.6 4-3.9 4-2.8 4-2z"/>
<path fill="#8fb6c6" d="M1325.9 553.2l1.2-2 102.9 0 26.6 13.4 10 6.1 10 7.1 10 8.4 9.1 9 8.4 10 6.5 9.1 0 214.4 -4 5.2 -6 4.9 -6 2 -6-0.5 -4-1.9 -2-1.5 -3.6-3.7 -4.4-6.9 -3.2-7.1 -3.4-10 -7-24 -2.3-6 -2.1-3.8 -2-2.7 -4-3.9 -14-8.5 -6-4.3 -4-4.1 -3.3-4.7 -2.9-6 -2.5-8 -5.8-32 -2.4-10 -4.2-12 -4.6-10 -7.6-14 -8.3-14 -7.8-12 -5.9-8 -10.7-11.7 -24.7-22.3 -8.3-10 -3.3-6 -1.5-6 0.6-6zM1182.3 607.2l6.3-0.8 6 0.1 6 1.7 4 2.7 4 4.9 6.6 11.4 4 6 17.4 20.8 6 7.9 6.1 9.3 5.9 11.2 5.8 14.8 4 16 1.5 14 0 22 0.5 8 6.6 40 1.1 4 1.9 4 3.7 4 4.9 3.1 22 9.4 9.7 5.5 6.8 6 3.1 4 2.1 4 1.8 6 0.4 6 -1.1 6 -1.5 4 -3.3 5.2 -4.4 4.8 -5.6 4.2 -6 3.3 -8 3.1 -8 2 -8 1.2 -8 0.5 -8-0.3 -8-1 -8-2.2 -6-2.9 -4-2.9 -4-4.5 -2-3.4 -1.9-5.1 -1.2-6 -0.3-6 1.9-20 -0.2-8 -1.1-4 -2.1-4 -6.5-8 -14.3-14 -10.3-9.2 -8-5.6 -6-2.6 -6-1.1 -6.4 0.5 -6.6 2 -13 5.5 0-163.6 6-4.6 8-4.6 6-2.6z"/>
<path fill="#4791bb" d="M1352.9 553.2l4-2 27 0 6.7 3 7.7 5 14.3 11.7 6 4.1 6 3.3 24 11.4 8 4.9 6 4.3 8 7 6.9 7.3 6 8 4.8 8 3.7 8 3.1 10 1.3 8 0.3 8 -1.3 12 -5.8 24 -2.3 12 -1.2 12 0.3 8 1.4 6 1.8 4 9 14 4 8.3 2.9 9.7 1.4 12 -0.7 10 -1.3 6 -1.4 4 -3.3 6 -3.6 3.6 -2 1.1 -4 0.8 -4-1.2 -4-3.3 -4-6.2 -2.6-6.8 -2.1-8 -4.1-28 -1.3-4 -1.9-3.1 -3-2.9 -3-1.7 -14-5.1 -6-3.3 -6-5.3 -4-5.7 -2.4-4.9 -2-6 -6-28 -2.3-8 -2.4-6 -6.1-12 -28.3-48 -4.4-6 -4.1-4.4 -16.2-13.6 -6.4-6 -3.4-4 -2.6-4 -1.8-4 -0.8-4 0-4 1-4 2-4 2.2-2.8 3.4-3.2zM1198 639.2l8.6-0.2 4 0.7 4 1.4 8 4.4 10 8.7 8 9.3 8 12.2 6 12.1 4.7 13.4 2.6 12 1 12 -0.6 10 -3.1 20 -0.1 6 0.8 14 -0.6 8 -1.5 6 -3.2 6.2 -4 4.4 -2.1 1.4 -3.9 1.6 -4 0.4 -6-1 -6-2.7 -6-3.8 -8-6.8 -14-14.5 -6-5.5 -8-5.5 -16-8.6 -6-4.3 -5.1-5.3 -4.9-7.6 0-64.1 3.4-6.3 4.2-6 5.3-6 5.1-4.6 6-4.2 6-3.1 8-3zM1270.1 845.2l4.5-0.8 4 0.8 2.7 2 0.9 2 -0.5 2 -2.3 2 -2.8 0.8 -2 0.1 -4-0.9 -2.4-2 -0.7-2 0.4-2z"/>
<path fill="#0d67be" d="M1367 565.2l5.6-0.4 4 1 4 2.1 3.7 3.3 2.8 4 1.8 6 -0.3 4 -2 2.9 -2 1.1 -2 0.5 -4 0.1 -4-0.7 -6-2.4 -2.5-1.5 -3.5-3.1 -2.1-2.9 -0.8-2 -0.4-4 0.6-2 1-2 1.7-1.8zM1414 603.2l8.6-0.1 10 1.9 8 3.1 8 4.5 8 6.5 5.6 6.1 5.3 8 3.5 8 2.4 10 0.3 10 -1 10 -4.8 32 -1.8 8 -2.2 6 -3.3 4.7 -4 2.6 -4 0.7 -4-1 -4-2.9 -2.9-4.1 -3.1-8.1 -3.5-21.9 -3-10 -5.1-10 -16-24 -3.1-6 -2.4-6 -2.1-10 -0.1-6 0.7-4 1.9-4 2.2-2 2.5-1.2zM1203.8 647.2l4.8-0.2 4 0.4 4 0.9 4 1.6 8 5.1 6 5.6 8 9.9 6 10 5.7 12.7 3.6 12 1.9 12 0.1 6 -0.4 6 -1.7 8 -4.6 14 -1.5 6 -2.1 20 -1.3 4 -2.4 4 -3.3 3 -4 1.7 -4 0.4 -4-0.7 -4-1.6 -4-2.5 -6-5.3 -9.6-11 -6.1-6 -5-4 -15.3-10.6 -6-4.9 -5.9-6.5 -3.9-6 -2.9-6 -2.5-8 -1.6-12 0.1-6 0.8-6 1.4-6 2-6 5.2-10 7.3-9 8.5-7 9.5-5.1 6-2z"/>
<path fill="#2b3a8f" d="M1202.6 653.2l8-0.8 8 1.4 4 1.7 4 2.3 6 4.9 7.4 8.5 6.3 10 4.7 10 4 12 1.5 8 0.6 8 -0.5 7 -1.6 7 -2.4 6 -9 18 -5 13.2 -2 3 -2 1.6 -2 0.7 -4-0.3 -4-1.9 -14.7-12.3 -21.3-14.5 -7-5.5 -5.9-6 -4.3-6 -3.1-6 -2.7-8 -1.4-10 0.6-10 2.5-10 4.9-10 6.2-8 6.8-6 9.4-5.4z"/>
<path fill="#1c1f47" d="M1207.9 657.2l6.7 0.1 4 0.8 4 1.6 6 3.6 6 5.6 6 7.7 4.9 8.6 4.3 10 3 10 1.2 8 0 8 -1.1 6 -2.3 6.5 -4 7 -8 10.4 -6 5.4 -4 1.9 -2 0.3 -4-0.2 -8-2.8 -14-7.3 -12-8 -7.7-7.2 -4.5-6 -4.1-8 -2.2-8 -0.8-10 1-8 3.3-10 4.6-8 6.4-7.1 6.5-4.9 7.5-3.8 4-1.3z"/>
<path fill="url(#hP)" d="M1187.7 817.4l2-1.5 2.7-1.3 3.1-0.9 3.2-0.5 2.9-0.1 2.4 0.6 1.8 1.4 1.7 2.1 1.5 2.6 1.1 2.9 0.8 2.9 0.3 2.6 -0.1 2.5 -0.4 2.8 -0.8 2.8 -1.1 2.6 -1.4 2.2 -1.6 1.5 -2 1 -2.5 0.5 -2.7 0.2 -2.7-0.2 -2.5-0.6 -2.1-0.9 -1.6-1.3 -1.3-1.9 -1.2-2.3 -0.9-2.4 -1.1-4.7 -0.2-4.5 0.3-2.3 0.5-2.3 0.8-1.9z"/>
<path fill="url(#hH)" d="M1352.9 553.2l4-2 27 0 6.7 3 7.7 5 14.3 11.7 6 4.1 6 3.3 24 11.4 8 4.9 6 4.3 8 7 6.9 7.3 6 8 4.8 8 3.7 8 3.1 10 1.3 8 0.3 8 -1.3 12 -5.8 24 -2.3 12 -1.2 12 0.3 8 1.4 6 1.8 4 9 14 4 8.3 2.9 9.7 1.4 12 -0.7 10 -1.3 6 -1.4 4 -3.3 6 -3.6 3.6 -2 1.1 -4 0.8 -4-1.2 -4-3.3 -4-6.2 -2.6-6.8 -2.1-8 -4.1-28 -1.3-4 -1.9-3.1 -3-2.9 -3-1.7 -14-5.1 -6-3.3 -6-5.3 -4-5.7 -2.4-4.9 -2-6 -6-28 -2.3-8 -2.4-6 -6.1-12 -28.3-48 -4.4-6 -4.1-4.4 -16.2-13.6 -6.4-6 -3.4-4 -2.6-4 -1.8-4 -0.8-4 0-4 1-4 2-4 2.2-2.8 3.4-3.2zM1198 639.2l8.6-0.2 4 0.7 4 1.4 8 4.4 10 8.7 8 9.3 8 12.2 6 12.1 4.7 13.4 2.6 12 1 12 -0.6 10 -3.1 20 -0.1 6 0.8 14 -0.6 8 -1.5 6 -3.2 6.2 -4 4.4 -2.1 1.4 -3.9 1.6 -4 0.4 -6-1 -6-2.7 -6-3.8 -8-6.8 -14-14.5 -6-5.5 -8-5.5 -16-8.6 -6-4.3 -5.1-5.3 -4.9-7.6 0-64.1 3.4-6.3 4.2-6 5.3-6 5.1-4.6 6-4.2 6-3.1 8-3zM1270.1 845.2l4.5-0.8 4 0.8 2.7 2 0.9 2 -0.5 2 -2.3 2 -2.8 0.8 -2 0.1 -4-0.9 -2.4-2 -0.7-2 0.4-2z"/>
<path fill="url(#hP)" d="M1278.3 587.2l6.3-0.5 8 0.4 6 1 8 2.3 8 3.3 8 4.2 8 5.1 8 5.7 14 12.3 6 6.3 6.4 7.9 5.8 8 6.3 10 9.3 18 3.3 8 3.2 10 3.2 16 0.9 10 0 8 -0.6 10 -1.2 8 -2.1 8 -2.3 6 -3.3 6 -2.8 4 -4.1 4.6 -4 3.4 -6 4 -6 3 -12 3.8 -6 1.1 -8 0.7 -8-0.2 -6-0.6 -6-1.2 -6-1.9 -6-2.6 -4-2.4 -4-3 -4-3.8 -6.7-8.9 -6.3-12 -5-13.8 -7.3-30.2 -4.4-14 -6.8-16 -15.9-30 -2.5-8 -0.7-6 0.7-8 2.4-8 4-8 4.5-5.9 6-5.5 6-3.8 8-3.2zM1424 817.2l2.6-0.7 2 0.4 2 1.4 1.7 2.9 0.4 4 -0.7 2 -1.4 2.1 -2 1.2 -2 0.3 -2-0.6 -2-1.5 -1.7-3.5 0.1-4 0.9-2z"/>
<use href="#coast" x="1332.6" y="729.2"/>
<use href="#grid" x="1332.6" y="729.2"/>
<path fill="none" stroke="#008000" stroke-width="4.0" stroke-linejoin="round" stroke-linecap="butt" d="M1255.7 612.1l0.1-3.5 0.3-1.8 1.2-3.3 0.9-1.2 2.3-2 3.1-1.3 3.2-0.5 1.9 0.2 4.2 1.5 6.3 3.3 2 1.3 8.2 6 2.1 1.3 4.9 2.3 9.9 3.9 8.4 4 2.9 2.1 4.6 5.3 1.4 1 1.8 0.8 4.1 1 6.5 0.6 2.4 0 7.8-1.3 2.4-0.2 2.2 0.3 3.4 1.4 2.9 2.1 1.3 1.3 1.1 1.4 1 2 0.8 2.3 3.5 18 0.9 7.3 0.1 4.3 -0.3 4.2 -1.1 3.9 -1 1.8 -1.4 1.7 -4.9 4.7 -1.3 1.7 -6.4 12.6 -2.5 3.7 -2.4 2 -3.5 1.8 -3.5 1 -1.5-0.1 -1.2-0.5 -2.2-1.8 -2.8-3.9 -0.8-1.7 -1.4-4 -2-9 -2-12.5 -0.9-10.4 -0.6-2.3 -0.9-2.1 -1.2-1.6 -3.1-2.5 -5.6-3.3 -4.7-2.5 -7.7-3.6 -5-2.9 -31.7-21.7 -1.5-1.2 -2.3-3 -1.6-3.2 -0.9-3.5z"/>
<path fill="none" stroke="#008000" stroke-width="4.0" stroke-linejoin="round" stroke-linecap="butt" d="M1321.2 650.4l0.8-0.7 1.4-0.6 7.7-1.1 7.6-2.3 2.7-0.5 2.4-0.2 2.1 0.5 1.7 1.2 1.5 1.8 1.2 2.1 3 7.3 1.4 4.7 1 7.6 -0.1 7.6 -0.8 5.2 -1.5 4.5 -2 3.6 -1.2 1.6 -2.7 2.7 -1.5 0.8 -1.5 0.4 -1.7 0.1 -3.6-0.5 -3.1-1.3 -1.3-1.1 -2.3-3.1 -1.8-3.7 -1.4-4.2 -1.4-10.2 -1.6-6.7 -2.6-8 -2.4-5.4 -0.2-1.1z"/>
<path fill="none" stroke="#008000" stroke-width="4.0" stroke-linejoin="round" stroke-linecap="butt" d="M1333 676.4l0.4-1.3 0.9-1.5 1.2-1.5 1.5-1.3 1.4-1 1.3-0.3 1.3 0.3 1.5 0.9 1.5 1.4 1.3 1.5 1 1.5 0.3 1.3 -0.3 1.3 -1 1.5 -1.3 1.5 -1.5 1.3 -1.5 1 -1.3 0.3 -1.3-0.3 -1.4-1 -2.7-2.8 -0.9-1.5z"/>
<path fill="none" stroke="#008000" stroke-width="4.0" stroke-linejoin="round" stroke-linecap="butt" d="M1297.7 630.7l0.6-0.9 1-0.9 2.9-1.4 2.9-0.5 1.5 0.3 3.2 2 4 3.8 2 3.4 0.6 2.1 -0.2 0.7 -0.6 0.4 -1.1 0.2 -2.8-0.1 -4.4-0.8 -3.2-1.1 -2.8-1.4 -1.1-0.9 -2-2.4 -0.6-1.8z"/>
<path fill="none" stroke="#008000" stroke-width="4.0" stroke-linejoin="round" stroke-linecap="butt" stroke-dasharray="12.5 5.5" d="M1217.9 633.1l1.5-4.5 2.4-4.4 1.4-1.9 1.6-1.5 1.6-1.2 3.7-1.7 3.9-0.9 1.9 0.1 1.9 0.4 3.7 1.9 5.5 4.4 2.4 2.1 9.9 10.9 5.3 4.9 14.6 11.2 14.6 10.2 9.6 8.1 3.9 4.2 1.5 2.2 2 4.1 1.3 4.2 0.3 2.1 0.1 2 -0.4 4.1 -1.3 4 -0.9 1.7 -1.1 1.3 -1.1 0.9 -3 1.4 -3.1 0.4 -1.4-0.2 -1.6-0.9 -1.4-1.4 -4.1-5.8 -1.6-1.8 -5.8-5.7 -6.5-5.4 -4.8-3.1 -10.1-5.6 -17.3-11.1 -14.6-7.1 -9.1-5.5 -3.5-3 -1.2-1.7 -0.7-1.8 -0.7-4.2 0.3-4.3z"/>
<path fill="none" stroke="#008000" stroke-width="4.0" stroke-linejoin="round" stroke-linecap="butt" stroke-dasharray="12.5 5.5" d="M1244.6 633.1l2 0.2 2.6 1.3 3.1 2.2 26.9 21.1 10.2 7.2 2.4 1.9 4.2 3.9 5.4 6.2 1.4 2.1 1.8 4 0.9 4.1 0 3.7 -0.4 1.5 -1.3 1.8 -1.8 1.4 -0.9 0.4 -0.9 0.1 -1.2-0.6 -1.1-1.1 -5.1-7 -8.8-8.2 -7.6-6.3 -14.5-10.2 -7.3-5.5 -4.4-3.7 -6.2-6.8 -2-3.4 -0.4-1.6 0.1-3.4 1.1-3.3 0.8-1.3z"/>
<path fill="none" stroke="#008000" stroke-width="5.0" stroke-linejoin="round" stroke-linecap="butt" stroke-dasharray="12.5 5.5" d="M1218.6 669l35.2 13.8 5.7 1.8 12.2 2.9"/>
<path fill="none" stroke="#008000" stroke-width="4.0" stroke-linejoin="round" stroke-linecap="butt" d="M1165.5 707.3l0.8-1.4 1.6-1.2 2.2-1.2 7.7-3.6 12.9-7 6.9-2.9 7.2-2.3 3.8-0.9 7.5-1.4 7.5-0.6 7.5 0.2 7.4 0.7 10.4 2.1 6.7 2.1 6.3 2.6 2.7 1.4 5.1 3.2 4.8 3.5 8.3 6.6 1.7 1.7 1.3 1.7 0.8 1.6 0.1 1.3 -0.5 2.6 -0.5 1.3 -1.6 2.2 -1.4 1.2 -3.9 1.7 -13.3 3.9 -10.2 2.5 -6.6 1.2 -16.5 1.9 -3.3 0.8 -10.1 3.2 -3.3 0.7 -3.1 0.2 -2.6-0.2 -5-1.4 -4.8-2.1 -4.9-2.6 -12.3-8.5 -10.7-6 -4.1-3.8 -2-2.6 -0.5-1.2z"/>
<path fill="none" stroke="#008000" stroke-width="4.0" stroke-linejoin="round" stroke-linecap="butt" d="M1191.4 708.5l0.9-1.6 1.8-1.5 2.4-1.5 8.5-4 6.2-2.3 6.8-1.8 3.4-0.5 3.4-0.4 6.6 0.1 6.7 0.9 6.5 1.5 6.1 2 5.9 2.5 5.3 2.9 6.3 4.3 1.8 1.5 1.2 1.4 0.5 1.5 -0.1 1.1 -0.5 1.1 -1.8 2.1 -2.5 1.8 -2.2 1.1 -2.6 0.8 -6.2 1 -12.8 1.6 -10 0.5 -6.6-0.1 -6.8-0.6 -6.6-1 -5.6-1.6 -5-1.8 -4.3-2.3 -1.7-1.3 -3.6-3.6 -0.9-1.3 -0.5-1.3z"/>
<path fill="none" stroke="#008000" stroke-width="4.0" stroke-linejoin="round" stroke-linecap="butt" d="M1218.6 709.8l0.6-1.2 2.6-2.3 1.8-1.1 3.7-1.6 2.2-0.7 5-0.8 5.2-0.1 4.6 0.9 2.3 0.9 4.3 2.2 3.5 2.5 3.5 3.2 1.4 2.1 0.1 0.9 -0.7 0.9 -3.1 1.4 -4.1 1 -4.3 0.7 -7.6 0.1 -9.5-0.8 -4.3-0.7 -1.9-0.5 -1.6-0.9 -1.9-1.8 -0.9-1.1 -0.9-2.2z"/>
<path fill="none" stroke="#008000" stroke-width="4.0" stroke-linejoin="round" stroke-linecap="butt" stroke-dasharray="12.5 5.5" d="M1243.3 776.5l-0.3-1.4 0.3-1.7 0.7-2 4.2-8 2.7-3.9 3.1-3.6 5.1-4.5 3.8-2.5 3.9-2.1 4.2-1.8 4.3-1.5 2.1-0.4 3 0.3 2.5 1 1.9 1.5 0.5 0.9 0.2 1.3 -0.3 1.6 -1.6 3.5 -3.3 5.6 -3.2 4.3 -3.6 4.1 -5 5.2 -3.3 3.1 -3.3 2.2 -2.5 0.9 -2.4 0.3 -4.5 0 -4.4-0.4 -2.1-0.4 -1.6-0.7z"/>
<path fill="none" stroke="#008000" stroke-width="4.0" stroke-linejoin="round" stroke-linecap="butt" stroke-dasharray="12.5 5.5" d="M1380.5 614.6l0.2-7 0.4-1.6 0.6-1.3 1-1.1 2.8-1.8 3.3-1.1 1.6-0.2 1.8 0.3 2 0.6 2 0.9 3.8 2.4 2.6 2.3 3.8 6.4"/>
<path fill="none" stroke="#008000" stroke-width="4.0" stroke-linejoin="round" stroke-linecap="butt" stroke-dasharray="12.5 5.5" d="M1391.6 631.9l5.4 5.4 1.1 1.5 0.9 1.8 0.7 2.4 0.6 5.8 -0.5 9.1 -1.1 5.9 -6.3 21.8 -1.7 3.6 -4.4 6.5 -1.8 3.7 -2.3 6.4 -0.4 2.1 -0.1 1.9 0.6 2.9 0.6 1.4 1.6 2.4 0.9 0.7 1.2 0.3 1.4-0.1 6.1-1.5"/>
<path fill="none" stroke="#008000" stroke-width="4.0" stroke-linejoin="round" stroke-linecap="butt" stroke-dasharray="12.5 5.5" d="M1383 644.3l-2 9.1 -0.5 4.5 0.1 4.1 1.1 8.2"/>
<path fill="none" stroke="#008000" stroke-width="4.0" stroke-linejoin="round" stroke-linecap="butt" stroke-dasharray="12.5 5.5" d="M1339.7 570.1l0.6 5.8 0.6 2.9 1.8 3.3 4.4 6.6 2.5 4.9 1.1 3.3 0.1 1.6 -0.7 3 -3 5.7"/>
<path fill="none" stroke="#008000" stroke-width="4.0" stroke-linejoin="round" stroke-linecap="butt" stroke-dasharray="12.5 5.5" d="M1354.5 586.2l4.7 2.2 2.8 1.6 1.2 1.1 1.1 1.5 1.9 3.8 0.9 3.5 -0.2 1.1 -0.6 0.5 -0.9 0.3 -4.7 0.5"/>
<path fill="none" stroke="#008000" stroke-width="4.0" stroke-linejoin="round" stroke-linecap="butt" d="M1385 737.7l1-1.9 2.4-1.9 3.3-1.9 7.7-3.6 11.8-5.1 4.4-1.6 4.3-1.3 4.3-0.7 4.2-0.1 3.7 0.8 3.8 1.5 3.6 2 10.5 6.5 10.3 5.1 3.2 1.8 2.7 1.9 1.9 2.1 1.7 3.7 0.7 3.9 -0.1 1.8 -0.5 1.4 -0.9 1.1 -1.4 1 -3.4 1.4 -1.7 0.2 -1.6-0.1 -1.8-0.8 -1.7-1.7 -5.3-6.5 -2.1-1.8 -5.5-3.3 -3-1.5 -3.1-1.2 -3.2-0.9 -3.2-0.3 -3.5 0.4 -3.6 1.1 -11 4.8 -3.6 0.9 -9.7 1.1 -3.1-0.1 -2.8-0.3 -2.5-0.7 -3.4-1.9 -1.5-1.3 -1.3-1.4 -0.8-1.3z"/>
<path fill="none" stroke="#008000" stroke-width="4.0" stroke-linejoin="round" stroke-linecap="butt" d="M1385 799.1l0.8-1.6 1.5-1.6 2-1.5 2.2-1.2 2.3-0.9 2.1-0.4 2.1 0 2.4 0.5 2.4 0.9 2.3 1.2 1.9 1.3 1.5 1.5 0.9 1.5 0.8 1.9 0.7 4 -0.2 1.8 -0.4 1.6 -0.9 1.3 -2.9 2.3 -3.5 1.5 -1.7 0.3 -3.7-0.2 -3.9-1.3 -3.3-2.1 -2.8-3.2 -1.2-2 -0.9-2 -0.6-2z"/>
<path fill="none" stroke="#008000" stroke-width="4.0" stroke-linejoin="round" stroke-linecap="butt" stroke-dasharray="12.5 5.5" d="M1308.8 811.1l-1.3-5.9 0.1-2.8 0.6-1.5 2.1-3.2 2.4-2.3 1.1-0.4 0.7 0.3 1.5 1.5 1.5 3.2 -0.1 1.9 -1.2 4.2"/>
<path fill="none" stroke="#008000" stroke-width="4.0" stroke-linejoin="round" stroke-linecap="butt" stroke-dasharray="12.5 5.5" d="M1430.2 764.8l0.7-1.1 1.4-1 1.7-0.9 1.9-0.5 1.8-0.3 1.5 0.1 1.3 0.8 1.2 1.3 2.1 3.6 0.6 1.8 0.2 1.6 -0.3 1.4 -0.7 1.6 -2.1 2.9 -1.2 1 -1.1 0.3 -1.6-0.8 -2.1-1.9 -2.1-2.6 -1.8-2.9 -1.2-2.6z"/>
<path fill="none" stroke="#008000" stroke-width="4.0" stroke-linejoin="round" stroke-linecap="butt" stroke-dasharray="12.5 5.5" d="M1224.3 858.7l4.8-4.3 1.2-0.8 1.2-0.3 2.1 0.4 4 2.4"/>
<path fill="none" stroke="#008000" stroke-width="4.0" stroke-linejoin="round" stroke-linecap="butt" stroke-dasharray="12.5 5.5" d="M1408.5 865.9l4.7 5.7 1.3 1 1.2 0.5 1.2 0 1.2-0.5 4.8-3.1"/>
<path fill="none" stroke="#008000" stroke-width="4.0" stroke-linejoin="round" stroke-linecap="butt" stroke-dasharray="12.5 5.5" d="M1392.2 566.1l5.5 7.2"/>
<path fill="none" stroke="#008000" stroke-width="4.0" stroke-linejoin="round" stroke-linecap="butt" d="M1423.3 828l0.8-1.4 1.4-0.8 1.3 0.8 0.8 1.4 -0.8 1.7 -1.3 1.2 -0.9-0.6 -1.2-1.8z"/>
<path fill="none" stroke="#008000" stroke-width="4.0" stroke-linejoin="round" stroke-linecap="butt" d="M1435.6 664.7l0.9-1.6 1.6-0.9 1.6 0.9 0.9 1.6 -0.9 1.8 -1.1 0.9 -0.5 0.2 -1-0.6 -1.4-1.8z"/>
<path fill="none" stroke="#008000" stroke-width="4.0" stroke-linejoin="round" stroke-linecap="butt" d="M1439.9 788.2l2.2 2.2"/>
</g>
<ellipse cx="1332.6" cy="729.2" rx="171.0" ry="173.2" fill="none" stroke="#000" stroke-width="1.3"/>
<g clip-path="url(#cj)">
<circle cx="1700.9" cy="729.2" r="173.2" fill="#f3f9fc"/>
<path fill="#fef9e8" d="M1522.9 551.2l83 0 -1.8 4 -1.8 6 -0.5 4 0.1 6 0.7 4 1.9 6 4.5 8 3.3 4 4.3 4 8.3 5.1 10 3.4 10 1.2 6-0.3 6-0.9 6-1.7 6-2.4 4.4-2.4 5.8-4 4.5-4 3.6-4 2.8-4 2-4 1.9-6 0.5-4 -0.6-8 -1.8-6 -1.9-4 43.8 0 -5.7 6 -5.7 8 -4 8 -2.5 8 -1.5 10 -0.3 12 0.8 14 1.7 12 2.7 12 4.5 14 7 16.9 6 11.9 8 12.7 8 10.2 8 8 2 1.1 2 0.6 2-0.2 2-0.8 8-6.2 23.9-22.2 13.9-14 8.7-10 5.9-8 4.8-8 4.3-10 3.1-12 1.1-10 -0.3-14 -1.7-12 -2.7-10 -3.9-10 -5.7-10 -6.3-8 56.9 0 0 356 -39.6 0 9.6-4.4 8-5.4 6.7-6.2 6-8 3.9-8 2-8 -0.1-8 -1.9-6 -2.3-4 -3.5-4 -8.2-6 -12.4-6 -22.2-8.7 -8-3.6 -9.6-5.7 -6.7-6 -5.7-7.8 -4-8.2 -10.6-32 -5.4-13.7 -4-7.2 -4-4.6 -2-1 -2 0 -2 0.8 -4 3.4 -6 7.1 -29.3 41.2 -5.8 10 -5.4 12 -1.5 2.4 -1.7 1.6 -2.3 1 -4 0.6 -20 0.6 -30 2.2 -6-0.1 -2-0.5 -2-1.7 -0.8-2.1 -3-18 -3-12 -18.2-52 -3.7-8 -4.9-8 -4.6-6 -5.8-6.2 -8-6.5 -10-5.5 -10-3 -12-1.1 -6 0.3 -6 0.9 -8 2.7 -4.1 2.4 -3.9 3 -6 6.8zM1522.9 767.2l0-0.5 5.4 6.5 6.9 6 15.7 11.4 18.7 14.6 6 4 7.2 4 10.1 4.3 10 2.8 12 1.8 16 0.7 2.1 0.4 1.9 1.1 1.4 2.9 0.4 2 1.8 16 2 10 3.2 10 4.7 10 6.5 9.3 6 5.9 6 4 8 3.1 6 0.9 6-0.3 6-1.4 4-1.6 6-3.5 4-3.3 4.6-5.1 2.4-4 1.3-4 0-6 -4.6-20 -1.2-12 0.8-10 1.1-4 1.6-2.5 2-1.3 4-1 8-0.4 8 0.3 12 1.7 6 1.8 6 2.5 6 3.8 4.9 5.1 3.2 6 1.3 6 -0.2 6 -1.4 6 -2.6 6 -6.1 12 -0.6 4 1 4 4.5 6.3 8 7.3 8 5.3 11.1 5.1 -273.1 0z"/>
<path fill="#fce9ae" d="M1566.1 605.2l6.8 0.9 4 1.6 4 2.6 7 6.9 9 12.5 2 1.9 2 1 2 0.3 4-0.8 14-6.1 10-2.5 34-4.2 12-0.5 8 1.4 6 3 6 5.6 6 8.3 6 10.7 6 12.5 5.3 12.9 4.8 14 3.3 12 2.5 12 0.6 8 -0.6 8 -1.3 6 -2.2 6 -3.1 6 -4.3 6 -5 5.5 -14 13.4 -12 13.3 -8 6.9 -4 2.2 -6 1.9 -4 0.3 -4-0.5 -4-1.5 -4-2.6 -2.9-2.9 -3-4 -4.3-8 -3.5-10 -2.4-10 -3.7-20 -3.4-10 -5.6-10 -20.2-30 -4.3-8 -6.4-14 -2.3-3.3 -2-1.5 -2-0.7 -4-0.2 -12 0.6 -6-0.6 -4-1.2 -4-1.8 -4-2.8 -2.5-2.5 -2.9-4 -2.7-6 -1.2-6 0.2-8 1.8-6 3.3-5.8 4-4.1 6-3.2zM1835.7 711.2l7.2 0.2 6.9 1.8 7.1 3.4 5.9 4.6 5.4 6 3.8 6 2.6 6 2.1 8 0.6 8 -0.7 8 -2.2 8 -2.9 6 -4.4 6 -4.4 4 -5.8 3.5 -8 2.5 -8 0.4 -6-1 -8-3.2 -5.9-4.2 -5.5-6 -3.7-6 -3.3-8 -2-8 -0.8-8 0.3-8 1.9-8 3-6.6 4.1-5.4 5.9-5 4-2.2 4-1.5zM1549.7 823.2l5.2-1.1 6 0 8 1.2 8 2.1 12 4.2 12 4.9 8 4.2 6 4.3 4.4 4.2 3.6 4.8 3.9 7.2 2.2 6 1.9 8 0.3 6 -0.7 4 -2 4 -1.8 2 -3 2 -6.8 2.3 -8 0.5 -10-1.1 -10-2.7 -10-4.1 -10-5.5 -10-7.2 -6.7-6.2 -6.7-8 -4.7-8 -2.5-8 -0.3-6 1.8-6 3.1-4.1 2.5-1.9zM1736 835.2l4.9-0.8 4 0.5 4 1.5 3.6 2.8 1.3 2 1 4 -1 4 -2.9 3.4 -4 2.2 -6 1 -6-1.3 -2.4-1.3 -2.2-2 -2.2-4 -0.1-4 0.6-2 1.2-2 2.1-2z"/>
<path fill="#fdd083" d="M1658.2 639.2l4.7-0.6 6 0 6 0.9 4 1 8 3.7 8 6.2 4 4.4 4 5.5 5.8 10.9 4 12 2.2 14 0.3 10 -1 10 -2 8 -3.3 7.2 -3.2 4.8 -8.8 11.1 -10.8 16.9 -4.6 6 -2.6 2.6 -4 3 -6 2 -4-0.3 -2-0.7 -4-2.5 -4-4.9 -2.5-5.2 -1.7-6 -0.9-6 -0.2-8 0.5-16 -1.1-8 -3.2-8 -9.9-16 -4.1-8 -2.8-8 -1.1-6 0-6 1-6 2.3-6 4-6 4.1-4 5.6-3.7 6-2.5zM1570.4 843.2l2.5-0.7 4-0.3 6 0.8 6.4 2.2 7.6 4.3 6 5.4 2.9 4.3 1.4 4 0.1 2 -0.3 2 -1 2 -2.1 2 -3 1.2 -4 0.5 -4-0.3 -8-2.4 -8.6-5 -6.3-6 -3.4-6 -0.6-4 0.4-2 1.2-2z"/>
<path fill="#f9af7b" d="M1663.2 659.2l5.7-1.5 6-0.1 6 1.4 4 1.7 4 2.7 4.1 3.8 3.9 5.5 2.2 4.5 1.8 6 0.7 6 -0.2 6 -1.4 6 -1.7 4 -3.4 4.9 -4 3.7 -6 3.3 -4 1 -4-0.3 -2-0.8 -4-2.9 -6-6.2 -6-7.4 -3.5-5.3 -3-6 -1.8-6 -0.4-4 0.2-4 1-4 2-4 3.4-4 2.6-2zM1669.8 741.2l1.1-0.5 2 0.8 1 1.7 0.8 4 -0.7 4 -1.1 2.9 -2 2.3 -2 0.8 -2-0.8 -0.9-1.2 -0.9-2 -0.2-2.9 0.6-3.1 1.4-3.3 2-2.3z"/>
<path fill="#d7eef9" d="M1643 557.2l3.9-0.6 4 0.2 4 0.9 4 1.9 4 3.3 1.8 2.3 2.7 6 0.5 4 -0.5 4 -2.7 6 -1.8 2.2 -4 3.2 -6 2.6 -4 0.6 -4-0.2 -4-0.8 -3.6-1.6 -5-4 -1.5-2 -2-4 -0.8-4 0.1-4 2-6 2.8-4 2.1-2 3.9-2.5zM1766.9 579.2l8-0.5 8 1.6 6 3 4 3 2.9 2.9 5.1 7.5 3.4 8.5 1.7 8 0.5 10 -1 10 -2.7 10 -4.3 10 -5.6 8.8 -6.2 7.2 -7.8 6.3 -8 4 -4 1 -4 0.3 -6-1.1 -6-3.1 -6-5.5 -4.3-5.9 -4.2-8 -3.5-10 -1.9-10 -0.3-10 0.8-8 2-8 3.3-8 4.1-6.6 6-6.9 6-4.7 6-3.3zM1565.5 709.2l5.4-0.7 4 0.3 6 1.5 4 2 4 2.7 4 3.8 3.3 4.4 2.3 4 3.4 10 2.4 14 1.4 6 2.5 6 6.7 12.6 2 5.4 0.7 4 -0.2 6 -1.2 4 -2.8 4 -4.5 3.1 -4 1.1 -6.3-0.2 -5.7-1.9 -6-4.1 -5.1-6 -6.9-12.7 -3.6-5.3 -16.2-16 -3.1-4 -3.1-5.6 -2.1-6.4 -0.7-6 0.6-6 2-6 2.3-4 3.9-4.4 5.2-3.6zM1665.6 835.2l3.3-0.8 4-0.3 4 0.5 4 1.3 2.5 1.3 3.5 2.7 2.7 3.3 2.1 4 1.1 4 0.4 4 -0.4 4 -1.1 4 -2.3 4 -2.5 2.9 -2 1.6 -4 2.2 -4 1.1 -4 0.2 -4-0.8 -3.1-1.2 -3.2-2 -3.7-3.6 -3.8-6.4 -1.2-4 -0.5-4 0.2-4 1-4 2.3-4 2-2.2 2.4-1.8z"/>
<path fill="#b4dcf2" d="M1761.2 603.2l5.7-1.8 4-0.1 4 0.8 4 1.9 3.7 3.2 2.8 4 2.4 6 1 6 0 6 -1 6 -2 6 -3 6 -3.9 5.1 -4 3.7 -5.7 3.2 -4.3 1.1 -4-0.1 -4-1.3 -2.8-1.7 -3.2-3 -3.3-5 -1.6-4 -1.2-4 -0.7-6 0.2-6 0.7-4 1.8-6 2-4 2.7-4 3.4-3.8zM1571.6 731.2l3.3-0.8 2 0.5 2.8 2.3 1.2 2.3 0.2 3.7 -0.8 2 -1.4 1.5 -2 0.8 -2-0.1 -2-0.8 -2-1.6 -1.8-3.8 0-2 0.7-2z"/>
<path fill="url(#hP)" d="M1619.3 624.1l2.3-1.8 3.2-1.1 3.8-0.6 4.1-0.2 8.2 0.1 4.6 0.2 4.8 0.7 19.5 4.5 15.3 2.8 4.9 1.1 4.6 1.4 4.1 1.9 3 1.9 2.8 2.1 2.6 2.3 2.3 2.5 2 2.7 1.8 3 1.6 3.6 1.3 4.1 1 4.3 0.7 4.4 0.8 8.8 0.2 8.6 -0.2 4.2 -1 8.5 -0.8 4 -2.1 7.9 -1.4 3.9 -1.5 3.7 -1.9 3.3 -2.1 2.9 -2.3 2.2 -2.5 2 -2.8 1.7 -2.8 1.4 -3 1.1 -2.9 0.6 -3 0.3 -3.2-0.1 -3.2-0.4 -3.1-0.8 -3-1.1 -2.6-1.5 -2.2-1.9 -1.9-2.5 -4.8-9 -1.9-2.8 -6.9-9.1 -7.5-9 -3-3 -9.5-8.6 -3-3.1 -2.6-3.4 -2.4-3.8 -4.2-8.4 -1.8-4.4 -1.4-4.3 -1-4.3 -1.6-8.6 -0.5-4.4 0-4.2 0.6-3.6zM1650 736.1l3.4-1.9 5.1-1 5.9-0.4 5.9 0.4 5.1 1 3.5 1.9 1.5 2.3 0.9 3 0.3 3.6 -0.5 7.5 -1 6.7 -1.8 6.9 -1.3 3.2 -1.6 2.7 -2 2 -2.5 1.4 -3.1 1.1 -3.4 0.6 -3.4 0.1 -3.1-0.4 -2.5-1 -2.1-2 -1.6-2.9 -1.3-3.6 -1-3.9 -1.2-7.5 -0.8-7.2 -0.1-3.8 0.2-3.5 0.9-3.1z"/>
<use href="#coast" x="1700.9" y="729.2"/>
<use href="#grid" x="1700.9" y="729.2"/>
<path fill="none" stroke="#954f99" stroke-width="3.0" d="M1707.5 627.7l0.2-7 0.8-3.3 1.8-3.6 1.2-1.8 2.9-3.4 1.7-1.4 2.3-1.6 2.6-1.4 2.9-1.2 6.2-2 6.3-1.2 3.4-0.3 6.9-0.1 7 0.9 8.2 2.3 8.3 3.4 3.9 2.2 3.6 2.4 3.3 2.8 3.3 3.1 3 3.3 2.8 3.7 2.5 3.7 2.2 3.9 1.9 4.2 1.6 4.4 1.4 4.6 1 4.7 0.6 4.8 0.3 4.7 -0.2 5 -0.8 5.2 -2.7 10.3 -4.9 15.5 -10.2 25.6 -6.4 18.7 -1.8 4.5 -4.2 8 -4.7 7.4 -2.6 3.4 -2.9 3.1 -3.1 2.8 -3.5 2.4 -3.8 2.2 -4.1 1.8 -8.4 2.9 -8.1 1.7 -4 0.4 -4.1 0.2 -8-0.2 -7.4-1.1 -13.7-4.4 -3.3-0.8 -8.9-1.8 -2.8-0.3 -2.8 0 -2.6 0.4 -2.5 1 -2.5 1.4 -2.3 1.8 -4.4 4.1 -3.9 4.1 -4.7 7.3 -1.7 2.3 -2 2 -5.1 3.8 -5.9 3.1 -3 1 -3.1 0.6 -3.3 0.1 -3.5-0.4 -3.6-0.8 -3.6-1.1 -3.4-1.4 -6.1-3.2 -5.5-4.1 -2.5-2.4 -2.3-2.7 -2.1-2.8 -2.1-3.5 -1.9-3.8 -1.7-4.2 -1.3-4.2 -1-4.2 -0.6-4 -0.1-3.6 0.1-3.5 0.5-3.5 1.7-6.8 1.2-3.2 1.7-3.1 4.1-6.1 2.5-2.8 5.4-5.1 3-2.2 6.7-3.8 3.6-1.6 7.3-2.6 7.7-1.8 20.2-2 20-1.4 16.3-0.6 3.9-0.4 6.9-1.4 6.2-1.9 2.9-1.1 2.6-1.4 2.2-1.7 1.8-1.9 1.4-2.1 2.3-4.7 1.4-5 0.3-2.7 0-2.8 -0.3-2.9 -1-5.8 -1.8-6.3 -4.9-10.2 -1.5-3.5 -1.1-3.5 -1.2-7 -0.5-10.5z"/>
<path fill="none" stroke="#954f99" stroke-width="3.0" d="M1661.3 617.4l0.1-8.8 0.2-2.9 0.5-2.8 0.9-2.6 1.3-2.6 3.6-4.9 4.5-4.3 2.6-1.9 3.3-1.7 3.7-1.5 8.2-2.1 14.1-2.3 11.4-0.9 11.7-0.2 17.3 1 11.6 1.5 5.6 1.2 5.5 1.6 5.5 2.1 5.4 2.3 5.3 2.8 5.2 3 4.9 3.3 4.5 3.6 4.1 3.9 4 4.2 3.6 4.6 3.3 4.7 3 4.9 2.5 5.1 2.1 5.3 1.7 5.6 1.4 5.8 0.9 5.9 0.6 5.8 0.2 5.8 -0.3 5.8 -0.9 5.7 -1.2 5.8 -6 22.2 -3.4 10.4 -11.9 33.5 -9.7 23.2 -2.3 4.6 -2.5 4.5 -2.9 4.1 -3.3 4 -3.7 3.8 -3.9 3.6 -4.2 3.3 -4.4 3.1 -4.5 2.7 -4.7 2.5 -5 2 -10.5 3.4 -10.6 2.4 -5 0.8 -5.1 0.4 -15.4 0.7 -10.9 1.3 -28.6 5.4 -18.3 4 -4.5 0.7 -4.6 0.4 -9.2-0.1 -9.2-1.1 -4.6-1 -4.3-1.2 -4.3-1.6 -4.2-2 -4.1-2.2 -7.8-5.1 -3.6-2.8 -6.5-6.1 -5.8-6.9 -2.5-3.7 -2.3-3.9 -2.1-4.2 -1.8-4.4 -1.6-4.6 -2.3-9.5 -0.7-4.6 -0.7-9.2 0.1-4.7 0.4-4.6 0.8-4.5 1.1-4.4 1.5-4.3 1.8-4.3 2.2-4.2 2.5-4 2.8-3.8 2.9-3.4 2.9-2.8 3.2-2.6 6.9-4.5 7.5-3.8 4.2-1.6 9.1-2.5 18.7-3.4 18.6-2 13.5-2.6 5.4-1.9 2.3-1.4 3.9-3.4 3.1-4.1 1-2.2 0.6-2.2 0-2.2 -0.6-2.2 -1-2.3 -4.9-9.7 -4.7-8.5 -1.4-2.9 -1.1-3 -1.2-6.7 -0.5-10.5z"/>
<path fill="none" stroke="#954f99" stroke-width="3.0" d="M1628.8 610.6l-0.5-7 0.5-7 0.7-3.3 1-3.2 1.5-3.2 1.9-3.2 2.2-3 2.5-2.8 2.7-2.7 2.9-2.2 3.4-2.1 3.7-1.7 8.1-2.7 14-3.1 5.5-0.8 11.6-1.1 11.9-0.5 13.5-0.2 13.9 0.4 6.9 0.6 13.2 2 12.7 2.9 6.3 1.8 6.1 2.1 6.1 2.4 12 5.6 6 3.3 5.7 3.6 5.4 3.8 5.1 4.2 4.8 4.4 4.5 4.8 4.4 5.1 3.9 5.3 3.5 5.5 2.9 5.7 2.2 5.8 1.7 6.2 1.3 6.4 0.8 6.4 0.8 12.8 -0.1 6.3 -0.5 6.4 -0.8 6.3 -2.3 12.5 -1.4 6.2 -1.7 5.8 -8.5 22.7 -1.8 5.7 -1.4 5.7 -4.2 22.9 -1.3 5.6 -4.3 15.8 -3.6 10.1 -2.3 4.9 -2.7 4.9 -3.1 4.9 -3.2 4.8 -3.6 4.6 -3.9 4.3 -4.1 3.9 -4.4 3.6 -4.9 3.3 -5.1 3 -5.3 2.7 -11.1 4.5 -5.9 1.9 -6.2 1.5 -12.9 2.1 -18.4 1.7 -11.5 0.3 -11.3-0.4 -10.9-0.6 -10.2-1 -10.2-1.3 -20.6-3.6 -10.2-2.5 -5.1-1.5 -10.5-3.7 -10.4-4.5 -5-2.6 -4.9-2.9 -5-3.4 -4.8-3.7 -9.3-8.1 -4.3-4.4 -7.4-8.6 -6.2-8.9 -5.2-9.4 -2.3-4.8 -3.9-10.1 -3.1-10.4 -1-5.2 -0.6-5.1 -0.1-9.4 0.4-4.6 0.8-4.6 1-4.5 1.4-4.3 1.7-4.3 2.2-4.3 2.5-4.2 2.8-4 3-3.7 3.2-3.5 3.4-3.1 3.9-2.9 8.2-5 8.4-4.4 4-1.7 8-3 12-3.8 14.4-4 3.3-1.2 2.8-1.7 2.3-1.8 4.3-4.4 1.6-2.4 1.3-2.5 0.8-2.6 0-2.6 -0.5-2.8 -1-2.8 -2.6-5.9 -4.9-13.1 -2.4-6.9z"/>
<path fill="none" stroke="#954f99" stroke-width="3.0" d="M1586 603.8l-1.2 11.4 -0.6 2.9 -0.9 2.8 -3.2 6.3 -2.1 3.2 -4.8 5.8 -2.6 2.5 -2.7 2 -6.2 3.2 -9.9 3.7 -6.7 1.7 -13.8 2.4"/>
<path fill="none" stroke="#954f99" stroke-width="3.0" d="M1529.6 740.6l4 18.3 2.8 9.1 4.2 10.4 5.1 10.5 3 5.1 3.1 4.8 3.4 4.7 3.7 4.5 8.1 8.5 8.8 8 4.7 3.8 10.1 7 10.6 6.6 10.9 6.2 62.9 31.1 32.4 13.7 5.2 2.4 5.1 2.8 8.6 5.1"/>
<path fill="none" stroke="#954f99" stroke-width="3.0" d="M1863.2 661.9l4.4 20.4 1.8 10.4 1.6 17 0.4 17.2 -0.9 17.5 -1.3 11.4 -0.9 5.4 -2 8.8 -4.8 16.8"/>
<path fill="none" stroke="#008000" stroke-width="4.0" stroke-linejoin="round" stroke-linecap="butt" d="M1616.4 622.1l0.7-3.4 1-2 0.8-0.7 1.3-0.8 3.6-0.7 4.2 0 4 0.6 4.3 1.4 6 3.2 3.5 2.6 6.4 6 17.3 14.8 6.5 8.1 1.7 1.8 1.7 1.3 1.2 0.4 5.1 0.3 1.1 0.5 1.3 1.1 2.2 3.3 6 11.6 0.4 1.4 0 1.1 -0.4 0.9 -1.7 1.7 -2 1.1 -0.8 0 -0.9-0.3 -0.9-0.8 -4-6.4 -3.3-5.9 -2.4-3.5 -8.8-11 -1.6-1.4 -1.6-0.8 -1.7-0.2 -1.9 0.3 -12.5 4.8 -2.5 0.5 -1.5 0 -3.3-0.6 -5-1.8 -4.3-2.1 -4.2-2.6 -3.9-2.8 -2.8-2.3 -2.5-2.5 -2.9-3.8 -2.1-3.7 -0.8-2.5 -0.3-2.1 0.1-3z"/>
<path fill="none" stroke="#008000" stroke-width="4.0" stroke-linejoin="round" stroke-linecap="butt" stroke-dasharray="12.5 5.5" d="M1578.1 667.9l0.4-1.6 1-1.7 1.2-1.6 3.2-2.8 1.6-1 1.8-0.7 1.9-0.5 4.3-0.3 4.3 0.3 5 1 7.5 2.9 6.6 3.2 23 15.1 15.6 9.4 1.5 1.2 0.2 0.5 -0.4 0.7 -1 0.8 -2.8 1.3 -3.3 0.9 -2.1 0.2 -12.7-1.4 -7.4-0.1 -7.4 0.1 -10.1 1.4 -2.4 0.1 -2.3-0.3 -2.3-0.7 -4.2-2.3 -4-2.9 -5.5-4.5 -3.4-3.4 -2.9-3.5 -3.4-4.9 -1.4-3.4z"/>
<path fill="none" stroke="#008000" stroke-width="4.0" stroke-linejoin="round" stroke-linecap="butt" d="M1586.7 718.5l0.3-1 0.9-1.1 1.4-1.2 3.2-2 3.6-1.6 4.5-0.9 14.4-1.6 4.5 0 2.9 0.6 2.1 0.9 1.5 1.1 0.3 0.6 -0.2 0.9 -1.9 2.2 -2.7 2.2 -3.2 1.8 -4 1.3 -13.6 3.2 -4.6 0.6 -2-0.3 -1.6-0.6 -3.2-1.8 -2.2-2.2z"/>
<path fill="none" stroke="#008000" stroke-width="4.0" stroke-linejoin="round" stroke-linecap="butt" stroke-dasharray="12.5 5.5" d="M1735 676.5l0.2-0.9 5.4-6 1.1-1.7 1.1-4.1 0.9-6.4 1.4-5 1.2-2.9 0.6-1 0.7-0.4 0.8 0.1 0.9 0.6 2 1.9 1.3 2.3 0.2 1.4 0 1.6 -0.7 3.5 -1.6 5.1 -1.5 3.6 -1.8 3.2 -1.1 1.4 -3.6 3.2 -2.6 1.4 -1.2 0.3 -2.3-0.2 -1.1-0.6z"/>
<path fill="none" stroke="#008000" stroke-width="4.0" stroke-linejoin="round" stroke-linecap="butt" d="M1606.5 586.3l0.9-1.5 1.6-1 1.5 1 0.9 1.5 -0.9 1.5 -1.5 1 -1-0.5 -1.4-1.5z"/>
<path fill="none" stroke="#008000" stroke-width="4.0" stroke-linejoin="round" stroke-linecap="butt" d="M1828.9 760.1l1.4-2 2.4-1.8 1.2-0.5 1.1-0.1 1 0.4 2.1 2.1 2.3 4 1.3 3.6 0.1 2.1 -0.3 0.8 -0.7 0.6 -2.2 0.9 -2.5 0.1 -1.9-0.5 -1.6-1.3 -1.9-2.7 -1.5-2.9 -0.5-2z"/>
</g>
<ellipse cx="1700.9" cy="729.2" rx="171.0" ry="173.2" fill="none" stroke="#000" stroke-width="1.3"/>
<text x="964.5" y="40.6" text-anchor="middle" font-weight="bold" font-size="28.77">z anomaly, v'T' anomaly and temperature anomaly during regionalized events</text>
<text x="55.4" y="109.3" font-weight="bold" font-size="28.7">(a)</text>
<text x="227.2" y="109.3" text-anchor="middle" font-size="28.6">z, onset</text>
<text x="423.7" y="109.3" font-weight="bold" font-size="28.7">(b)</text>
<text x="595.5" y="109.3" text-anchor="middle" font-size="28.6">z, end - 4 d</text>
<text x="792.0" y="109.3" font-weight="bold" font-size="28.7">(c)</text>
<text x="963.8" y="109.3" text-anchor="middle" font-size="28.6">z, end</text>
<text x="1160.3" y="109.3" font-weight="bold" font-size="28.7">(d)</text>
<text x="1328.1" y="77.6" text-anchor="middle" font-size="28.6">z-difference</text>
<text x="1332.3" y="109.3" text-anchor="middle" font-size="28.6">end - onset</text>
<text x="1528.6" y="109.3" font-weight="bold" font-size="28.7">(e)</text>
<text x="1700.4" y="109.3" text-anchor="middle" font-size="28.6">T, end - 4 d</text>
<text x="55.4" y="547.5" font-weight="bold" font-size="28.7">(f)</text>
<text x="227.2" y="547.5" text-anchor="middle" font-size="28.6">z, onset</text>
<text x="423.7" y="547.5" font-weight="bold" font-size="28.7">(g)</text>
<text x="595.5" y="547.5" text-anchor="middle" font-size="28.6">z, end - 4 d</text>
<text x="792.0" y="547.5" font-weight="bold" font-size="28.7">(h)</text>
<text x="963.8" y="547.5" text-anchor="middle" font-size="28.6">z, end</text>
<text x="1160.3" y="547.5" font-weight="bold" font-size="28.7">(i)</text>
<text x="1328.1" y="515.8" text-anchor="middle" font-size="28.6">z-difference</text>
<text x="1332.3" y="547.5" text-anchor="middle" font-size="28.6">end - onset</text>
<text x="1528.6" y="547.5" font-weight="bold" font-size="28.7">(j)</text>
<text x="1700.4" y="547.5" text-anchor="middle" font-size="28.6">T, end - 4 d</text>
<text transform="translate(40.8 294.3) rotate(-90)" text-anchor="middle" font-weight="bold" font-size="28.7">100 hPa</text>
<text transform="translate(40.8 731.2) rotate(-90)" text-anchor="middle" font-weight="bold" font-size="28.7">500 hPa</text>
<path d="M91.8 928.7L56.5 943.2L91.8 957.7z" fill="#1c1f47"/>
<rect x="91.80" y="928.7" width="58.40" height="29.0" fill="#2b3a8f"/>
<rect x="149.90" y="928.7" width="58.40" height="29.0" fill="#0d67be"/>
<rect x="208.00" y="928.7" width="58.40" height="29.0" fill="#4791bb"/>
<rect x="266.10" y="928.7" width="58.40" height="29.0" fill="#8fb6c6"/>
<rect x="324.20" y="928.7" width="58.40" height="29.0" fill="#d4dbde"/>
<rect x="382.30" y="928.7" width="58.40" height="29.0" fill="#e9d9d4"/>
<rect x="440.40" y="928.7" width="58.40" height="29.0" fill="#d9a997"/>
<rect x="498.50" y="928.7" width="58.40" height="29.0" fill="#cb7d63"/>
<rect x="556.60" y="928.7" width="58.40" height="29.0" fill="#bd4e36"/>
<rect x="614.70" y="928.7" width="58.40" height="29.0" fill="#9d1c29"/>
<rect x="672.80" y="928.7" width="58.40" height="29.0" fill="#6f1029"/>
<path d="M730.9 928.7L766.8 943.2L730.9 957.7z" fill="#3c0d16"/>
<path d="M56.5 943.2L91.8 928.7L730.9 928.7L766.8 943.2L730.9 957.7L91.8 957.7z" fill="none" stroke="#000" stroke-width="1.2" stroke-linejoin="miter"/>
<path d="M149.9 957.7V965.7" stroke="#000" stroke-width="1.2"/>
<text x="150.4" y="988.6" text-anchor="middle" font-size="25">−0.8</text>
<path d="M266.1 957.7V965.7" stroke="#000" stroke-width="1.2"/>
<text x="266.6" y="988.6" text-anchor="middle" font-size="25">−0.4</text>
<path d="M382.3 957.7V965.7" stroke="#000" stroke-width="1.2"/>
<text x="382.3" y="988.6" text-anchor="middle" font-size="25">0</text>
<path d="M498.5 957.7V965.7" stroke="#000" stroke-width="1.2"/>
<text x="498.5" y="988.6" text-anchor="middle" font-size="25">0.4</text>
<path d="M614.7 957.7V965.7" stroke="#000" stroke-width="1.2"/>
<text x="614.7" y="988.6" text-anchor="middle" font-size="25">0.8</text>
<path d="M730.9 957.7V965.7" stroke="#000" stroke-width="1.2"/>
<text x="730.9" y="988.6" text-anchor="middle" font-size="25">1.2</text>
<text x="411.5" y="1025" text-anchor="middle" font-size="32">standardized height anomaly</text>
<path d="M1197.0 928.7L1161.7 943.2L1197.0 957.7z" fill="#7b84a9"/>
<rect x="1197.00" y="928.7" width="58.40" height="29.0" fill="#7b9ac6"/>
<rect x="1255.10" y="928.7" width="58.40" height="29.0" fill="#92bce0"/>
<rect x="1313.20" y="928.7" width="58.40" height="29.0" fill="#b4dcf2"/>
<rect x="1371.30" y="928.7" width="58.40" height="29.0" fill="#d7eef9"/>
<rect x="1429.40" y="928.7" width="58.40" height="29.0" fill="#f3f9fc"/>
<rect x="1487.50" y="928.7" width="58.40" height="29.0" fill="#fef9e8"/>
<rect x="1545.60" y="928.7" width="58.40" height="29.0" fill="#fce9ae"/>
<rect x="1603.70" y="928.7" width="58.40" height="29.0" fill="#fdd083"/>
<rect x="1661.80" y="928.7" width="58.40" height="29.0" fill="#f9af7b"/>
<rect x="1719.90" y="928.7" width="58.40" height="29.0" fill="#f0907e"/>
<rect x="1778.00" y="928.7" width="58.40" height="29.0" fill="#dc737b"/>
<path d="M1836.1 928.7L1872.0 943.2L1836.1 957.7z" fill="#b57078"/>
<path d="M1161.7 943.2L1197.0 928.7L1836.1 928.7L1872.0 943.2L1836.1 957.7L1197.0 957.7z" fill="none" stroke="#000" stroke-width="1.2" stroke-linejoin="miter"/>
<path d="M1255.1 957.7V965.7" stroke="#000" stroke-width="1.2"/>
<text x="1255.6" y="988.6" text-anchor="middle" font-size="25">−0.8</text>
<path d="M1371.3 957.7V965.7" stroke="#000" stroke-width="1.2"/>
<text x="1371.8" y="988.6" text-anchor="middle" font-size="25">−0.4</text>
<path d="M1487.5 957.7V965.7" stroke="#000" stroke-width="1.2"/>
<text x="1487.5" y="988.6" text-anchor="middle" font-size="25">0</text>
<path d="M1603.7 957.7V965.7" stroke="#000" stroke-width="1.2"/>
<text x="1603.7" y="988.6" text-anchor="middle" font-size="25">0.4</text>
<path d="M1719.9 957.7V965.7" stroke="#000" stroke-width="1.2"/>
<text x="1719.9" y="988.6" text-anchor="middle" font-size="25">0.8</text>
<path d="M1836.1 957.7V965.7" stroke="#000" stroke-width="1.2"/>
<text x="1836.1" y="988.6" text-anchor="middle" font-size="25">1.2</text>
<text x="1516.5" y="1025" text-anchor="middle" font-size="32">standardized temperature anomaly</text>
</svg></body></html>
